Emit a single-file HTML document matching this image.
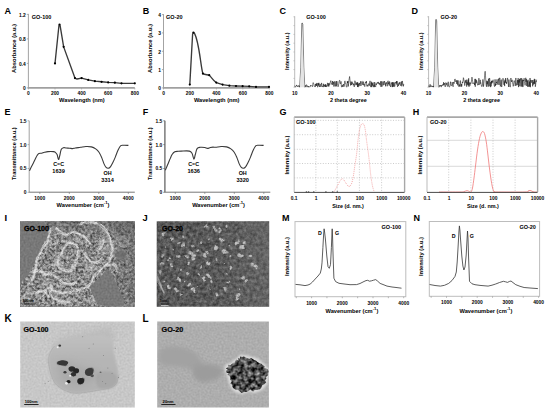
<!DOCTYPE html>
<html><head><meta charset="utf-8"><style>
html,body{margin:0;padding:0;background:#fff;}
svg{display:block;}
text{font-family:"Liberation Sans",sans-serif;font-weight:bold;}
</style></head><body>
<svg width="550" height="412" viewBox="0 0 550 412">
<rect width="550" height="412" fill="#fff"/>
<text x="4.60" y="13.90" font-size="9" text-anchor="start" fill="#000" >A</text>
<text x="142.80" y="13.90" font-size="9" text-anchor="start" fill="#000" >B</text>
<text x="279.40" y="13.90" font-size="9" text-anchor="start" fill="#000" >C</text>
<text x="411.50" y="13.90" font-size="9" text-anchor="start" fill="#000" >D</text>
<text x="4.60" y="115.40" font-size="9" text-anchor="start" fill="#000" >E</text>
<text x="142.80" y="115.40" font-size="9" text-anchor="start" fill="#000" >F</text>
<text x="279.60" y="115.40" font-size="9" text-anchor="start" fill="#000" >G</text>
<text x="412.80" y="115.40" font-size="9" text-anchor="start" fill="#000" >H</text>
<text x="4.60" y="221.00" font-size="9.4" text-anchor="start" fill="#000" >I</text>
<text x="142.60" y="221.00" font-size="9.4" text-anchor="start" fill="#000" >J</text>
<text x="281.90" y="221.00" font-size="9" text-anchor="start" fill="#000" >M</text>
<text x="413.40" y="221.00" font-size="9" text-anchor="start" fill="#000" >N</text>
<text x="4.40" y="322.10" font-size="10" text-anchor="start" fill="#000" >K</text>
<text x="142.50" y="322.10" font-size="10" text-anchor="start" fill="#000" >L</text>
<line x1="28.40" y1="13.90" x2="28.40" y2="88.00" stroke="#999" stroke-width="0.9" />
<line x1="26.80" y1="14.40" x2="28.40" y2="14.40" stroke="#999" stroke-width="0.8" />
<text x="25.80" y="16.80" font-size="4.9" text-anchor="end" fill="#000" >1.2</text>
<line x1="26.80" y1="38.90" x2="28.40" y2="38.90" stroke="#999" stroke-width="0.8" />
<text x="25.80" y="41.30" font-size="4.9" text-anchor="end" fill="#000" >0.8</text>
<line x1="26.80" y1="63.40" x2="28.40" y2="63.40" stroke="#999" stroke-width="0.8" />
<text x="25.80" y="65.80" font-size="4.9" text-anchor="end" fill="#000" >0.4</text>
<line x1="26.80" y1="87.90" x2="28.40" y2="87.90" stroke="#999" stroke-width="0.8" />
<text x="25.80" y="90.30" font-size="4.9" text-anchor="end" fill="#000" >0</text>
<line x1="27.90" y1="87.90" x2="134.80" y2="87.90" stroke="#a0a0a0" stroke-width="1.6" />
<line x1="28.40" y1="88.20" x2="28.40" y2="89.40" stroke="#999" stroke-width="0.8" />
<text x="28.40" y="94.50" font-size="4.9" text-anchor="middle" fill="#000" >0</text>
<line x1="55.00" y1="88.20" x2="55.00" y2="89.40" stroke="#999" stroke-width="0.8" />
<text x="55.00" y="94.50" font-size="4.9" text-anchor="middle" fill="#000" >200</text>
<line x1="81.60" y1="88.20" x2="81.60" y2="89.40" stroke="#999" stroke-width="0.8" />
<text x="81.60" y="94.50" font-size="4.9" text-anchor="middle" fill="#000" >400</text>
<line x1="108.20" y1="88.20" x2="108.20" y2="89.40" stroke="#999" stroke-width="0.8" />
<text x="108.20" y="94.50" font-size="4.9" text-anchor="middle" fill="#000" >600</text>
<line x1="134.80" y1="88.20" x2="134.80" y2="89.40" stroke="#999" stroke-width="0.8" />
<text x="134.80" y="94.50" font-size="4.9" text-anchor="middle" fill="#000" >800</text>
<text x="81.90" y="102.00" font-size="5.7" text-anchor="middle" fill="#000" >Wavelength (nm)</text>
<text x="0" y="0" font-size="5.8" text-anchor="middle" fill="#000" transform="translate(16.03,48.50) rotate(-90)">Absorbance (a.u.)</text>
<text x="31.80" y="19.20" font-size="5.5" text-anchor="start" fill="#000" >GO-100</text>
<path d="M55.00,63.40 L58.92,25.71 Q59.52,23.91 60.12,25.71 L63.64,46.86 L74.95,78.10 L76.94,79.02 L81.60,78.10 L88.25,79.94 L94.90,81.16 L101.55,81.78 L108.20,82.39 L114.85,82.69 L121.50,83.31 L134.80,83.31" fill="none" stroke="#3a3a3a" stroke-width="1.35" stroke-linejoin="round"/>
<circle cx="55.00" cy="63.40" r="1.1" fill="#000"/>
<circle cx="59.52" cy="24.51" r="1.1" fill="#000"/>
<circle cx="63.64" cy="46.86" r="1.1" fill="#000"/>
<circle cx="74.95" cy="78.10" r="1.1" fill="#000"/>
<circle cx="81.60" cy="78.10" r="1.1" fill="#000"/>
<circle cx="88.25" cy="79.94" r="1.1" fill="#000"/>
<circle cx="94.90" cy="81.16" r="1.1" fill="#000"/>
<circle cx="101.55" cy="81.78" r="1.1" fill="#000"/>
<circle cx="108.20" cy="82.39" r="1.1" fill="#000"/>
<circle cx="114.85" cy="82.69" r="1.1" fill="#000"/>
<circle cx="121.50" cy="83.31" r="1.1" fill="#000"/>
<circle cx="134.80" cy="83.31" r="1.1" fill="#000"/>
<line x1="163.50" y1="14.10" x2="163.50" y2="88.00" stroke="#999" stroke-width="0.9" />
<line x1="161.90" y1="14.60" x2="163.50" y2="14.60" stroke="#999" stroke-width="0.8" />
<text x="160.90" y="17.00" font-size="4.9" text-anchor="end" fill="#000" >4</text>
<line x1="161.90" y1="32.92" x2="163.50" y2="32.92" stroke="#999" stroke-width="0.8" />
<text x="160.90" y="35.32" font-size="4.9" text-anchor="end" fill="#000" >3</text>
<line x1="161.90" y1="51.25" x2="163.50" y2="51.25" stroke="#999" stroke-width="0.8" />
<text x="160.90" y="53.65" font-size="4.9" text-anchor="end" fill="#000" >2</text>
<line x1="161.90" y1="69.58" x2="163.50" y2="69.58" stroke="#999" stroke-width="0.8" />
<text x="160.90" y="71.98" font-size="4.9" text-anchor="end" fill="#000" >1</text>
<line x1="161.90" y1="87.90" x2="163.50" y2="87.90" stroke="#999" stroke-width="0.8" />
<text x="160.90" y="90.30" font-size="4.9" text-anchor="end" fill="#000" >0</text>
<line x1="163.00" y1="87.90" x2="269.30" y2="87.90" stroke="#a0a0a0" stroke-width="1.6" />
<line x1="163.50" y1="88.20" x2="163.50" y2="89.40" stroke="#999" stroke-width="0.8" />
<text x="163.50" y="94.50" font-size="4.9" text-anchor="middle" fill="#000" >0</text>
<line x1="189.95" y1="88.20" x2="189.95" y2="89.40" stroke="#999" stroke-width="0.8" />
<text x="189.95" y="94.50" font-size="4.9" text-anchor="middle" fill="#000" >200</text>
<line x1="216.40" y1="88.20" x2="216.40" y2="89.40" stroke="#999" stroke-width="0.8" />
<text x="216.40" y="94.50" font-size="4.9" text-anchor="middle" fill="#000" >400</text>
<line x1="242.85" y1="88.20" x2="242.85" y2="89.40" stroke="#999" stroke-width="0.8" />
<text x="242.85" y="94.50" font-size="4.9" text-anchor="middle" fill="#000" >600</text>
<line x1="269.30" y1="88.20" x2="269.30" y2="89.40" stroke="#999" stroke-width="0.8" />
<text x="269.30" y="94.50" font-size="4.9" text-anchor="middle" fill="#000" >800</text>
<text x="216.70" y="102.00" font-size="5.7" text-anchor="middle" fill="#000" >Wavelength (nm)</text>
<text x="0" y="0" font-size="5.8" text-anchor="middle" fill="#000" transform="translate(152.03,48.50) rotate(-90)">Absorbance (a.u.)</text>
<text x="166.10" y="19.20" font-size="5.5" text-anchor="start" fill="#000" >GO-20</text>
<path d="M189.8,84.6 L192.6,34.2 Q193.4,31.6 194.4,33.2 C196.5,37 198.5,46 200.5,60 C201.5,67 202.2,72 202.9,73.6 C204.5,74.6 206.5,74.6 209.2,75.2 C211,76.5 213,80.5 216.3,82.6 L222.60,84.60 L229.40,85.70 L236.00,86.00 L242.60,86.20 L249.20,86.30 L256.00,86.90 L269.00,86.90" fill="none" stroke="#3a3a3a" stroke-width="1.35" stroke-linejoin="round"/>
<circle cx="189.80" cy="84.60" r="1.1" fill="#000"/>
<circle cx="193.40" cy="32.60" r="1.1" fill="#000"/>
<circle cx="202.90" cy="73.60" r="1.1" fill="#000"/>
<circle cx="209.20" cy="75.20" r="1.1" fill="#000"/>
<circle cx="216.30" cy="82.60" r="1.1" fill="#000"/>
<circle cx="222.60" cy="84.60" r="1.1" fill="#000"/>
<circle cx="229.40" cy="85.70" r="1.1" fill="#000"/>
<circle cx="236.00" cy="86.00" r="1.1" fill="#000"/>
<circle cx="242.60" cy="86.20" r="1.1" fill="#000"/>
<circle cx="249.20" cy="86.30" r="1.1" fill="#000"/>
<circle cx="256.00" cy="86.90" r="1.1" fill="#000"/>
<circle cx="269.00" cy="86.90" r="1.1" fill="#000"/>
<line x1="294.70" y1="16.20" x2="294.70" y2="87.50" stroke="#aaa" stroke-width="0.8" />
<line x1="293.40" y1="16.80" x2="294.70" y2="16.80" stroke="#aaa" stroke-width="0.6" />
<line x1="293.40" y1="25.60" x2="294.70" y2="25.60" stroke="#aaa" stroke-width="0.6" />
<line x1="293.40" y1="34.40" x2="294.70" y2="34.40" stroke="#aaa" stroke-width="0.6" />
<line x1="293.40" y1="43.20" x2="294.70" y2="43.20" stroke="#aaa" stroke-width="0.6" />
<line x1="293.40" y1="52.00" x2="294.70" y2="52.00" stroke="#aaa" stroke-width="0.6" />
<line x1="293.40" y1="60.80" x2="294.70" y2="60.80" stroke="#aaa" stroke-width="0.6" />
<line x1="293.40" y1="69.60" x2="294.70" y2="69.60" stroke="#aaa" stroke-width="0.6" />
<line x1="293.40" y1="78.40" x2="294.70" y2="78.40" stroke="#aaa" stroke-width="0.6" />
<line x1="293.40" y1="87.20" x2="294.70" y2="87.20" stroke="#aaa" stroke-width="0.6" />
<text x="294.70" y="94.60" font-size="4.9" text-anchor="middle" fill="#000" >10</text>
<text x="331.00" y="94.60" font-size="4.9" text-anchor="middle" fill="#000" >20</text>
<text x="367.30" y="94.60" font-size="4.9" text-anchor="middle" fill="#000" >30</text>
<text x="403.60" y="94.60" font-size="4.9" text-anchor="middle" fill="#000" >40</text>
<text x="348.35" y="102.00" font-size="5.45" text-anchor="middle" fill="#000" >2 theta degree</text>
<text x="0" y="0" font-size="5.55" text-anchor="middle" fill="#000" transform="translate(289.14,51.20) rotate(-90)">Intensity (a.u.)</text>
<text x="306.20" y="19.20" font-size="5.5" text-anchor="start" fill="#000" >GO-100</text>
<polyline points="294.70,85.70 295.50,87.20 295.90,86.27 296.23,85.99 296.56,84.93 296.89,86.24 297.22,86.13 297.55,85.91 297.88,86.90 298.21,86.12 298.54,85.80 298.87,85.33 299.20,87.07 299.53,86.64 299.60,87.20 300.80,67.20 301.80,23.40 302.30,22.90 302.80,24.40 303.80,67.20 304.80,87.20 305.06,87.08 305.39,85.28 305.72,85.62 306.05,87.15 306.38,84.76 306.71,84.81 307.04,85.73 307.37,85.84 307.70,86.95 308.03,87.19 308.36,86.07 308.69,87.13 309.02,86.89 309.35,86.78 309.68,87.17 310.01,86.24 310.34,86.30 310.67,85.18 311.00,86.10 311.33,85.77 311.66,86.15 311.99,85.71 312.32,86.26 312.65,86.69 312.98,82.71 313.31,82.72 313.64,83.58 313.97,84.28 314.30,86.14 314.63,86.48 314.96,86.25 315.29,87.04 315.62,83.97 315.95,85.77 316.28,83.55 316.61,85.83 316.94,82.93 317.27,83.54 317.60,87.20 317.93,86.56 318.26,83.20 318.59,85.45 318.92,82.81 319.25,85.78 319.58,87.03 319.91,84.68 320.24,83.91 320.57,86.33 320.90,86.99 321.23,86.06 321.56,82.90 321.89,84.02 322.22,86.89 322.55,86.42 322.88,86.94 323.21,87.07 323.54,83.81 323.87,86.68 324.20,85.02 324.53,85.55 324.86,86.63 325.19,84.15 325.52,86.85 325.85,84.61 326.18,86.89 326.51,85.68 326.84,86.55 327.17,86.33 327.50,82.86 327.83,83.78 328.16,86.18 328.49,83.34 328.82,86.56 329.15,85.79 329.48,83.50 329.81,84.61 330.14,82.76 330.47,81.57 330.80,80.61 331.13,82.59 331.46,83.89 331.79,83.76 332.12,84.78 332.45,81.03 332.78,84.58 333.11,83.95 333.44,81.77 333.77,86.42 334.10,86.57 334.43,81.44 334.76,82.14 335.09,86.05 335.42,86.39 335.75,82.74 336.08,81.18 336.41,86.35 336.74,81.10 337.07,81.64 337.40,83.74 337.73,84.99 338.06,86.82 338.39,85.90 338.72,83.87 339.05,81.57 339.38,80.47 339.71,80.18 340.04,82.95 340.37,84.06 340.70,83.66 341.03,81.36 341.36,86.31 341.69,87.16 342.02,85.94 342.35,84.83 342.68,87.01 343.01,86.46 343.34,85.33 343.67,83.97 344.00,86.68 344.33,85.37 344.66,81.57 344.99,80.86 345.32,83.36 345.65,83.10 345.98,83.88 346.31,86.64 346.64,87.10 346.97,87.16 347.30,81.42 347.63,83.03 347.96,81.00 348.29,86.44 348.62,83.58 348.95,80.28 349.28,78.36 349.61,76.49 349.94,79.85 350.27,82.33 350.60,85.44 350.93,81.50 351.26,81.73 351.59,85.02 351.92,82.35 352.25,81.79 352.58,83.96 352.91,83.59 353.24,85.25 353.57,83.89 353.90,83.70 354.23,86.92 354.56,83.48 354.89,80.75 355.22,81.66 355.55,82.83 355.88,85.21 356.21,82.78 356.54,83.90 356.87,84.87 357.20,81.99 357.53,86.91 357.86,82.66 358.19,87.12 358.52,83.76 358.85,84.60 359.18,86.16 359.51,83.05 359.84,84.49 360.17,83.66 360.50,81.34 360.83,86.02 361.16,84.92 361.49,83.83 361.82,81.46 362.15,81.18 362.48,83.15 362.81,84.94 363.14,82.24 363.47,81.66 363.80,85.23 364.13,83.89 364.46,85.66 364.79,86.66 365.12,84.49 365.45,82.00 365.78,81.90 366.11,82.95 366.44,81.10 366.77,85.89 367.10,86.50 367.43,84.80 367.76,85.90 368.09,86.25 368.42,85.04 368.75,83.58 369.08,84.51 369.41,85.66 369.74,81.98 370.07,80.85 370.40,84.79 370.73,86.95 371.06,87.11 371.39,81.72 371.72,87.08 372.05,82.97 372.38,83.98 372.71,85.70 373.04,82.35 373.37,87.15 373.70,86.66 374.03,84.77 374.36,87.14 374.69,82.05 375.02,86.12 375.35,86.64 375.68,87.06 376.01,83.56 376.34,84.83 376.67,83.55 377.00,83.37 377.33,82.23 377.66,83.15 377.99,83.66 378.32,81.90 378.65,82.93 378.98,84.19 379.31,83.06 379.64,83.66 379.97,85.17 380.30,82.34 380.63,81.45 380.96,86.89 381.29,81.24 381.62,82.87 381.95,86.69 382.28,84.78 382.61,83.58 382.94,81.42 383.27,85.28 383.60,83.99 383.93,81.67 384.26,82.31 384.59,81.15 384.92,84.71 385.25,83.40 385.58,86.30 385.91,82.87 386.24,82.14 386.57,83.47 386.90,82.91 387.23,86.26 387.56,81.50 387.89,80.86 388.22,80.88 388.55,84.21 388.88,82.35 389.21,85.63 389.54,81.42 389.87,81.85 390.20,85.46 390.53,86.91 390.86,84.86 391.19,84.12 391.52,82.53 391.85,84.55 392.18,87.12 392.51,82.21 392.84,86.99 393.17,82.28 393.50,86.48 393.83,85.54 394.16,82.37 394.49,86.64 394.82,86.60 395.15,84.35 395.48,82.86 395.81,81.97 396.14,83.12 396.47,81.14 396.80,84.52 397.13,81.11 397.46,86.90 397.79,86.21 398.12,84.28 398.45,85.82 398.78,82.82 399.11,83.49 399.44,84.31 399.77,81.94 400.10,84.05 400.43,85.69 400.76,85.25 401.09,81.93 401.42,81.50 401.75,86.29 402.08,81.89 402.41,80.96 402.74,84.30 403.07,83.96 403.40,86.33 403.73,84.22 404.06,84.45" fill="none" stroke="#000" stroke-width="0.5" stroke-linejoin="round" />
<path d="M300.00,87.20 L301.00,67.20 L302.20,25.90 L303.50,67.20 L304.40,87.20 Z" fill="#e4e4e4"/>
<line x1="428.60" y1="16.20" x2="428.60" y2="87.50" stroke="#aaa" stroke-width="0.8" />
<line x1="427.30" y1="16.80" x2="428.60" y2="16.80" stroke="#aaa" stroke-width="0.6" />
<line x1="427.30" y1="25.60" x2="428.60" y2="25.60" stroke="#aaa" stroke-width="0.6" />
<line x1="427.30" y1="34.40" x2="428.60" y2="34.40" stroke="#aaa" stroke-width="0.6" />
<line x1="427.30" y1="43.20" x2="428.60" y2="43.20" stroke="#aaa" stroke-width="0.6" />
<line x1="427.30" y1="52.00" x2="428.60" y2="52.00" stroke="#aaa" stroke-width="0.6" />
<line x1="427.30" y1="60.80" x2="428.60" y2="60.80" stroke="#aaa" stroke-width="0.6" />
<line x1="427.30" y1="69.60" x2="428.60" y2="69.60" stroke="#aaa" stroke-width="0.6" />
<line x1="427.30" y1="78.40" x2="428.60" y2="78.40" stroke="#aaa" stroke-width="0.6" />
<line x1="427.30" y1="87.20" x2="428.60" y2="87.20" stroke="#aaa" stroke-width="0.6" />
<text x="428.60" y="94.60" font-size="4.9" text-anchor="middle" fill="#000" >10</text>
<text x="464.47" y="94.60" font-size="4.9" text-anchor="middle" fill="#000" >20</text>
<text x="500.33" y="94.60" font-size="4.9" text-anchor="middle" fill="#000" >30</text>
<text x="536.20" y="94.60" font-size="4.9" text-anchor="middle" fill="#000" >40</text>
<text x="481.60" y="102.00" font-size="5.45" text-anchor="middle" fill="#000" >2 theta degree</text>
<text x="0" y="0" font-size="5.55" text-anchor="middle" fill="#000" transform="translate(423.04,51.20) rotate(-90)">Intensity (a.u.)</text>
<text x="440.50" y="19.20" font-size="5.5" text-anchor="start" fill="#000" >GO-20</text>
<polyline points="428.60,85.70 429.40,87.20 429.80,84.48 430.13,84.39 430.46,84.60 430.79,87.07 431.12,85.64 431.45,86.17 431.78,85.84 432.11,86.97 432.44,86.82 432.77,86.11 433.10,86.75 433.43,86.08 433.50,87.20 434.70,67.20 435.70,19.80 436.20,19.30 436.70,20.80 437.70,67.20 438.70,87.20 438.96,87.17 439.29,87.06 439.62,85.24 439.95,86.18 440.28,85.90 440.61,85.16 440.94,86.37 441.27,87.12 441.60,84.99 441.93,85.65 442.26,85.42 442.59,85.55 442.92,84.31 443.25,85.23 443.58,82.23 443.91,85.19 444.24,83.72 444.57,83.03 444.90,85.55 445.23,86.88 445.56,84.45 445.89,82.57 446.22,83.58 446.55,84.64 446.88,83.17 447.21,86.37 447.54,86.39 447.87,85.49 448.20,81.77 448.53,86.29 448.86,86.73 449.19,86.81 449.52,87.08 449.85,85.80 450.18,83.71 450.51,81.73 450.84,85.44 451.17,85.18 451.50,85.72 451.83,85.61 452.16,82.09 452.49,83.89 452.82,85.91 453.15,86.77 453.48,82.04 453.81,82.66 454.14,83.60 454.47,80.82 454.80,79.16 455.13,78.95 455.46,81.34 455.79,81.82 456.12,80.43 456.45,80.64 456.78,83.97 457.11,80.30 457.44,82.32 457.77,85.34 458.10,80.42 458.43,85.13 458.76,86.30 459.09,86.92 459.42,84.51 459.75,86.28 460.08,80.78 460.41,80.63 460.74,86.17 461.07,86.79 461.40,84.04 461.73,86.44 462.06,83.93 462.39,81.80 462.72,82.91 463.05,81.19 463.38,77.68 463.71,78.70 464.04,81.26 464.37,81.66 464.70,85.62 465.03,84.09 465.36,80.33 465.69,82.63 466.02,82.70 466.35,79.71 466.68,86.61 467.01,81.85 467.34,84.80 467.67,82.60 468.00,79.61 468.33,85.53 468.66,78.27 468.99,86.80 469.32,82.58 469.65,82.78 469.98,85.64 470.31,82.59 470.64,83.50 470.97,83.70 471.30,82.13 471.63,79.90 471.96,77.11 472.29,79.19 472.62,81.38 472.95,83.96 473.28,83.40 473.61,82.81 473.94,82.64 474.27,82.94 474.60,85.11 474.93,78.89 475.26,86.76 475.59,79.14 475.92,79.29 476.25,83.23 476.58,80.27 476.91,81.41 477.24,82.13 477.57,85.16 477.90,84.92 478.23,84.65 478.56,85.07 478.89,78.18 479.22,84.72 479.55,84.30 479.88,83.99 480.21,79.83 480.54,83.43 480.87,82.66 481.20,85.47 481.53,85.28 481.86,86.74 482.19,85.79 482.52,85.40 482.85,79.42 483.18,83.18 483.51,86.60 483.84,83.57 484.17,80.98 484.50,77.17 484.83,73.09 485.16,71.27 485.49,75.34 485.82,80.99 486.15,84.99 486.48,86.73 486.81,80.70 487.14,84.22 487.47,81.34 487.80,85.15 488.13,86.81 488.46,78.70 488.79,81.60 489.12,86.17 489.45,77.98 489.78,78.74 490.11,86.07 490.44,87.13 490.77,82.07 491.10,86.39 491.43,80.77 491.76,83.51 492.09,81.02 492.42,82.50 492.75,80.34 493.08,79.77 493.41,82.15 493.74,82.27 494.07,84.85 494.40,86.43 494.73,86.72 495.06,79.37 495.39,85.88 495.72,83.93 496.05,84.94 496.38,81.98 496.71,82.87 497.04,79.34 497.37,83.83 497.70,84.53 498.03,81.64 498.36,80.63 498.69,78.58 499.02,84.99 499.35,79.03 499.68,77.92 500.01,77.91 500.34,86.46 500.67,84.36 501.00,80.30 501.33,79.66 501.66,87.03 501.99,84.22 502.32,80.48 502.65,80.35 502.98,78.22 503.31,79.19 503.64,82.29 503.97,84.89 504.30,81.43 504.63,86.14 504.96,79.77 505.29,82.44 505.62,78.08 505.95,82.84 506.28,81.94 506.61,83.91 506.94,82.10 507.27,78.65 507.60,77.92 507.93,81.54 508.26,83.89 508.59,86.90 508.92,79.56 509.25,84.26 509.58,84.34 509.91,86.93 510.24,87.06 510.57,84.27 510.90,78.00 511.23,81.02 511.56,81.96 511.89,80.19 512.22,79.90 512.55,82.70 512.88,84.39 513.21,86.35 513.54,85.01 513.87,81.97 514.20,80.57 514.53,82.12 514.86,82.89 515.19,85.95 515.52,84.67 515.85,77.96 516.18,85.36 516.51,85.23 516.84,83.27 517.17,82.74 517.50,80.12 517.83,85.13 518.16,78.14 518.49,87.12 518.82,80.12 519.15,82.50 519.48,78.86 519.81,86.29 520.14,81.23 520.47,78.32 520.80,81.47 521.13,86.58 521.46,78.63 521.79,78.06 522.12,86.59 522.45,79.70 522.78,86.80 523.11,86.79 523.44,80.06 523.77,80.90 524.10,78.21 524.43,81.85 524.76,83.09 525.09,85.33 525.42,82.47 525.75,77.79 526.08,81.69 526.41,79.15 526.74,85.95 527.07,80.74 527.40,80.77 527.73,86.85 528.06,79.78 528.39,86.12 528.72,85.79 529.05,86.91 529.38,81.52 529.71,86.37 530.04,77.99 530.37,87.20 530.70,79.91 531.03,80.47 531.36,82.50 531.69,82.47 532.02,80.04 532.35,81.80 532.68,86.39 533.01,80.05 533.34,84.61 533.67,82.35 534.00,83.08 534.33,78.83 534.66,84.04 534.99,79.41 535.32,86.78 535.65,84.86 535.98,81.44 536.31,82.06 536.64,79.65" fill="none" stroke="#000" stroke-width="0.5" stroke-linejoin="round" />
<path d="M433.90,87.20 L434.90,67.20 L436.10,22.30 L437.40,67.20 L438.30,87.20 Z" fill="#e4e4e4"/>
<line x1="29.20" y1="120.80" x2="29.20" y2="192.30" stroke="#999" stroke-width="0.9" />
<line x1="27.60" y1="120.80" x2="29.20" y2="120.80" stroke="#999" stroke-width="0.8" />
<text x="26.60" y="122.70" font-size="4.9" text-anchor="end" fill="#000" >1.5</text>
<line x1="27.60" y1="144.63" x2="29.20" y2="144.63" stroke="#999" stroke-width="0.8" />
<text x="26.60" y="146.53" font-size="4.9" text-anchor="end" fill="#000" >1.0</text>
<line x1="27.60" y1="168.47" x2="29.20" y2="168.47" stroke="#999" stroke-width="0.8" />
<text x="26.60" y="170.37" font-size="4.9" text-anchor="end" fill="#000" >0.5</text>
<line x1="27.60" y1="192.30" x2="29.20" y2="192.30" stroke="#999" stroke-width="0.8" />
<text x="26.60" y="194.20" font-size="4.9" text-anchor="end" fill="#000" >0</text>
<line x1="29.20" y1="192.20" x2="134.80" y2="192.20" stroke="#777" stroke-width="1.0" />
<line x1="39.80" y1="192.20" x2="39.80" y2="193.80" stroke="#777" stroke-width="0.8" />
<text x="39.80" y="200.20" font-size="4.9" text-anchor="middle" fill="#000" >1000</text>
<line x1="69.30" y1="192.20" x2="69.30" y2="193.80" stroke="#777" stroke-width="0.8" />
<text x="69.30" y="200.20" font-size="4.9" text-anchor="middle" fill="#000" >2000</text>
<line x1="98.80" y1="192.20" x2="98.80" y2="193.80" stroke="#777" stroke-width="0.8" />
<text x="98.80" y="200.20" font-size="4.9" text-anchor="middle" fill="#000" >3000</text>
<line x1="128.30" y1="192.20" x2="128.30" y2="193.80" stroke="#777" stroke-width="0.8" />
<text x="128.30" y="200.20" font-size="4.9" text-anchor="middle" fill="#000" >4000</text>
<text x="83.00" y="206.60" font-size="5.7" text-anchor="middle" fill="#000" >Wavenumber (cm<tspan font-size="4.2" dy="-2.2">-1</tspan><tspan dy="2.2">)</tspan></text>
<text x="0" y="0" font-size="5.6" text-anchor="middle" fill="#000" transform="translate(15.96,153.70) rotate(-90)">Transmittance (a.u.)</text>
<path d="M29.50,170.80 C29.83,170.08 30.83,167.85 31.50,166.50 C32.17,165.15 32.85,163.98 33.50,162.70 C34.15,161.42 34.80,160.00 35.40,158.80 C36.00,157.60 36.52,156.38 37.10,155.50 C37.68,154.62 38.15,153.88 38.90,153.50 C39.65,153.12 40.68,153.40 41.60,153.20 C42.52,153.00 43.33,152.57 44.40,152.30 C45.47,152.03 46.48,151.72 48.00,151.60 C49.52,151.48 52.28,151.48 53.50,151.60 C54.72,151.72 54.70,151.82 55.30,152.30 C55.90,152.78 56.57,153.30 57.10,154.50 C57.63,155.70 58.05,159.33 58.50,159.50 C58.95,159.67 59.35,157.17 59.80,155.50 C60.25,153.83 60.58,150.80 61.20,149.50 C61.82,148.20 62.67,147.95 63.50,147.70 C64.33,147.45 65.15,147.92 66.20,148.00 C67.25,148.08 68.75,148.10 69.80,148.20 C70.85,148.30 71.58,148.63 72.50,148.60 C73.42,148.57 73.97,148.22 75.30,148.00 C76.63,147.78 78.73,147.55 80.50,147.30 C82.27,147.05 84.08,146.57 85.90,146.50 C87.72,146.43 89.77,146.50 91.40,146.90 C93.03,147.30 94.43,148.02 95.70,148.90 C96.97,149.78 98.00,150.75 99.00,152.20 C100.00,153.65 100.88,155.70 101.70,157.60 C102.52,159.50 103.17,161.97 103.90,163.60 C104.63,165.23 105.37,166.62 106.10,167.40 C106.83,168.18 107.58,168.38 108.30,168.30 C109.02,168.22 109.68,167.77 110.40,166.90 C111.12,166.03 111.78,164.73 112.60,163.10 C113.42,161.47 114.38,159.28 115.30,157.10 C116.22,154.92 117.18,151.92 118.10,150.00 C119.02,148.08 119.80,146.38 120.80,145.60 C121.80,144.82 122.83,145.33 124.10,145.30 C125.37,145.27 127.68,145.38 128.40,145.40" fill="none" stroke="#3a3a3a" stroke-width="1.1" stroke-linejoin="round" />
<text x="58.60" y="166.00" font-size="5.4" text-anchor="middle" fill="#000" >C=C</text>
<text x="58.60" y="172.50" font-size="5.6" text-anchor="middle" fill="#000" >1639</text>
<text x="107.60" y="175.40" font-size="5.4" text-anchor="middle" fill="#000" >OH</text>
<text x="107.60" y="182.40" font-size="5.6" text-anchor="middle" fill="#000" >3314</text>
<line x1="164.90" y1="120.80" x2="164.90" y2="192.30" stroke="#666" stroke-width="1.3" />
<line x1="163.30" y1="120.80" x2="164.90" y2="120.80" stroke="#666" stroke-width="0.8" />
<text x="162.30" y="122.70" font-size="4.9" text-anchor="end" fill="#000" >1.5</text>
<line x1="163.30" y1="144.63" x2="164.90" y2="144.63" stroke="#666" stroke-width="0.8" />
<text x="162.30" y="146.53" font-size="4.9" text-anchor="end" fill="#000" >1.0</text>
<line x1="163.30" y1="168.47" x2="164.90" y2="168.47" stroke="#666" stroke-width="0.8" />
<text x="162.30" y="170.37" font-size="4.9" text-anchor="end" fill="#000" >0.5</text>
<line x1="163.30" y1="192.30" x2="164.90" y2="192.30" stroke="#666" stroke-width="0.8" />
<text x="162.30" y="194.20" font-size="4.9" text-anchor="end" fill="#000" >0</text>
<line x1="164.90" y1="192.20" x2="270.30" y2="192.20" stroke="#777" stroke-width="1.0" />
<line x1="175.30" y1="192.20" x2="175.30" y2="193.80" stroke="#777" stroke-width="0.8" />
<text x="175.30" y="200.20" font-size="4.9" text-anchor="middle" fill="#000" >1000</text>
<line x1="204.80" y1="192.20" x2="204.80" y2="193.80" stroke="#777" stroke-width="0.8" />
<text x="204.80" y="200.20" font-size="4.9" text-anchor="middle" fill="#000" >2000</text>
<line x1="234.30" y1="192.20" x2="234.30" y2="193.80" stroke="#777" stroke-width="0.8" />
<text x="234.30" y="200.20" font-size="4.9" text-anchor="middle" fill="#000" >3000</text>
<line x1="263.80" y1="192.20" x2="263.80" y2="193.80" stroke="#777" stroke-width="0.8" />
<text x="263.80" y="200.20" font-size="4.9" text-anchor="middle" fill="#000" >4000</text>
<text x="218.60" y="206.60" font-size="5.7" text-anchor="middle" fill="#000" >Wavenumber (cm<tspan font-size="4.2" dy="-2.2">-1</tspan><tspan dy="2.2">)</tspan></text>
<text x="0" y="0" font-size="5.6" text-anchor="middle" fill="#000" transform="translate(151.66,153.70) rotate(-90)">Transmittance (a.u.)</text>
<path d="M165.30,170.20 C165.57,169.58 166.37,167.75 166.90,166.50 C167.43,165.25 167.93,164.05 168.50,162.70 C169.07,161.35 169.70,159.77 170.30,158.40 C170.90,157.03 171.35,155.60 172.10,154.50 C172.85,153.40 173.82,152.33 174.80,151.80 C175.78,151.27 176.93,151.42 178.00,151.30 C179.07,151.18 179.30,151.13 181.20,151.10 C183.10,151.07 187.58,150.68 189.40,151.10 C191.22,151.52 191.35,152.27 192.10,153.60 C192.85,154.93 193.37,158.95 193.90,159.10 C194.43,159.25 194.77,156.25 195.30,154.50 C195.83,152.75 196.27,149.80 197.10,148.60 C197.93,147.40 199.02,147.48 200.30,147.30 C201.58,147.12 203.60,147.32 204.80,147.50 C206.00,147.68 206.58,148.40 207.50,148.40 C208.42,148.40 209.38,147.72 210.30,147.50 C211.22,147.28 212.10,147.13 213.00,147.10 C213.90,147.07 214.35,147.40 215.70,147.30 C217.05,147.20 219.28,146.57 221.10,146.50 C222.92,146.43 224.97,146.50 226.60,146.90 C228.23,147.30 229.63,148.02 230.90,148.90 C232.17,149.78 233.20,150.75 234.20,152.20 C235.20,153.65 236.08,155.70 236.90,157.60 C237.72,159.50 238.37,161.97 239.10,163.60 C239.83,165.23 240.57,166.62 241.30,167.40 C242.03,168.18 242.78,168.38 243.50,168.30 C244.22,168.22 244.88,167.77 245.60,166.90 C246.32,166.03 246.98,164.73 247.80,163.10 C248.62,161.47 249.58,159.28 250.50,157.10 C251.42,154.92 252.38,151.92 253.30,150.00 C254.22,148.08 255.00,146.38 256.00,145.60 C257.00,144.82 258.03,145.33 259.30,145.30 C260.57,145.27 262.88,145.38 263.60,145.40" fill="none" stroke="#3a3a3a" stroke-width="1.1" stroke-linejoin="round" />
<text x="193.70" y="166.00" font-size="5.4" text-anchor="middle" fill="#000" >C=C</text>
<text x="193.70" y="172.50" font-size="5.6" text-anchor="middle" fill="#000" >1636</text>
<text x="242.70" y="175.40" font-size="5.4" text-anchor="middle" fill="#000" >OH</text>
<text x="242.70" y="182.40" font-size="5.6" text-anchor="middle" fill="#000" >3320</text>
<line x1="294.20" y1="120.40" x2="404.60" y2="120.40" stroke="#aaa" stroke-width="0.6" stroke-dasharray="1,1.6"/>
<line x1="294.20" y1="134.70" x2="404.60" y2="134.70" stroke="#aaa" stroke-width="0.6" stroke-dasharray="1,1.6"/>
<line x1="294.20" y1="149.30" x2="404.60" y2="149.30" stroke="#aaa" stroke-width="0.6" stroke-dasharray="1,1.6"/>
<line x1="294.20" y1="163.50" x2="404.60" y2="163.50" stroke="#aaa" stroke-width="0.6" stroke-dasharray="1,1.6"/>
<line x1="294.20" y1="177.90" x2="404.60" y2="177.90" stroke="#aaa" stroke-width="0.6" stroke-dasharray="1,1.6"/>
<line x1="315.90" y1="117.10" x2="315.90" y2="192.00" stroke="#aaa" stroke-width="0.6" stroke-dasharray="1,1.6"/>
<line x1="337.30" y1="117.10" x2="337.30" y2="192.00" stroke="#aaa" stroke-width="0.6" stroke-dasharray="1,1.6"/>
<line x1="359.40" y1="117.10" x2="359.40" y2="192.00" stroke="#aaa" stroke-width="0.6" stroke-dasharray="1,1.6"/>
<line x1="381.60" y1="117.10" x2="381.60" y2="192.00" stroke="#aaa" stroke-width="0.6" stroke-dasharray="1,1.6"/>
<line x1="294.20" y1="117.10" x2="404.60" y2="117.10" stroke="#a8a8a8" stroke-width="1.6" />
<line x1="404.60" y1="117.10" x2="404.60" y2="192.00" stroke="#a8a8a8" stroke-width="1.4" />
<line x1="294.20" y1="117.10" x2="294.20" y2="192.00" stroke="#bbb" stroke-width="1.0" />
<path d="M334.00,192.00 C334.55,191.00 336.30,187.83 337.30,186.00 C338.30,184.17 339.10,182.22 340.00,181.00 C340.90,179.78 341.82,178.50 342.70,178.70 C343.58,178.90 344.30,180.92 345.30,182.20 C346.30,183.48 347.70,186.07 348.70,186.40 C349.70,186.73 350.55,185.77 351.30,184.20 C352.05,182.63 352.63,179.92 353.20,177.00 C353.77,174.08 354.12,170.65 354.70,166.70 C355.28,162.75 356.15,157.75 356.70,153.30 C357.25,148.85 357.53,143.88 358.00,140.00 C358.47,136.12 359.00,132.50 359.50,130.00 C360.00,127.50 360.48,126.07 361.00,125.00 C361.52,123.93 362.05,123.52 362.60,123.60 C363.15,123.68 363.80,124.10 364.30,125.50 C364.80,126.90 365.23,129.58 365.60,132.00 C365.97,134.42 365.98,136.00 366.50,140.00 C367.02,144.00 368.00,150.22 368.70,156.00 C369.40,161.78 370.07,169.70 370.70,174.70 C371.33,179.70 371.95,183.23 372.50,186.00 C373.05,188.77 373.75,190.42 374.00,191.30" fill="none" stroke="#f08a8a" stroke-width="0.8" stroke-linejoin="round" stroke-dasharray="0.9,1.1"/>
<line x1="294.20" y1="192.40" x2="404.60" y2="192.40" stroke="#333" stroke-width="0.9" />
<circle cx="306.40" cy="192.00" r="0.8" fill="#444"/>
<circle cx="308.60" cy="192.00" r="0.8" fill="#444"/>
<circle cx="313.80" cy="192.00" r="0.8" fill="#444"/>
<circle cx="325.90" cy="192.00" r="0.8" fill="#444"/>
<circle cx="332.70" cy="192.00" r="0.8" fill="#444"/>
<circle cx="337.30" cy="192.00" r="0.8" fill="#444"/>
<text x="294.20" y="199.80" font-size="4.9" text-anchor="middle" fill="#000" >0.1</text>
<text x="316.10" y="199.80" font-size="4.9" text-anchor="middle" fill="#000" >1</text>
<text x="338.00" y="199.80" font-size="4.9" text-anchor="middle" fill="#000" >10</text>
<text x="359.90" y="199.80" font-size="4.9" text-anchor="middle" fill="#000" >100</text>
<text x="381.80" y="199.80" font-size="4.9" text-anchor="middle" fill="#000" >1000</text>
<text x="403.70" y="199.80" font-size="4.9" text-anchor="middle" fill="#000" >10000</text>
<text x="296.00" y="124.10" font-size="5.5" text-anchor="start" fill="#000" >GO-100</text>
<text x="348.00" y="208.40" font-size="5.4" text-anchor="middle" fill="#000" >Size (d. nm.)</text>
<text x="0" y="0" font-size="5.75" text-anchor="middle" fill="#000" transform="translate(289.01,155.00) rotate(-90)">Intensity (a.u.)</text>
<line x1="427.00" y1="140.30" x2="537.60" y2="140.30" stroke="#c8c8c8" stroke-width="0.7" />
<line x1="427.00" y1="166.30" x2="537.60" y2="166.30" stroke="#c8c8c8" stroke-width="0.7" />
<line x1="448.70" y1="117.10" x2="448.70" y2="192.00" stroke="#aaa" stroke-width="0.6" stroke-dasharray="1,1.6"/>
<line x1="470.90" y1="117.10" x2="470.90" y2="192.00" stroke="#aaa" stroke-width="0.6" stroke-dasharray="1,1.6"/>
<line x1="493.00" y1="117.10" x2="493.00" y2="192.00" stroke="#aaa" stroke-width="0.6" stroke-dasharray="1,1.6"/>
<line x1="515.10" y1="117.10" x2="515.10" y2="192.00" stroke="#aaa" stroke-width="0.6" stroke-dasharray="1,1.6"/>
<line x1="427.00" y1="117.10" x2="537.60" y2="117.10" stroke="#a8a8a8" stroke-width="1.6" />
<line x1="537.60" y1="117.10" x2="537.60" y2="192.00" stroke="#a8a8a8" stroke-width="1.4" />
<line x1="427.00" y1="117.10" x2="427.00" y2="192.00" stroke="#bbb" stroke-width="1.0" />
<path d="M439.00,192.00 C442.50,192.00 455.83,192.07 460.00,192.00 C464.17,191.93 462.82,191.83 464.00,191.60 C465.18,191.37 466.18,190.60 467.10,190.60 C468.02,190.60 468.82,191.40 469.50,191.60 C470.18,191.80 470.70,192.40 471.20,191.80 C471.70,191.20 472.03,190.30 472.50,188.00 C472.97,185.70 473.50,181.67 474.00,178.00 C474.50,174.33 474.92,170.67 475.50,166.00 C476.08,161.33 476.83,154.58 477.50,150.00 C478.17,145.42 478.87,141.33 479.50,138.50 C480.13,135.67 480.75,134.15 481.30,133.00 C481.85,131.85 482.27,131.52 482.80,131.60 C483.33,131.68 483.92,131.77 484.50,133.50 C485.08,135.23 485.75,138.58 486.30,142.00 C486.85,145.42 487.32,150.00 487.80,154.00 C488.28,158.00 488.70,162.00 489.20,166.00 C489.70,170.00 490.23,174.33 490.80,178.00 C491.37,181.67 492.00,185.70 492.60,188.00 C493.20,190.30 493.83,191.13 494.40,191.80 C494.97,192.47 490.90,191.97 496.00,192.00 C501.10,192.03 519.67,192.17 525.00,192.00 C530.33,191.83 527.17,191.27 528.00,191.00 C528.83,190.73 529.33,190.37 530.00,190.40 C530.67,190.43 531.33,190.93 532.00,191.20 C532.67,191.47 533.17,191.87 534.00,192.00 C534.83,192.13 536.50,192.00 537.00,192.00" fill="none" stroke="#f07878" stroke-width="0.8" stroke-linejoin="round" />
<line x1="427.00" y1="192.40" x2="537.60" y2="192.40" stroke="#333" stroke-width="0.9" />
<text x="427.00" y="199.80" font-size="4.9" text-anchor="middle" fill="#000" >0.1</text>
<text x="449.10" y="199.80" font-size="4.9" text-anchor="middle" fill="#000" >1</text>
<text x="471.20" y="199.80" font-size="4.9" text-anchor="middle" fill="#000" >10</text>
<text x="493.30" y="199.80" font-size="4.9" text-anchor="middle" fill="#000" >100</text>
<text x="515.40" y="199.80" font-size="4.9" text-anchor="middle" fill="#000" >1000</text>
<text x="537.50" y="199.80" font-size="4.9" text-anchor="middle" fill="#000" >10000</text>
<text x="430.10" y="124.10" font-size="5.5" text-anchor="start" fill="#000" >GO-20</text>
<text x="482.90" y="208.40" font-size="5.4" text-anchor="middle" fill="#000" >Size (d. nm.)</text>
<text x="0" y="0" font-size="5.75" text-anchor="middle" fill="#000" transform="translate(421.81,155.00) rotate(-90)">Intensity (a.u.)</text>
<rect x="295.00" y="221.60" width="110.80" height="75.10" fill="none" stroke="#bdbdbd" stroke-width="1"/>
<line x1="296.25" y1="296.70" x2="296.25" y2="298.20" stroke="#999" stroke-width="0.7" />
<line x1="311.60" y1="296.70" x2="311.60" y2="298.20" stroke="#999" stroke-width="0.7" />
<line x1="326.95" y1="296.70" x2="326.95" y2="298.20" stroke="#999" stroke-width="0.7" />
<line x1="342.30" y1="296.70" x2="342.30" y2="298.20" stroke="#999" stroke-width="0.7" />
<line x1="357.65" y1="296.70" x2="357.65" y2="298.20" stroke="#999" stroke-width="0.7" />
<line x1="373.00" y1="296.70" x2="373.00" y2="298.20" stroke="#999" stroke-width="0.7" />
<line x1="388.35" y1="296.70" x2="388.35" y2="298.20" stroke="#999" stroke-width="0.7" />
<line x1="403.70" y1="296.70" x2="403.70" y2="298.20" stroke="#999" stroke-width="0.7" />
<text x="311.60" y="304.70" font-size="4.9" text-anchor="middle" fill="#000" >1000</text>
<text x="342.30" y="304.70" font-size="4.9" text-anchor="middle" fill="#000" >2000</text>
<text x="373.00" y="304.70" font-size="4.9" text-anchor="middle" fill="#000" >3000</text>
<text x="403.70" y="304.70" font-size="4.9" text-anchor="middle" fill="#000" >4000</text>
<text x="351.90" y="312.60" font-size="5.7" text-anchor="middle" fill="#000" >Wavenumber (cm<tspan font-size="4.2" dy="-2.2">-1</tspan><tspan dy="2.2">)</tspan></text>
<text x="0" y="0" font-size="5.75" text-anchor="middle" fill="#000" transform="translate(289.01,256.50) rotate(-90)">Intensity (a.u.)</text>
<text x="381.60" y="229.20" font-size="5.5" text-anchor="start" fill="#000" >GO-100</text>
<text x="319.80" y="235.30" font-size="5.3" text-anchor="middle" fill="#000" >D</text>
<text x="337.00" y="235.30" font-size="5.3" text-anchor="middle" fill="#000" >G</text>
<polyline points="295.50,284.40 300.00,284.80 305.00,285.60 308.00,285.00 310.10,284.10 312.50,282.00 315.20,279.00 318.00,276.00 320.30,273.10 321.30,269.00 322.00,262.90 322.90,247.50 323.60,235.00 324.10,228.80 324.60,232.00 325.40,239.00 326.80,256.00 328.00,266.60 329.30,268.30 330.50,264.60 331.40,247.50 331.90,235.00 332.20,228.80 332.60,238.00 333.10,256.00 333.90,278.20 335.60,281.60 339.00,283.30 345.00,284.10 350.00,284.70 356.60,284.60 360.00,283.50 364.00,281.50 366.00,280.60 367.70,280.30 369.50,281.20 371.50,280.80 373.50,280.20 375.70,279.60 377.50,281.00 380.10,283.40 383.00,284.50 387.00,286.10 392.00,287.00 397.00,287.60 401.50,288.20" fill="none" stroke="#333" stroke-width="0.8" stroke-linejoin="round" />
<rect x="429.30" y="221.50" width="110.30" height="74.80" fill="none" stroke="#bdbdbd" stroke-width="1"/>
<line x1="431.15" y1="296.30" x2="431.15" y2="297.80" stroke="#999" stroke-width="0.7" />
<line x1="446.50" y1="296.30" x2="446.50" y2="297.80" stroke="#999" stroke-width="0.7" />
<line x1="461.85" y1="296.30" x2="461.85" y2="297.80" stroke="#999" stroke-width="0.7" />
<line x1="477.20" y1="296.30" x2="477.20" y2="297.80" stroke="#999" stroke-width="0.7" />
<line x1="492.55" y1="296.30" x2="492.55" y2="297.80" stroke="#999" stroke-width="0.7" />
<line x1="507.90" y1="296.30" x2="507.90" y2="297.80" stroke="#999" stroke-width="0.7" />
<line x1="523.25" y1="296.30" x2="523.25" y2="297.80" stroke="#999" stroke-width="0.7" />
<line x1="538.60" y1="296.30" x2="538.60" y2="297.80" stroke="#999" stroke-width="0.7" />
<text x="446.50" y="304.30" font-size="4.9" text-anchor="middle" fill="#000" >1000</text>
<text x="477.20" y="304.30" font-size="4.9" text-anchor="middle" fill="#000" >2000</text>
<text x="507.90" y="304.30" font-size="4.9" text-anchor="middle" fill="#000" >3000</text>
<text x="538.60" y="304.30" font-size="4.9" text-anchor="middle" fill="#000" >4000</text>
<text x="485.95" y="312.60" font-size="5.7" text-anchor="middle" fill="#000" >Wavenumber (cm<tspan font-size="4.2" dy="-2.2">-1</tspan><tspan dy="2.2">)</tspan></text>
<text x="0" y="0" font-size="5.75" text-anchor="middle" fill="#000" transform="translate(423.31,256.50) rotate(-90)">Intensity (a.u.)</text>
<text x="519.40" y="229.20" font-size="5.5" text-anchor="start" fill="#000" >GO-20</text>
<text x="453.60" y="238.40" font-size="5.3" text-anchor="middle" fill="#000" >D</text>
<text x="471.70" y="238.40" font-size="5.3" text-anchor="middle" fill="#000" >G</text>
<polyline points="429.60,284.50 435.00,285.50 440.40,286.10 444.50,285.30 448.70,283.40 452.00,280.50 455.00,276.40 456.30,272.00 457.20,262.00 458.20,245.00 458.90,232.00 459.40,225.90 459.90,230.00 460.60,240.00 461.80,256.00 462.90,266.00 463.90,270.00 465.00,267.00 466.20,255.00 467.00,240.00 467.50,231.00 468.00,238.00 468.60,258.00 469.50,281.30 472.00,283.80 475.00,284.70 480.00,285.40 488.10,286.10 492.00,285.20 495.70,284.00 499.50,282.50 503.40,281.30 505.50,281.80 507.50,282.40 509.30,281.50 511.00,281.00 513.00,282.60 515.80,284.70 520.00,286.30 524.10,287.50 530.00,288.00 537.90,288.60" fill="none" stroke="#333" stroke-width="0.8" stroke-linejoin="round" />
<defs>
<filter id="nI" x="20.0" y="221.3" width="114.80000000000001" height="85.5" filterUnits="userSpaceOnUse" color-interpolation-filters="sRGB"><feTurbulence type="fractalNoise" baseFrequency="0.42" numOctaves="2" seed="5"/><feColorMatrix type="matrix" values="0.85 0 0 0 0.08  0.85 0 0 0 0.08  0.85 0 0 0 0.08  0 0 0 0 1"/><feGaussianBlur stdDeviation="0.35"/></filter>
<filter id="nIb" x="20.0" y="221.3" width="114.80000000000001" height="85.5" filterUnits="userSpaceOnUse" color-interpolation-filters="sRGB"><feTurbulence type="fractalNoise" baseFrequency="0.5" numOctaves="2" seed="9"/><feColorMatrix type="matrix" values="0.15 0 0 0 0.395  0.15 0 0 0 0.395  0.15 0 0 0 0.395  0 0 0 0 1"/></filter>
<filter id="nJ" x="156.7" y="221.3" width="113.5" height="85.5" filterUnits="userSpaceOnUse" color-interpolation-filters="sRGB"><feTurbulence type="fractalNoise" baseFrequency="0.3" numOctaves="3" seed="12"/><feColorMatrix type="matrix" values="0.4 0 0 0 0.145  0.4 0 0 0 0.145  0.4 0 0 0 0.145  0 0 0 0 1"/><feGaussianBlur stdDeviation="0.4"/></filter>
<filter id="nK" x="20.2" y="321.3" width="114.6" height="85.8" filterUnits="userSpaceOnUse" color-interpolation-filters="sRGB"><feTurbulence type="fractalNoise" baseFrequency="0.5" numOctaves="2" seed="4"/><feColorMatrix type="matrix" values="0.12 0 0 0 0.72  0.12 0 0 0 0.72  0.12 0 0 0 0.72  0 0 0 0 1"/></filter>
<filter id="nL" x="157.4" y="321.3" width="111.7" height="85.8" filterUnits="userSpaceOnUse" color-interpolation-filters="sRGB"><feTurbulence type="fractalNoise" baseFrequency="0.5" numOctaves="2" seed="6"/><feColorMatrix type="matrix" values="0.12 0 0 0 0.62  0.12 0 0 0 0.62  0.12 0 0 0 0.62  0 0 0 0 1"/></filter>
<filter id="nLc" x="224" y="354" width="47" height="41" filterUnits="userSpaceOnUse" color-interpolation-filters="sRGB"><feTurbulence type="fractalNoise" baseFrequency="0.25" numOctaves="3" seed="8"/><feColorMatrix type="matrix" values="1.15 0 0 0 -0.27  1.15 0 0 0 -0.27  1.15 0 0 0 -0.27  0 0 0 0 1"/><feGaussianBlur stdDeviation="0.45"/></filter>
<filter id="rI" x="20.0" y="221.3" width="114.80000000000001" height="85.5" filterUnits="userSpaceOnUse" color-interpolation-filters="sRGB"><feTurbulence type="turbulence" baseFrequency="0.07" numOctaves="1" seed="21"/><feColorMatrix type="matrix" values="0 0 0 0 0.95  0 0 0 0 0.95  0 0 0 0 0.95  -9 0 0 0 1.05"/></filter>
<filter id="b03" x="-50%" y="-50%" width="200%" height="200%"><feGaussianBlur stdDeviation="0.3"/></filter>
<filter id="b05" x="-50%" y="-50%" width="200%" height="200%"><feGaussianBlur stdDeviation="0.5"/></filter>
<filter id="b08" x="-50%" y="-50%" width="200%" height="200%"><feGaussianBlur stdDeviation="0.8"/></filter>
<filter id="b1" x="-50%" y="-50%" width="200%" height="200%"><feGaussianBlur stdDeviation="1.0"/></filter>
<filter id="b15" x="-50%" y="-50%" width="200%" height="200%"><feGaussianBlur stdDeviation="1.5"/></filter>
<filter id="b2" x="-50%" y="-50%" width="200%" height="200%"><feGaussianBlur stdDeviation="2.2"/></filter>
<filter id="b3" x="-50%" y="-50%" width="200%" height="200%"><feGaussianBlur stdDeviation="3.2"/></filter>
<clipPath id="cI"><rect x="20.0" y="221.3" width="114.80000000000001" height="85.5"/></clipPath>
<clipPath id="cIagg"><path d="M20.0,221.3 H134.8 V306.8 H20.0 Z M19.75,220.75 C23.10,210.48 35.49,220.02 39.86,220.75 C44.23,221.48 44.30,223.23 45.98,225.12 C47.65,227.01 49.84,229.49 49.91,232.11 C49.99,234.74 48.09,237.58 46.42,240.86 C44.74,244.14 41.50,248.51 39.86,251.79 C38.22,255.07 38.04,257.62 36.58,260.53 C35.12,263.44 32.57,266.72 31.11,269.27 C29.66,271.82 29.29,273.94 27.84,275.83 C26.38,277.72 23.72,279.55 22.37,280.64 C21.02,281.73 20.19,292.37 19.75,282.39 C19.31,272.41 16.40,231.02 19.75,220.75 Z M90.57,287.20 C91.01,284.21 94.94,282.46 97.13,280.20 C99.31,277.94 101.93,275.39 103.68,273.64 C105.43,271.90 106.23,269.71 107.62,269.71 C109.00,269.71 110.46,271.17 111.99,273.64 C113.52,276.12 115.34,281.30 116.80,284.57 C118.26,287.85 119.64,289.86 120.73,293.32 C121.83,296.78 126.63,303.34 123.36,305.34 C120.08,307.34 105.87,306.54 101.06,305.34 C96.25,304.14 96.25,301.15 94.50,298.13 C92.75,295.10 90.13,290.18 90.57,287.20 Z" clip-rule="evenodd"/></clipPath>
</defs>
<g clip-path="url(#cI)">
<rect x="20.0" y="221.3" width="114.80000000000001" height="85.5" fill="#777"/>
<rect x="20.0" y="221.3" width="114.80000000000001" height="85.5" filter="url(#nIb)"/>
<g clip-path="url(#cIagg)"><rect x="20.0" y="221.3" width="114.80000000000001" height="85.5" filter="url(#nI)"/>
<rect x="20.0" y="221.3" width="114.80000000000001" height="85.5" filter="url(#rI)" opacity="0.3"/></g>
<linearGradient id="gIt" x1="0" y1="0" x2="0" y2="1"><stop offset="0" stop-color="#505050" stop-opacity="0.45"/><stop offset="1" stop-color="#505050" stop-opacity="0"/></linearGradient>
<g clip-path="url(#cIagg)"><rect x="20.0" y="221.3" width="114.80000000000001" height="20" fill="url(#gIt)"/>
<linearGradient id="gIr" x1="0" y1="0" x2="1" y2="0"><stop offset="0" stop-color="#505050" stop-opacity="0"/><stop offset="1" stop-color="#505050" stop-opacity="0.35"/></linearGradient>
<rect x="100" y="221.3" width="34.80000000000001" height="85.5" fill="url(#gIr)"/></g>
<path d="M115.92,251.79 C116.80,250.84 119.13,250.04 120.73,250.04 C122.34,250.04 124.59,250.69 125.54,251.79 C126.49,252.88 126.85,255.21 126.42,256.60 C125.98,257.98 124.38,259.58 122.92,260.09 C121.46,260.60 118.91,260.38 117.67,259.66 C116.43,258.93 115.78,257.03 115.49,255.72 C115.19,254.41 115.05,252.73 115.92,251.79 Z" fill="#6a6a6a" filter="url(#b08)" opacity="0.8"/>
<path d="M50.79,227.74 C50.24,229.75 49.04,236.12 47.51,239.77 C45.98,243.41 43.17,246.69 41.61,249.60 C40.04,252.52 39.13,254.52 38.11,257.25 C37.09,259.98 36.11,263.26 35.49,265.99 C34.87,268.73 35.12,270.91 34.39,273.64 C33.66,276.38 31.66,280.93 31.11,282.39" fill="none" stroke="#d0d0d0" stroke-width="2.4" stroke-linejoin="round" opacity="0.4" style="filter:blur(0.7px)"/>
<polyline points="49.88,230.18 49.42,230.20 49.38,231.05 48.33,232.44" fill="none" stroke="#f0f0f0" stroke-width="0.6211311379589931" stroke-linejoin="round" opacity="0.7"/>
<polyline points="48.72,234.84 48.55,235.37 48.07,236.99 47.11,237.51 47.40,237.54" fill="none" stroke="#f0f0f0" stroke-width="0.7885335839893772" stroke-linejoin="round" opacity="0.7"/>
<line x1="48.76" y1="236.02" x2="47.88" y2="238.61" stroke="#e8e8e8" stroke-width="0.55" opacity="0.8"/>
<polyline points="48.30,239.30 48.08,239.27 47.02,240.71 47.06,240.72 45.99,241.76" fill="none" stroke="#f0f0f0" stroke-width="0.5263625952978848" stroke-linejoin="round" opacity="0.7"/>
<line x1="46.88" y1="241.11" x2="48.68" y2="241.42" stroke="#e8e8e8" stroke-width="0.55" opacity="0.8"/>
<polyline points="44.44,242.38 44.96,242.89 43.77,244.45 43.37,244.93 42.82,245.00 42.79,245.55 42.95,246.31 42.52,246.88" fill="none" stroke="#f0f0f0" stroke-width="0.7860704024003495" stroke-linejoin="round" opacity="0.7"/>
<polyline points="41.98,249.84 41.47,250.93 41.04,251.72 41.56,252.32 41.23,253.15 40.72,253.40 40.51,254.56 39.59,255.28 39.46,254.98" fill="none" stroke="#f0f0f0" stroke-width="0.7941677078180723" stroke-linejoin="round" opacity="0.7"/>
<polyline points="36.62,256.76 36.38,257.67 36.20,258.84 36.71,258.77 36.78,259.15 35.73,259.84 35.72,260.69 35.48,261.99 35.86,262.43" fill="none" stroke="#f0f0f0" stroke-width="0.7864860421355311" stroke-linejoin="round" opacity="0.7"/>
<polyline points="37.37,263.50 36.13,264.35 36.08,265.67 36.88,265.79 35.76,266.01 35.68,266.84 36.05,268.21 35.53,268.84" fill="none" stroke="#f0f0f0" stroke-width="0.521288625697777" stroke-linejoin="round" opacity="0.7"/>
<line x1="35.49" y1="265.99" x2="36.23" y2="263.25" stroke="#e8e8e8" stroke-width="0.55" opacity="0.8"/>
<polyline points="35.34,269.31 35.24,270.27 34.38,270.60 34.33,270.91 34.56,271.40 34.37,272.84 33.89,273.14" fill="none" stroke="#f0f0f0" stroke-width="0.6977300222729137" stroke-linejoin="round" opacity="0.7"/>
<polyline points="32.91,276.48 32.97,277.73 32.54,278.18 31.67,278.84 31.48,280.00 31.54,280.76" fill="none" stroke="#f0f0f0" stroke-width="0.6401791529353212" stroke-linejoin="round" opacity="0.7"/>
<polyline points="30.63,282.24 31.34,282.56" fill="none" stroke="#f0f0f0" stroke-width="0.7339086790833582" stroke-linejoin="round" opacity="0.7"/>
<polyline points="49.97,227.96 50.88,228.89 50.85,229.57 50.74,229.58" fill="none" stroke="#f0f0f0" stroke-width="0.7401197798853654" stroke-linejoin="round" opacity="0.7"/>
<line x1="50.68" y1="228.14" x2="52.31" y2="227.56" stroke="#e8e8e8" stroke-width="0.55" opacity="0.8"/>
<polyline points="50.88,230.10 50.48,230.50 50.28,231.18 50.62,232.36 50.17,233.45 49.61,233.45 49.12,234.16 50.05,236.10" fill="none" stroke="#f0f0f0" stroke-width="0.7333099156929793" stroke-linejoin="round" opacity="0.7"/>
<polyline points="49.35,239.82 48.39,239.97 48.50,240.48 47.61,241.83 47.20,242.11 47.86,242.35 47.03,243.55" fill="none" stroke="#f0f0f0" stroke-width="0.7365189442974622" stroke-linejoin="round" opacity="0.7"/>
<polyline points="46.07,244.32 45.76,244.69 44.92,245.49 44.19,246.30 44.31,246.45" fill="none" stroke="#f0f0f0" stroke-width="0.7954851728395984" stroke-linejoin="round" opacity="0.7"/>
<line x1="44.98" y1="244.34" x2="46.67" y2="245.12" stroke="#e8e8e8" stroke-width="0.55" opacity="0.8"/>
<polyline points="42.50,247.34 42.29,248.07 42.37,247.96 41.83,248.12" fill="none" stroke="#f0f0f0" stroke-width="0.6568264751292469" stroke-linejoin="round" opacity="0.7"/>
<line x1="42.25" y1="248.49" x2="41.48" y2="251.26" stroke="#e8e8e8" stroke-width="0.55" opacity="0.8"/>
<polyline points="41.50,251.68 41.37,251.80 40.47,252.21 40.49,252.87 39.68,254.41 39.92,254.71 39.51,254.59" fill="none" stroke="#f0f0f0" stroke-width="0.8185637342866885" stroke-linejoin="round" opacity="0.7"/>
<polyline points="38.64,255.40 38.88,255.83 37.70,256.57 38.62,257.01 37.92,258.54 37.61,258.87 37.39,259.22 36.95,260.62" fill="none" stroke="#f0f0f0" stroke-width="0.7492500740528591" stroke-linejoin="round" opacity="0.7"/>
<polyline points="37.23,263.58 36.61,264.10 37.24,264.67 37.16,265.83 36.88,266.42" fill="none" stroke="#f0f0f0" stroke-width="0.764166329127319" stroke-linejoin="round" opacity="0.7"/>
<polyline points="35.30,268.78 35.20,269.35 34.77,270.09 34.36,270.63 34.28,271.40 35.06,271.72 35.17,272.19 34.32,273.17" fill="none" stroke="#f0f0f0" stroke-width="0.6827669771331696" stroke-linejoin="round" opacity="0.7"/>
<polyline points="34.66,275.04 33.85,276.00 33.71,277.30 32.88,277.13 33.21,278.08 32.63,279.29 32.11,279.26 32.74,280.34" fill="none" stroke="#f0f0f0" stroke-width="0.5349126295435074" stroke-linejoin="round" opacity="0.7"/>
<line x1="33.44" y1="276.54" x2="32.60" y2="274.77" stroke="#e8e8e8" stroke-width="0.55" opacity="0.8"/>
<polyline points="32.77,282.94 31.92,283.51 31.58,283.45" fill="none" stroke="#f0f0f0" stroke-width="0.8225161571003181" stroke-linejoin="round" opacity="0.7"/>
<polyline points="49.17,230.66 49.32,231.39 49.02,231.83 49.51,232.74 49.08,233.65" fill="none" stroke="#f0f0f0" stroke-width="0.5866918723399965" stroke-linejoin="round" opacity="0.7"/>
<line x1="49.98" y1="231.19" x2="52.76" y2="230.66" stroke="#e8e8e8" stroke-width="0.55" opacity="0.8"/>
<polyline points="49.13,235.21 48.46,236.12 48.11,237.09 48.28,238.10" fill="none" stroke="#f0f0f0" stroke-width="0.7511045614039844" stroke-linejoin="round" opacity="0.7"/>
<line x1="48.99" y1="235.20" x2="49.07" y2="237.56" stroke="#e8e8e8" stroke-width="0.55" opacity="0.8"/>
<polyline points="48.35,241.17 47.61,241.83 47.52,242.49 47.36,242.54 47.10,243.79 46.39,243.65 45.85,244.33" fill="none" stroke="#f0f0f0" stroke-width="0.5479317935109411" stroke-linejoin="round" opacity="0.7"/>
<line x1="46.53" y1="241.78" x2="43.89" y2="241.97" stroke="#e8e8e8" stroke-width="0.55" opacity="0.8"/>
<polyline points="45.30,245.86 44.71,245.96 44.05,246.71 44.10,247.68 43.50,247.55 43.57,249.11" fill="none" stroke="#f0f0f0" stroke-width="0.5959654342435667" stroke-linejoin="round" opacity="0.7"/>
<polyline points="41.70,248.54 41.88,249.04 41.38,249.35 40.64,249.88 40.74,250.28" fill="none" stroke="#f0f0f0" stroke-width="0.627109853445224" stroke-linejoin="round" opacity="0.7"/>
<polyline points="40.59,252.28 39.79,253.02 39.81,253.66 39.29,253.69 39.06,253.95 38.93,254.69 39.01,255.85" fill="none" stroke="#f0f0f0" stroke-width="0.7657349972852153" stroke-linejoin="round" opacity="0.7"/>
<polyline points="37.85,256.82 37.86,257.53 37.76,258.04 37.56,258.04" fill="none" stroke="#f0f0f0" stroke-width="0.5221442779855909" stroke-linejoin="round" opacity="0.7"/>
<polyline points="37.36,259.91 37.41,259.66 36.38,261.47 36.17,261.93 37.00,261.99 36.50,263.08" fill="none" stroke="#f0f0f0" stroke-width="0.8125496510648065" stroke-linejoin="round" opacity="0.7"/>
<line x1="36.54" y1="261.97" x2="34.93" y2="262.40" stroke="#e8e8e8" stroke-width="0.55" opacity="0.8"/>
<polyline points="35.28,266.53 35.94,268.03 35.78,268.67 35.84,269.04 35.70,269.66 35.99,270.11 35.34,270.68 35.08,271.07 35.70,272.65" fill="none" stroke="#f0f0f0" stroke-width="0.756924455215382" stroke-linejoin="round" opacity="0.7"/>
<polyline points="35.02,273.82 34.46,273.89 34.24,274.77 34.08,275.55 33.64,276.50 32.82,276.60 33.23,277.41 33.12,278.08" fill="none" stroke="#f0f0f0" stroke-width="0.7254987810971052" stroke-linejoin="round" opacity="0.7"/>
<polyline points="31.51,282.72 32.22,283.44" fill="none" stroke="#f0f0f0" stroke-width="0.6235332091355252" stroke-linejoin="round" opacity="0.7"/>
<path d="M68.27,242.61 C69.44,242.97 73.59,243.26 75.27,244.79 C76.94,246.32 78.33,248.80 78.33,251.79 C78.33,254.77 76.29,259.73 75.27,262.72 C74.25,265.70 74.28,268.54 72.21,269.71 C70.13,270.88 65.21,270.69 62.81,269.71 C60.40,268.73 58.15,266.43 57.78,263.81 C57.42,261.19 58.87,257.51 60.62,253.97 C62.37,250.44 67.00,244.50 68.27,242.61" fill="none" stroke="#d0d0d0" stroke-width="2.4" stroke-linejoin="round" opacity="0.4" style="filter:blur(0.7px)"/>
<polyline points="68.25,243.14 68.79,243.55 69.95,243.65 70.12,243.92 70.56,243.62 71.75,243.76 73.07,243.41 73.92,244.68 74.70,243.87 74.56,245.22" fill="none" stroke="#f0f0f0" stroke-width="0.6951524962768887" stroke-linejoin="round" opacity="0.7"/>
<line x1="70.76" y1="243.09" x2="69.63" y2="240.67" stroke="#e8e8e8" stroke-width="0.55" opacity="0.8"/>
<polyline points="74.99,243.97 75.53,244.89 75.57,244.76 76.40,246.09 76.49,246.15 76.92,247.27 77.71,247.85" fill="none" stroke="#f0f0f0" stroke-width="0.5287754794664584" stroke-linejoin="round" opacity="0.7"/>
<polyline points="78.52,250.36 77.60,251.74 77.61,251.84 77.98,252.83 77.87,253.13 77.72,254.24 77.18,254.79 76.82,255.28 77.42,256.43" fill="none" stroke="#f0f0f0" stroke-width="0.8045116215749443" stroke-linejoin="round" opacity="0.7"/>
<polyline points="76.14,259.26 75.67,259.12 75.32,259.55 75.06,261.10 75.26,260.79" fill="none" stroke="#f0f0f0" stroke-width="0.5131065515357829" stroke-linejoin="round" opacity="0.7"/>
<polyline points="75.89,264.86 75.84,265.30 75.77,266.86 74.96,267.70 74.78,267.96 75.15,268.81 74.11,268.93" fill="none" stroke="#f0f0f0" stroke-width="0.8319536949604958" stroke-linejoin="round" opacity="0.7"/>
<line x1="74.35" y1="266.13" x2="72.83" y2="267.20" stroke="#e8e8e8" stroke-width="0.55" opacity="0.8"/>
<polyline points="71.65,270.64 71.34,271.26 70.08,271.11 69.41,271.91 68.23,271.31 67.74,271.99" fill="none" stroke="#f0f0f0" stroke-width="0.7918886113893353" stroke-linejoin="round" opacity="0.7"/>
<polyline points="66.01,271.53 65.02,271.10 64.47,270.97 64.00,271.19 63.50,271.12" fill="none" stroke="#f0f0f0" stroke-width="0.696046361236422" stroke-linejoin="round" opacity="0.7"/>
<line x1="64.81" y1="270.26" x2="62.37" y2="271.06" stroke="#e8e8e8" stroke-width="0.55" opacity="0.8"/>
<polyline points="60.16,268.73 60.00,267.54 58.81,267.21 58.11,267.52" fill="none" stroke="#f0f0f0" stroke-width="0.7027415240177217" stroke-linejoin="round" opacity="0.7"/>
<line x1="60.33" y1="268.16" x2="63.06" y2="267.76" stroke="#e8e8e8" stroke-width="0.55" opacity="0.8"/>
<polyline points="57.62,265.34 58.00,264.78 57.64,264.54 56.79,264.00 57.84,263.23 56.86,261.74 56.98,261.47 58.00,261.28 57.16,260.46 57.60,259.18" fill="none" stroke="#f0f0f0" stroke-width="0.5897331395337999" stroke-linejoin="round" opacity="0.7"/>
<polyline points="60.44,255.48 60.73,254.69 61.07,254.57 61.72,254.10 62.01,253.22 62.03,252.88 62.92,251.31 63.24,250.48 63.36,250.36" fill="none" stroke="#f0f0f0" stroke-width="0.713910596641521" stroke-linejoin="round" opacity="0.7"/>
<polyline points="62.18,250.49 62.02,249.55 63.48,248.79 64.03,248.23 63.83,247.12 64.09,247.20 64.97,246.72" fill="none" stroke="#f0f0f0" stroke-width="0.5222202744625457" stroke-linejoin="round" opacity="0.7"/>
<line x1="64.38" y1="248.02" x2="62.65" y2="249.81" stroke="#e8e8e8" stroke-width="0.55" opacity="0.8"/>
<polyline points="68.16,242.82 68.30,242.67 68.74,241.38 68.33,241.57" fill="none" stroke="#f0f0f0" stroke-width="0.8310286703050229" stroke-linejoin="round" opacity="0.7"/>
<line x1="67.77" y1="243.33" x2="66.99" y2="245.83" stroke="#e8e8e8" stroke-width="0.55" opacity="0.8"/>
<polyline points="68.95,242.15 69.55,242.92 69.48,242.51 70.02,243.02 70.65,242.36 71.55,243.08 72.56,243.64 72.92,242.76 74.17,243.06" fill="none" stroke="#f0f0f0" stroke-width="0.8067413814726341" stroke-linejoin="round" opacity="0.7"/>
<polyline points="75.96,244.60 76.03,245.18 75.85,245.56 76.86,246.72 76.86,247.63 76.88,247.91 76.96,248.68" fill="none" stroke="#f0f0f0" stroke-width="0.6872799638076443" stroke-linejoin="round" opacity="0.7"/>
<polyline points="78.79,251.87 79.49,253.08 78.80,252.96 79.20,254.29" fill="none" stroke="#f0f0f0" stroke-width="0.5202401032413217" stroke-linejoin="round" opacity="0.7"/>
<polyline points="78.55,255.85 77.78,256.22 77.54,257.67 77.38,257.67 77.60,258.69 76.77,259.77 76.26,259.88" fill="none" stroke="#f0f0f0" stroke-width="0.6637673662128578" stroke-linejoin="round" opacity="0.7"/>
<polyline points="76.43,262.75 76.97,263.41 76.23,263.62 75.72,263.93 75.86,265.69" fill="none" stroke="#f0f0f0" stroke-width="0.6674495146566564" stroke-linejoin="round" opacity="0.7"/>
<line x1="75.27" y1="262.72" x2="73.91" y2="262.45" stroke="#e8e8e8" stroke-width="0.55" opacity="0.8"/>
<polyline points="73.40,264.30 73.16,265.03 72.62,265.72 73.11,266.82 73.07,267.40" fill="none" stroke="#f0f0f0" stroke-width="0.5489843351193643" stroke-linejoin="round" opacity="0.7"/>
<polyline points="71.90,269.19 71.15,269.44 70.01,269.72 70.37,269.96 69.18,270.37 68.49,270.90" fill="none" stroke="#f0f0f0" stroke-width="0.555868678181411" stroke-linejoin="round" opacity="0.7"/>
<polyline points="68.72,269.53 68.21,269.11 67.64,269.40 67.13,269.18 65.34,269.88 64.56,269.20 64.21,269.44 63.43,268.49" fill="none" stroke="#f0f0f0" stroke-width="0.7412874972465691" stroke-linejoin="round" opacity="0.7"/>
<polyline points="60.40,269.22 60.17,268.73 59.56,269.20 58.38,268.34 58.53,267.32" fill="none" stroke="#f0f0f0" stroke-width="0.6391435955792847" stroke-linejoin="round" opacity="0.7"/>
<polyline points="58.34,264.08 58.86,264.16 58.00,262.78 57.69,262.71 58.09,262.23 58.43,260.92 57.94,261.12 58.50,260.13 58.29,259.27 58.84,258.37" fill="none" stroke="#f0f0f0" stroke-width="0.5798765966537344" stroke-linejoin="round" opacity="0.7"/>
<line x1="57.73" y1="262.62" x2="55.35" y2="262.24" stroke="#e8e8e8" stroke-width="0.55" opacity="0.8"/>
<polyline points="60.51,255.48 60.55,255.04 60.94,253.72 62.00,253.75 61.34,252.85 62.01,251.84 62.52,251.23 62.57,251.39 62.81,249.93" fill="none" stroke="#f0f0f0" stroke-width="0.7527146317889725" stroke-linejoin="round" opacity="0.7"/>
<polyline points="63.64,248.83 63.48,248.70 63.83,248.06 65.12,247.17" fill="none" stroke="#f0f0f0" stroke-width="0.6283733755832609" stroke-linejoin="round" opacity="0.7"/>
<line x1="63.42" y1="249.41" x2="62.12" y2="249.87" stroke="#e8e8e8" stroke-width="0.55" opacity="0.8"/>
<polyline points="65.69,244.91 65.65,244.16 65.65,244.06 67.05,243.28 67.24,242.73 66.62,242.02 67.01,242.45" fill="none" stroke="#f0f0f0" stroke-width="0.5822708119893021" stroke-linejoin="round" opacity="0.7"/>
<polyline points="69.44,242.96 69.19,243.46 70.51,243.17 71.12,242.97 71.22,243.31 72.85,243.91" fill="none" stroke="#f0f0f0" stroke-width="0.5335273768725928" stroke-linejoin="round" opacity="0.7"/>
<polyline points="74.96,244.13 75.61,243.93 76.80,245.55 76.92,246.06 77.39,246.19 77.03,247.02 78.01,246.94 78.65,247.89" fill="none" stroke="#f0f0f0" stroke-width="0.8036870943162933" stroke-linejoin="round" opacity="0.7"/>
<polyline points="76.99,250.70 77.57,251.15 77.20,251.37 77.85,252.94 77.24,252.56 77.76,253.55 76.92,254.67 76.92,254.63 76.53,255.99" fill="none" stroke="#f0f0f0" stroke-width="0.7168178388872221" stroke-linejoin="round" opacity="0.7"/>
<polyline points="78.21,256.68 78.26,256.46 77.88,258.02 77.38,258.90 76.63,259.65 76.96,260.22 76.48,260.99 76.36,260.70" fill="none" stroke="#f0f0f0" stroke-width="0.573931307276166" stroke-linejoin="round" opacity="0.7"/>
<line x1="76.43" y1="259.46" x2="75.30" y2="260.00" stroke="#e8e8e8" stroke-width="0.55" opacity="0.8"/>
<polyline points="74.99,264.37 74.69,264.46 75.07,265.93 74.06,266.09 73.87,267.16 73.80,268.00 73.17,268.71 72.99,268.65 72.96,268.92" fill="none" stroke="#f0f0f0" stroke-width="0.705422012443398" stroke-linejoin="round" opacity="0.7"/>
<polyline points="72.91,270.73 72.02,271.15 70.75,271.77 70.47,271.54 70.08,271.36" fill="none" stroke="#f0f0f0" stroke-width="0.776103383646203" stroke-linejoin="round" opacity="0.7"/>
<line x1="70.38" y1="270.31" x2="67.86" y2="271.88" stroke="#e8e8e8" stroke-width="0.55" opacity="0.8"/>
<polyline points="66.22,271.48 65.04,271.27 64.05,270.70 64.21,270.64 63.58,271.10 62.84,270.75 62.23,270.46 60.84,269.34 61.31,268.74 60.22,269.06" fill="none" stroke="#f0f0f0" stroke-width="0.7240262804298041" stroke-linejoin="round" opacity="0.7"/>
<line x1="62.81" y1="269.71" x2="65.64" y2="270.63" stroke="#e8e8e8" stroke-width="0.55" opacity="0.8"/>
<polyline points="58.65,264.65 58.04,263.31 57.94,262.38 58.17,262.41 58.18,261.83 58.03,261.01 57.66,260.32" fill="none" stroke="#f0f0f0" stroke-width="0.7055051003483668" stroke-linejoin="round" opacity="0.7"/>
<line x1="57.73" y1="263.23" x2="58.22" y2="262.00" stroke="#e8e8e8" stroke-width="0.55" opacity="0.8"/>
<polyline points="57.90,258.45 58.44,257.15 57.73,256.52 58.94,255.36 59.38,254.71" fill="none" stroke="#f0f0f0" stroke-width="0.7912121066562208" stroke-linejoin="round" opacity="0.7"/>
<polyline points="60.48,254.30 60.65,253.86 61.05,252.98 62.37,251.77 61.78,251.26 62.19,250.80 63.43,250.01 63.50,249.90" fill="none" stroke="#f0f0f0" stroke-width="0.5531101803545109" stroke-linejoin="round" opacity="0.7"/>
<polyline points="64.88,247.34 64.98,246.84 64.91,246.44 65.95,245.79 66.91,245.85 66.82,245.03 66.80,244.81 67.17,243.56" fill="none" stroke="#f0f0f0" stroke-width="0.675245776147374" stroke-linejoin="round" opacity="0.7"/>
<path d="M80.30,223.81 C81.93,223.55 86.67,221.99 90.13,222.28 C93.59,222.57 98.07,223.55 101.06,225.56 C104.05,227.56 106.42,231.39 108.05,234.30 C109.69,237.21 110.17,240.13 110.90,243.04 C111.62,245.96 112.68,248.87 112.43,251.79 C112.17,254.70 110.53,258.27 109.37,260.53 C108.20,262.79 107.18,263.52 105.43,265.34 C103.68,267.16 100.88,269.64 98.87,271.46 C96.87,273.28 94.94,274.08 93.41,276.27 C91.88,278.45 91.52,282.53 89.69,284.57 C87.87,286.61 85.50,287.34 82.48,288.51 C79.46,289.67 74.83,290.84 71.55,291.57 C68.27,292.30 65.91,292.95 62.81,292.88 C59.71,292.81 55.34,292.15 52.97,291.13 C50.60,290.11 49.33,287.49 48.60,286.76" fill="none" stroke="#d0d0d0" stroke-width="2.4" stroke-linejoin="round" opacity="0.4" style="filter:blur(0.7px)"/>
<polyline points="82.66,222.53 83.82,222.42 84.52,221.86 85.21,222.55" fill="none" stroke="#f0f0f0" stroke-width="0.8276156196140105" stroke-linejoin="round" opacity="0.7"/>
<polyline points="88.34,221.54 89.35,220.89 90.36,221.07 91.23,220.88 91.60,221.54 91.72,221.58 92.98,221.49 93.62,221.24" fill="none" stroke="#f0f0f0" stroke-width="0.6874222250354032" stroke-linejoin="round" opacity="0.7"/>
<line x1="90.13" y1="222.28" x2="92.42" y2="220.56" stroke="#e8e8e8" stroke-width="0.55" opacity="0.8"/>
<polyline points="93.98,223.31 93.67,223.82 95.21,223.99 96.28,223.72 95.89,223.63" fill="none" stroke="#f0f0f0" stroke-width="0.735236537291273" stroke-linejoin="round" opacity="0.7"/>
<line x1="95.77" y1="223.28" x2="95.95" y2="221.81" stroke="#e8e8e8" stroke-width="0.55" opacity="0.8"/>
<polyline points="100.29,224.91 100.92,224.93 101.53,224.68 101.97,225.29" fill="none" stroke="#f0f0f0" stroke-width="0.7735025130156219" stroke-linejoin="round" opacity="0.7"/>
<polyline points="102.03,225.37 103.14,226.63 104.16,226.45 104.31,227.80 104.93,227.76 105.29,228.68 105.42,228.80" fill="none" stroke="#f0f0f0" stroke-width="0.5139928666852408" stroke-linejoin="round" opacity="0.7"/>
<polyline points="106.57,232.38 106.84,232.66 108.00,233.56 108.41,234.46 108.41,234.32 108.69,235.42 108.67,235.91" fill="none" stroke="#f0f0f0" stroke-width="0.7731258457069243" stroke-linejoin="round" opacity="0.7"/>
<polyline points="109.96,237.01 110.70,238.62 110.15,239.42 110.69,239.20 110.86,240.62 110.71,241.34 111.43,242.15 111.81,242.70 111.64,242.75" fill="none" stroke="#f0f0f0" stroke-width="0.7025317985673867" stroke-linejoin="round" opacity="0.7"/>
<polyline points="111.28,244.17 111.83,244.29 112.21,246.16 111.92,246.53 112.22,247.25 112.97,248.24 112.80,248.43 112.65,249.59 112.18,250.16 112.83,250.26" fill="none" stroke="#f0f0f0" stroke-width="0.7482730351079414" stroke-linejoin="round" opacity="0.7"/>
<line x1="112.18" y1="248.14" x2="114.40" y2="246.60" stroke="#e8e8e8" stroke-width="0.55" opacity="0.8"/>
<polyline points="112.52,254.87 112.33,255.85 112.40,256.72 111.59,256.27 111.15,256.99 110.96,258.22 110.13,258.31 110.73,259.33 109.78,260.59" fill="none" stroke="#f0f0f0" stroke-width="0.609376342072537" stroke-linejoin="round" opacity="0.7"/>
<line x1="110.82" y1="257.45" x2="112.09" y2="257.95" stroke="#e8e8e8" stroke-width="0.55" opacity="0.8"/>
<polyline points="108.05,262.12 107.44,263.52 107.99,263.18 107.36,264.15" fill="none" stroke="#f0f0f0" stroke-width="0.798143490468294" stroke-linejoin="round" opacity="0.7"/>
<polyline points="105.24,265.13 104.40,266.13 103.69,266.71 103.55,266.99 102.78,267.36 102.05,268.10 102.40,268.30" fill="none" stroke="#f0f0f0" stroke-width="0.7035036197190633" stroke-linejoin="round" opacity="0.7"/>
<polyline points="102.19,268.68 102.13,268.93 100.75,269.87 100.22,270.69 100.29,271.34 99.74,271.48 98.76,271.24" fill="none" stroke="#f0f0f0" stroke-width="0.7266412331237119" stroke-linejoin="round" opacity="0.7"/>
<polyline points="95.92,273.96 95.48,275.14 95.10,275.50 94.77,276.19" fill="none" stroke="#f0f0f0" stroke-width="0.5297604440595373" stroke-linejoin="round" opacity="0.7"/>
<polyline points="94.10,275.51 92.90,276.39 93.38,277.42 92.27,278.05 92.20,278.62" fill="none" stroke="#f0f0f0" stroke-width="0.8257096840613629" stroke-linejoin="round" opacity="0.7"/>
<polyline points="92.37,278.95 91.69,279.64 91.84,280.23 90.97,281.82" fill="none" stroke="#f0f0f0" stroke-width="0.6285042016277667" stroke-linejoin="round" opacity="0.7"/>
<polyline points="90.97,283.60 90.03,284.36 89.60,285.62 89.41,285.46 89.16,285.62 89.27,286.89 88.51,287.47 87.33,287.46 87.51,287.76 86.33,287.95" fill="none" stroke="#f0f0f0" stroke-width="0.7712333314877542" stroke-linejoin="round" opacity="0.7"/>
<line x1="89.18" y1="285.10" x2="87.97" y2="286.42" stroke="#e8e8e8" stroke-width="0.55" opacity="0.8"/>
<polyline points="85.17,287.33 84.25,287.72 82.92,287.60 82.55,288.07" fill="none" stroke="#f0f0f0" stroke-width="0.6948777750831152" stroke-linejoin="round" opacity="0.7"/>
<polyline points="81.33,290.35 80.97,289.80 80.20,289.74 79.33,290.88 78.36,290.39 77.89,290.56 77.43,291.48 76.57,291.63 75.48,291.44" fill="none" stroke="#f0f0f0" stroke-width="0.8180276205950706" stroke-linejoin="round" opacity="0.7"/>
<polyline points="71.95,292.50 71.37,292.54 70.56,292.77 70.15,293.18 69.63,293.40 68.92,293.23" fill="none" stroke="#f0f0f0" stroke-width="0.7724678346273811" stroke-linejoin="round" opacity="0.7"/>
<line x1="71.55" y1="291.57" x2="69.97" y2="292.00" stroke="#e8e8e8" stroke-width="0.55" opacity="0.8"/>
<polyline points="66.54,292.21 66.84,292.62 66.26,292.13 65.00,292.26" fill="none" stroke="#f0f0f0" stroke-width="0.6473905163846883" stroke-linejoin="round" opacity="0.7"/>
<line x1="67.11" y1="292.52" x2="67.32" y2="289.75" stroke="#e8e8e8" stroke-width="0.55" opacity="0.8"/>
<polyline points="64.56,293.22 63.51,293.91 63.33,293.88 62.76,293.55 61.40,293.53 61.38,293.62 60.47,292.95 59.30,293.30 58.41,293.82" fill="none" stroke="#f0f0f0" stroke-width="0.6902291735667048" stroke-linejoin="round" opacity="0.7"/>
<line x1="62.13" y1="292.86" x2="62.72" y2="293.99" stroke="#e8e8e8" stroke-width="0.55" opacity="0.8"/>
<polyline points="57.19,291.61 56.82,291.99 55.49,291.57 55.77,291.37 54.78,291.59 53.34,291.06 53.71,290.94 52.49,290.92 52.45,289.85 50.99,290.30" fill="none" stroke="#f0f0f0" stroke-width="0.5158457796694194" stroke-linejoin="round" opacity="0.7"/>
<polyline points="48.92,288.73 49.13,288.96 48.60,287.70 47.77,287.39 47.85,287.71" fill="none" stroke="#f0f0f0" stroke-width="0.5353730603579707" stroke-linejoin="round" opacity="0.7"/>
<line x1="48.90" y1="287.11" x2="50.25" y2="288.57" stroke="#e8e8e8" stroke-width="0.55" opacity="0.8"/>
<polyline points="79.14,224.06 79.49,224.36 80.44,224.72 81.64,224.53 81.64,224.16 81.96,224.28 82.86,223.26 83.31,223.03" fill="none" stroke="#f0f0f0" stroke-width="0.7788986813348011" stroke-linejoin="round" opacity="0.7"/>
<polyline points="86.06,223.74 87.84,223.05 88.43,223.58 88.54,222.91 90.42,222.70 90.44,223.47 90.71,222.78" fill="none" stroke="#f0f0f0" stroke-width="0.6160406038751537" stroke-linejoin="round" opacity="0.7"/>
<line x1="88.58" y1="222.26" x2="87.41" y2="221.47" stroke="#e8e8e8" stroke-width="0.55" opacity="0.8"/>
<polyline points="92.73,222.81 93.08,222.79 94.74,223.61 94.90,223.73 95.24,223.33" fill="none" stroke="#f0f0f0" stroke-width="0.817446952369324" stroke-linejoin="round" opacity="0.7"/>
<line x1="93.60" y1="222.76" x2="90.75" y2="222.96" stroke="#e8e8e8" stroke-width="0.55" opacity="0.8"/>
<polyline points="95.33,222.72 96.51,223.61 96.91,223.03 97.73,224.07 98.48,224.06" fill="none" stroke="#f0f0f0" stroke-width="0.5864330762391257" stroke-linejoin="round" opacity="0.7"/>
<line x1="97.20" y1="223.72" x2="96.25" y2="222.20" stroke="#e8e8e8" stroke-width="0.55" opacity="0.8"/>
<polyline points="98.98,225.49 99.85,226.29 100.85,226.96 101.64,227.45 101.90,227.39 102.05,228.15 103.32,228.81" fill="none" stroke="#f0f0f0" stroke-width="0.6562757230854114" stroke-linejoin="round" opacity="0.7"/>
<polyline points="104.84,229.76 105.07,230.05 105.34,231.16 105.72,231.29 107.05,231.97 106.66,232.20 107.17,233.41" fill="none" stroke="#f0f0f0" stroke-width="0.7231921720529455" stroke-linejoin="round" opacity="0.7"/>
<polyline points="108.43,234.10 108.86,234.26 109.62,235.48 108.99,235.78 110.15,236.47 110.40,238.01 110.02,237.73" fill="none" stroke="#f0f0f0" stroke-width="0.6867343943293949" stroke-linejoin="round" opacity="0.7"/>
<polyline points="109.96,240.31 110.25,241.84 109.98,241.43 110.54,242.19 110.57,243.82 110.88,244.55 110.61,245.01 111.64,245.64 111.64,246.83 111.56,247.46" fill="none" stroke="#f0f0f0" stroke-width="0.7473560162365869" stroke-linejoin="round" opacity="0.7"/>
<line x1="111.08" y1="243.77" x2="113.72" y2="244.56" stroke="#e8e8e8" stroke-width="0.55" opacity="0.8"/>
<polyline points="113.27,249.58 113.20,250.39 113.72,250.59 112.81,251.95 113.07,252.35 112.61,252.33" fill="none" stroke="#f0f0f0" stroke-width="0.6468880862835696" stroke-linejoin="round" opacity="0.7"/>
<polyline points="111.33,254.95 110.54,255.25 110.50,255.65 109.94,256.22 110.16,256.68 109.41,258.13 109.79,258.32 109.61,259.43 109.01,260.27" fill="none" stroke="#f0f0f0" stroke-width="0.8463166618714659" stroke-linejoin="round" opacity="0.7"/>
<line x1="110.82" y1="257.45" x2="113.20" y2="257.10" stroke="#e8e8e8" stroke-width="0.55" opacity="0.8"/>
<polyline points="107.36,263.23 106.99,263.80 107.21,263.45 106.46,263.99 106.26,264.88 105.22,265.18 104.13,266.11 104.60,266.76" fill="none" stroke="#f0f0f0" stroke-width="0.8409869354708988" stroke-linejoin="round" opacity="0.7"/>
<line x1="106.62" y1="264.14" x2="108.54" y2="264.76" stroke="#e8e8e8" stroke-width="0.55" opacity="0.8"/>
<polyline points="102.59,268.13 102.34,268.78 101.77,268.74 101.01,269.44 100.57,270.24 99.88,270.35 99.07,270.44 98.31,271.21" fill="none" stroke="#f0f0f0" stroke-width="0.7118307976781983" stroke-linejoin="round" opacity="0.7"/>
<polyline points="97.18,271.34 96.31,272.50 96.10,272.22 95.45,273.36 95.04,273.85 93.93,274.63" fill="none" stroke="#f0f0f0" stroke-width="0.6518758692959437" stroke-linejoin="round" opacity="0.7"/>
<polyline points="92.92,278.54 92.45,279.19 91.88,279.18 92.62,280.90 91.32,281.80 91.26,281.62 91.51,283.25 91.37,283.21" fill="none" stroke="#f0f0f0" stroke-width="0.598104384152762" stroke-linejoin="round" opacity="0.7"/>
<polyline points="89.73,285.53 89.89,285.30 88.77,286.39 89.02,286.54 87.53,286.79" fill="none" stroke="#f0f0f0" stroke-width="0.7320510855382587" stroke-linejoin="round" opacity="0.7"/>
<polyline points="85.37,287.77 84.24,288.12 84.25,288.44 82.81,289.13 82.79,289.69" fill="none" stroke="#f0f0f0" stroke-width="0.6197259730514273" stroke-linejoin="round" opacity="0.7"/>
<polyline points="79.95,289.45 79.35,290.05 78.98,290.11 78.13,290.06 77.42,290.85 77.13,291.06" fill="none" stroke="#f0f0f0" stroke-width="0.6649482971131813" stroke-linejoin="round" opacity="0.7"/>
<polyline points="74.20,290.82 72.87,290.79 72.75,291.42 72.58,291.40 71.85,291.89" fill="none" stroke="#f0f0f0" stroke-width="0.7717080842579955" stroke-linejoin="round" opacity="0.7"/>
<polyline points="68.41,291.90 66.82,292.16 66.73,291.68 65.59,292.23 64.90,292.07 64.13,291.51 64.20,292.60" fill="none" stroke="#f0f0f0" stroke-width="0.5678977234382181" stroke-linejoin="round" opacity="0.7"/>
<polyline points="63.24,292.81 62.81,292.79 61.85,293.07 61.34,292.81 60.91,291.97" fill="none" stroke="#f0f0f0" stroke-width="0.6225900306287998" stroke-linejoin="round" opacity="0.7"/>
<polyline points="57.13,291.49 56.76,290.92 55.26,291.12 55.31,290.74 54.87,290.36 53.64,290.42 52.67,290.40 51.97,290.56 51.53,289.82" fill="none" stroke="#f0f0f0" stroke-width="0.7559439030788629" stroke-linejoin="round" opacity="0.7"/>
<polyline points="49.88,290.25 48.36,288.83 48.77,288.97 47.66,288.09 47.68,287.40" fill="none" stroke="#f0f0f0" stroke-width="0.6502416415101804" stroke-linejoin="round" opacity="0.7"/>
<line x1="48.90" y1="287.11" x2="51.23" y2="288.28" stroke="#e8e8e8" stroke-width="0.55" opacity="0.8"/>
<polyline points="80.52,223.61 80.55,223.27 81.03,223.11 81.42,222.40 82.52,222.24 83.71,222.77 83.46,222.47 84.50,222.16 85.94,221.39 86.62,221.63" fill="none" stroke="#f0f0f0" stroke-width="0.8403390427422389" stroke-linejoin="round" opacity="0.7"/>
<polyline points="90.00,221.76 90.47,222.13 90.78,221.55 91.63,222.15 92.42,221.42" fill="none" stroke="#f0f0f0" stroke-width="0.6044225311737709" stroke-linejoin="round" opacity="0.7"/>
<polyline points="93.35,221.45 94.32,221.78 94.26,222.50 95.41,222.62 95.58,222.04 96.66,222.96 96.94,223.27" fill="none" stroke="#f0f0f0" stroke-width="0.7726012877513126" stroke-linejoin="round" opacity="0.7"/>
<line x1="95.05" y1="223.09" x2="97.22" y2="222.15" stroke="#e8e8e8" stroke-width="0.55" opacity="0.8"/>
<polyline points="100.48,223.85 101.28,224.47 101.35,224.03 102.14,224.97 102.84,225.95 103.90,226.04 104.19,226.52 104.91,227.36 104.95,227.70" fill="none" stroke="#f0f0f0" stroke-width="0.8483993435979564" stroke-linejoin="round" opacity="0.7"/>
<polyline points="105.92,229.34 107.01,229.75 107.27,230.11 107.47,231.37 107.37,231.62 108.25,232.77 108.83,233.54 109.35,233.73" fill="none" stroke="#f0f0f0" stroke-width="0.8292039425445115" stroke-linejoin="round" opacity="0.7"/>
<line x1="106.59" y1="231.83" x2="105.39" y2="232.96" stroke="#e8e8e8" stroke-width="0.55" opacity="0.8"/>
<polyline points="109.79,236.25 109.89,236.85 110.06,237.22 110.04,237.43 110.03,238.55 110.84,239.72 110.09,239.70 111.39,240.69" fill="none" stroke="#f0f0f0" stroke-width="0.5297313753828351" stroke-linejoin="round" opacity="0.7"/>
<polyline points="110.40,242.88 110.09,243.85 110.39,243.99 110.73,245.15" fill="none" stroke="#f0f0f0" stroke-width="0.5545221844366949" stroke-linejoin="round" opacity="0.7"/>
<polyline points="112.32,248.47 112.01,250.08 111.75,250.25 112.48,251.44 111.66,251.84 111.41,252.19 111.44,253.72 111.60,254.25 110.98,254.21 110.75,255.86" fill="none" stroke="#f0f0f0" stroke-width="0.7040071037146735" stroke-linejoin="round" opacity="0.7"/>
<polyline points="111.06,257.88 110.61,259.16 110.55,258.92 110.32,259.54 109.97,260.78 109.22,261.66 109.33,261.63 108.86,262.99" fill="none" stroke="#f0f0f0" stroke-width="0.7600918394701729" stroke-linejoin="round" opacity="0.7"/>
<line x1="109.64" y1="259.99" x2="107.32" y2="259.95" stroke="#e8e8e8" stroke-width="0.55" opacity="0.8"/>
<polyline points="107.77,264.15 107.02,264.32 105.84,265.10 105.89,264.95 105.04,265.73" fill="none" stroke="#f0f0f0" stroke-width="0.6635518292417184" stroke-linejoin="round" opacity="0.7"/>
<polyline points="102.09,269.13 101.73,269.34 100.74,269.59 100.44,271.02 100.11,270.95 98.81,271.90" fill="none" stroke="#f0f0f0" stroke-width="0.8433831672582784" stroke-linejoin="round" opacity="0.7"/>
<polyline points="99.08,273.30 98.74,273.76 97.74,274.08 96.66,275.40 96.75,275.80 96.14,275.84 95.89,275.82 95.14,276.35 94.68,277.81" fill="none" stroke="#f0f0f0" stroke-width="0.6887286549499652" stroke-linejoin="round" opacity="0.7"/>
<polyline points="93.83,276.11 93.25,277.49 93.86,277.26 92.86,278.64 93.08,279.37 92.33,279.63 92.53,281.33 92.20,281.85 91.36,282.75" fill="none" stroke="#f0f0f0" stroke-width="0.7518505821149203" stroke-linejoin="round" opacity="0.7"/>
<polyline points="90.50,282.68 90.57,282.89 89.68,283.43 89.39,283.96 89.05,283.95 87.89,284.58 87.36,285.48 87.08,286.14" fill="none" stroke="#f0f0f0" stroke-width="0.7371890222997133" stroke-linejoin="round" opacity="0.7"/>
<line x1="89.18" y1="285.10" x2="89.08" y2="287.24" stroke="#e8e8e8" stroke-width="0.55" opacity="0.8"/>
<polyline points="86.47,287.27 85.46,287.35 84.30,288.60 84.15,288.04 83.40,288.51" fill="none" stroke="#f0f0f0" stroke-width="0.7318031863393046" stroke-linejoin="round" opacity="0.7"/>
<polyline points="80.55,288.45 80.01,288.79 78.88,289.28 79.22,289.16 77.52,289.61 77.59,289.75 76.17,289.73 76.13,290.15" fill="none" stroke="#f0f0f0" stroke-width="0.5955333074479968" stroke-linejoin="round" opacity="0.7"/>
<polyline points="71.71,290.30 71.03,290.71 70.77,291.42 69.34,291.53 69.22,291.09 68.01,291.01" fill="none" stroke="#f0f0f0" stroke-width="0.5251891195259781" stroke-linejoin="round" opacity="0.7"/>
<line x1="70.75" y1="291.75" x2="68.59" y2="290.24" stroke="#e8e8e8" stroke-width="0.55" opacity="0.8"/>
<polyline points="67.26,293.16 65.65,292.67 65.69,293.19 64.22,292.86 63.15,293.39 63.50,292.54" fill="none" stroke="#f0f0f0" stroke-width="0.7415658138516454" stroke-linejoin="round" opacity="0.7"/>
<polyline points="61.40,291.94 59.84,292.52 59.70,292.36 58.73,291.72 57.88,292.48 57.41,291.96 57.15,291.26 55.87,291.58 55.14,291.03" fill="none" stroke="#f0f0f0" stroke-width="0.5009643710368773" stroke-linejoin="round" opacity="0.7"/>
<polyline points="54.27,290.02 53.16,289.81 51.92,288.99 51.28,288.23 50.62,287.77 50.73,287.68" fill="none" stroke="#f0f0f0" stroke-width="0.7423785296833767" stroke-linejoin="round" opacity="0.7"/>
<path d="M105.43,265.34 C106.89,265.27 112.35,264.25 114.17,264.90 C116.00,265.56 116.00,268.54 116.36,269.27" fill="none" stroke="#d0d0d0" stroke-width="2.4" stroke-linejoin="round" opacity="0.4" style="filter:blur(0.7px)"/>
<polyline points="106.28,265.60 107.94,266.23 108.87,265.34 109.48,266.22" fill="none" stroke="#f0f0f0" stroke-width="0.6928513809955712" stroke-linejoin="round" opacity="0.7"/>
<polyline points="113.42,263.59 114.08,263.35 115.05,263.66 115.35,263.81 115.46,265.04 117.03,264.83 116.80,266.41 116.51,266.94 117.81,267.83 117.29,268.37" fill="none" stroke="#f0f0f0" stroke-width="0.8198784036163689" stroke-linejoin="round" opacity="0.7"/>
<line x1="114.94" y1="265.40" x2="113.63" y2="266.94" stroke="#e8e8e8" stroke-width="0.55" opacity="0.8"/>
<polyline points="104.82,264.07 105.83,264.69 106.42,264.36 107.59,264.09 107.84,263.86 109.33,264.62 109.38,263.70 110.21,264.09" fill="none" stroke="#f0f0f0" stroke-width="0.5605616718327293" stroke-linejoin="round" opacity="0.7"/>
<polyline points="111.91,263.91 112.76,264.42 113.43,263.99 114.04,264.12 114.02,265.32 114.35,266.03 115.62,266.62 115.80,267.90" fill="none" stroke="#f0f0f0" stroke-width="0.7120183865178492" stroke-linejoin="round" opacity="0.7"/>
<polyline points="104.35,266.35 105.44,266.80 106.71,266.15 107.12,266.67 108.38,266.51 109.02,265.97 109.01,265.60 110.88,265.33 110.78,265.51" fill="none" stroke="#f0f0f0" stroke-width="0.5496182009805644" stroke-linejoin="round" opacity="0.7"/>
<polyline points="111.69,264.51 113.16,265.18 112.83,265.07 113.64,266.18 114.00,266.84" fill="none" stroke="#f0f0f0" stroke-width="0.5368547240847399" stroke-linejoin="round" opacity="0.7"/>
<polyline points="115.97,269.58 116.60,269.70" fill="none" stroke="#f0f0f0" stroke-width="0.5211843839488874" stroke-linejoin="round" opacity="0.7"/>
<line x1="116.36" y1="269.27" x2="116.44" y2="271.37" stroke="#e8e8e8" stroke-width="0.55" opacity="0.8"/>
<path d="M55.16,227.74 C56.80,228.84 61.90,233.57 64.99,234.30 C68.09,235.03 70.64,231.75 73.74,232.11 C76.83,232.48 80.84,234.66 83.57,236.49 C86.31,238.31 89.04,241.95 90.13,243.04" fill="none" stroke="#d0d0d0" stroke-width="2.4" stroke-linejoin="round" opacity="0.4" style="filter:blur(0.7px)"/>
<polyline points="56.14,227.43 56.59,227.33 56.98,228.54 57.14,227.95 57.65,228.71" fill="none" stroke="#f0f0f0" stroke-width="0.59854660922159" stroke-linejoin="round" opacity="0.7"/>
<polyline points="60.72,231.27 61.30,231.14 62.04,232.11 63.22,232.57 63.90,232.05" fill="none" stroke="#f0f0f0" stroke-width="0.5181878518049178" stroke-linejoin="round" opacity="0.7"/>
<polyline points="66.84,233.84 67.20,234.72 68.19,234.26 69.42,233.47" fill="none" stroke="#f0f0f0" stroke-width="0.7885431526487252" stroke-linejoin="round" opacity="0.7"/>
<line x1="66.50" y1="234.37" x2="64.45" y2="232.67" stroke="#e8e8e8" stroke-width="0.55" opacity="0.8"/>
<polyline points="69.01,233.94 69.61,234.63 70.21,234.22 70.24,233.30 71.47,233.06 71.72,233.00 72.27,232.50 73.11,232.76" fill="none" stroke="#f0f0f0" stroke-width="0.783748739137469" stroke-linejoin="round" opacity="0.7"/>
<polyline points="75.48,232.51 75.68,232.63 77.31,233.43 77.91,233.30 77.82,233.26 79.31,233.79 80.02,235.10 80.02,234.30" fill="none" stroke="#f0f0f0" stroke-width="0.7061788004252962" stroke-linejoin="round" opacity="0.7"/>
<polyline points="82.88,237.44 83.71,237.80 84.94,237.70 85.29,238.26 86.41,239.32 86.04,239.89 87.29,240.01 87.47,240.70 88.39,241.40 88.16,241.65" fill="none" stroke="#f0f0f0" stroke-width="0.6893063337621153" stroke-linejoin="round" opacity="0.7"/>
<line x1="86.05" y1="238.56" x2="86.78" y2="236.99" stroke="#e8e8e8" stroke-width="0.55" opacity="0.8"/>
<polyline points="88.78,243.62 90.17,244.31 90.32,243.59" fill="none" stroke="#f0f0f0" stroke-width="0.5419188478887015" stroke-linejoin="round" opacity="0.7"/>
<line x1="90.13" y1="243.04" x2="91.28" y2="244.94" stroke="#e8e8e8" stroke-width="0.55" opacity="0.8"/>
<polyline points="56.05,228.25 55.53,229.45 56.03,229.62 57.47,229.87 57.55,229.67 58.63,230.64 59.03,230.59 59.48,231.28" fill="none" stroke="#f0f0f0" stroke-width="0.8024067558374011" stroke-linejoin="round" opacity="0.7"/>
<polyline points="58.28,231.95 59.17,232.89 60.44,233.34 61.26,233.57 61.76,234.13 61.91,234.75" fill="none" stroke="#f0f0f0" stroke-width="0.6793371776284534" stroke-linejoin="round" opacity="0.7"/>
<polyline points="63.22,235.08 64.64,235.30 64.88,234.74 65.86,234.94 66.01,235.04 66.58,234.81 67.38,234.21 69.02,233.38 68.84,233.57" fill="none" stroke="#f0f0f0" stroke-width="0.8168749856169478" stroke-linejoin="round" opacity="0.7"/>
<polyline points="72.63,231.73 72.90,231.82 73.40,231.66 74.16,230.90" fill="none" stroke="#f0f0f0" stroke-width="0.50019684616276" stroke-linejoin="round" opacity="0.7"/>
<line x1="72.23" y1="232.20" x2="74.68" y2="230.62" stroke="#e8e8e8" stroke-width="0.55" opacity="0.8"/>
<polyline points="75.70,231.63 75.66,231.84 75.87,231.84 77.62,232.62 78.10,232.79 78.44,232.75 79.07,233.50 79.60,234.15 80.81,233.98" fill="none" stroke="#f0f0f0" stroke-width="0.5358947257876704" stroke-linejoin="round" opacity="0.7"/>
<line x1="77.75" y1="233.29" x2="74.93" y2="233.74" stroke="#e8e8e8" stroke-width="0.55" opacity="0.8"/>
<polyline points="81.86,235.07 83.22,235.66 83.60,236.25 84.31,237.13 83.93,237.02 85.64,237.76 85.18,238.83" fill="none" stroke="#f0f0f0" stroke-width="0.5973787480202074" stroke-linejoin="round" opacity="0.7"/>
<polyline points="87.24,239.99 87.56,240.36 88.34,240.93 88.16,241.17 89.06,241.93 89.57,241.75" fill="none" stroke="#f0f0f0" stroke-width="0.8336991263632803" stroke-linejoin="round" opacity="0.7"/>
<polyline points="56.29,227.40 56.04,228.36 57.26,228.56 57.55,229.18 57.56,228.94 58.61,229.73 59.63,230.16 60.32,230.58 60.56,232.04" fill="none" stroke="#f0f0f0" stroke-width="0.704082651743017" stroke-linejoin="round" opacity="0.7"/>
<line x1="58.17" y1="230.11" x2="60.63" y2="230.66" stroke="#e8e8e8" stroke-width="0.55" opacity="0.8"/>
<polyline points="61.66,233.70 62.49,234.03 62.99,234.26 63.96,234.62 64.46,234.78 64.88,235.12 65.38,235.43 66.98,235.00 66.94,234.81" fill="none" stroke="#f0f0f0" stroke-width="0.7817678525137315" stroke-linejoin="round" opacity="0.7"/>
<polyline points="70.25,233.40 71.37,232.59 72.26,232.24 73.41,232.47 73.88,232.47 74.35,231.88 75.59,232.14" fill="none" stroke="#f0f0f0" stroke-width="0.6524381427790351" stroke-linejoin="round" opacity="0.7"/>
<polyline points="76.72,232.87 76.83,233.81 77.64,233.42 79.23,233.45 79.43,233.66 79.56,235.08 80.43,234.53 81.69,235.53 82.35,235.18" fill="none" stroke="#f0f0f0" stroke-width="0.7195344682155831" stroke-linejoin="round" opacity="0.7"/>
<line x1="78.45" y1="233.59" x2="80.50" y2="234.99" stroke="#e8e8e8" stroke-width="0.55" opacity="0.8"/>
<polyline points="83.12,234.75 84.15,235.27 83.76,236.51 85.03,236.24 85.37,237.27 86.50,238.23" fill="none" stroke="#f0f0f0" stroke-width="0.7599840890942717" stroke-linejoin="round" opacity="0.7"/>
<polyline points="87.34,240.32 88.52,242.00 88.96,242.07 88.72,241.94 89.85,243.10 89.16,243.61 90.52,243.35 90.76,244.05" fill="none" stroke="#f0f0f0" stroke-width="0.547900429987025" stroke-linejoin="round" opacity="0.7"/>
<path d="M42.04,275.83 C43.50,275.47 47.87,272.92 50.79,273.64 C53.70,274.37 56.62,278.38 59.53,280.20 C62.44,282.02 65.36,284.21 68.27,284.57 C71.19,284.94 75.56,282.75 77.02,282.39" fill="none" stroke="#d0d0d0" stroke-width="2.4" stroke-linejoin="round" opacity="0.4" style="filter:blur(0.7px)"/>
<polyline points="44.54,275.58 45.66,275.13 45.71,275.40 47.17,274.03 48.10,274.30 48.12,273.84 48.94,274.23" fill="none" stroke="#f0f0f0" stroke-width="0.5643800424486" stroke-linejoin="round" opacity="0.7"/>
<polyline points="50.63,274.61 52.10,274.19 51.61,274.64 52.45,275.00 53.29,275.21 54.10,275.76 54.94,276.27 55.42,277.34 55.28,277.99 55.65,277.51" fill="none" stroke="#f0f0f0" stroke-width="0.6055206270659808" stroke-linejoin="round" opacity="0.7"/>
<polyline points="59.11,280.48 59.57,280.45 61.12,281.80 61.48,282.40 62.26,281.68 62.33,283.21 63.86,283.31" fill="none" stroke="#f0f0f0" stroke-width="0.6591479991610567" stroke-linejoin="round" opacity="0.7"/>
<polyline points="64.59,281.92 64.76,283.15 65.75,282.69 66.30,283.36 67.09,283.73 67.68,283.50 68.40,283.64 69.55,283.67 69.64,283.81" fill="none" stroke="#f0f0f0" stroke-width="0.562968215478158" stroke-linejoin="round" opacity="0.7"/>
<polyline points="70.62,285.05 71.57,284.98 72.02,283.65 73.47,283.97 74.40,284.05 74.37,283.06 74.99,282.58 76.42,283.55 76.64,282.91" fill="none" stroke="#f0f0f0" stroke-width="0.7880341689451005" stroke-linejoin="round" opacity="0.7"/>
<polyline points="42.28,275.52 42.42,274.66 43.66,274.86 44.56,273.68 45.31,273.59" fill="none" stroke="#f0f0f0" stroke-width="0.6926654776369449" stroke-linejoin="round" opacity="0.7"/>
<line x1="44.31" y1="274.94" x2="45.62" y2="274.55" stroke="#e8e8e8" stroke-width="0.55" opacity="0.8"/>
<polyline points="46.46,275.38 47.16,275.02 48.29,274.09 48.68,273.91 50.17,275.12 49.94,275.02 50.93,275.21 51.62,274.90" fill="none" stroke="#f0f0f0" stroke-width="0.743064222315903" stroke-linejoin="round" opacity="0.7"/>
<polyline points="55.46,275.86 55.22,276.56 56.63,277.33 57.40,278.38 57.92,277.86 58.55,278.28" fill="none" stroke="#f0f0f0" stroke-width="0.665648030682424" stroke-linejoin="round" opacity="0.7"/>
<line x1="56.03" y1="277.32" x2="57.46" y2="278.65" stroke="#e8e8e8" stroke-width="0.55" opacity="0.8"/>
<polyline points="60.14,279.94 60.48,280.16 61.75,280.34 62.15,280.57" fill="none" stroke="#f0f0f0" stroke-width="0.5138715239543917" stroke-linejoin="round" opacity="0.7"/>
<polyline points="61.65,280.99 63.06,282.15 63.19,282.19 64.28,283.10 64.77,283.35 65.27,283.83 65.86,283.21 66.93,283.43 67.27,284.43" fill="none" stroke="#f0f0f0" stroke-width="0.7056348716868484" stroke-linejoin="round" opacity="0.7"/>
<polyline points="69.89,283.38 71.08,283.60 71.44,283.61 72.88,282.58 73.91,282.73 73.59,282.31 75.33,282.28 75.71,282.43 76.64,282.36" fill="none" stroke="#f0f0f0" stroke-width="0.6771936641536086" stroke-linejoin="round" opacity="0.7"/>
<polyline points="45.11,275.32 46.35,274.55 47.14,274.59 47.63,274.64 48.29,273.80 49.38,273.63 50.40,273.41 50.57,273.17 52.04,274.12" fill="none" stroke="#f0f0f0" stroke-width="0.7022372259982411" stroke-linejoin="round" opacity="0.7"/>
<line x1="47.55" y1="273.81" x2="48.91" y2="272.03" stroke="#e8e8e8" stroke-width="0.55" opacity="0.8"/>
<polyline points="52.93,274.69 53.40,275.19 54.01,275.84 54.20,275.99 55.36,275.97 56.42,276.98" fill="none" stroke="#f0f0f0" stroke-width="0.7000987306747621" stroke-linejoin="round" opacity="0.7"/>
<line x1="53.12" y1="274.82" x2="55.97" y2="274.02" stroke="#e8e8e8" stroke-width="0.55" opacity="0.8"/>
<polyline points="57.84,277.73 57.91,278.53 59.31,278.58 60.07,278.81 59.86,279.17 60.33,279.53 61.92,279.76 62.12,280.35 62.52,281.21 63.11,281.05" fill="none" stroke="#f0f0f0" stroke-width="0.5283924042246767" stroke-linejoin="round" opacity="0.7"/>
<polyline points="63.04,282.13 64.53,282.70 65.12,282.82 65.62,282.93 66.60,283.23 67.00,283.58 67.51,283.36 68.49,283.73" fill="none" stroke="#f0f0f0" stroke-width="0.5485193969382638" stroke-linejoin="round" opacity="0.7"/>
<line x1="65.58" y1="283.78" x2="64.39" y2="284.49" stroke="#e8e8e8" stroke-width="0.55" opacity="0.8"/>
<polyline points="71.75,285.02 73.76,285.19 73.69,284.57 74.69,283.93 75.08,284.23 76.25,283.76 77.03,283.16 77.17,283.46 77.43,283.20" fill="none" stroke="#f0f0f0" stroke-width="0.5586981820318846" stroke-linejoin="round" opacity="0.7"/>
<path d="M51.88,284.57 C51.70,286.40 49.51,292.88 50.79,295.50 C52.06,298.13 56.25,299.22 59.53,300.31 C62.81,301.40 68.64,301.77 70.46,302.06" fill="none" stroke="#d0d0d0" stroke-width="2.4" stroke-linejoin="round" opacity="0.4" style="filter:blur(0.7px)"/>
<polyline points="51.73,286.35 51.93,287.73 51.87,287.96 50.68,288.80 51.43,289.66 51.31,291.25 50.31,291.49 50.27,292.18" fill="none" stroke="#f0f0f0" stroke-width="0.6102198486015767" stroke-linejoin="round" opacity="0.7"/>
<polyline points="51.31,294.27 51.53,294.64 51.75,295.01 51.55,295.73 52.30,296.93 52.86,296.53" fill="none" stroke="#f0f0f0" stroke-width="0.5292854503094929" stroke-linejoin="round" opacity="0.7"/>
<line x1="50.79" y1="295.50" x2="52.88" y2="293.52" stroke="#e8e8e8" stroke-width="0.55" opacity="0.8"/>
<polyline points="53.53,298.16 54.16,298.81 54.39,298.66 54.62,298.49 56.34,299.63 56.06,299.71 56.85,299.79" fill="none" stroke="#f0f0f0" stroke-width="0.5255073170808002" stroke-linejoin="round" opacity="0.7"/>
<polyline points="58.21,300.86 58.79,300.54 59.86,300.49 60.86,301.41 60.77,301.30 61.76,301.08 63.24,302.26 63.21,302.43 64.68,302.12 65.06,302.58" fill="none" stroke="#f0f0f0" stroke-width="0.6527016718049987" stroke-linejoin="round" opacity="0.7"/>
<polyline points="65.66,301.40 66.11,301.95 67.83,301.86 68.39,301.21 69.22,301.55 68.93,302.17 69.74,301.86" fill="none" stroke="#f0f0f0" stroke-width="0.5685126351181562" stroke-linejoin="round" opacity="0.7"/>
<polyline points="50.86,284.15 51.41,284.12 50.76,284.77 50.97,285.76" fill="none" stroke="#f0f0f0" stroke-width="0.5274605989228753" stroke-linejoin="round" opacity="0.7"/>
<line x1="51.82" y1="285.00" x2="50.34" y2="287.10" stroke="#e8e8e8" stroke-width="0.55" opacity="0.8"/>
<polyline points="51.85,287.58 51.87,288.31 51.35,289.41 51.40,290.35 50.86,291.05 50.74,291.50 51.18,292.82 50.35,293.56" fill="none" stroke="#f0f0f0" stroke-width="0.6513430453530161" stroke-linejoin="round" opacity="0.7"/>
<line x1="50.87" y1="289.30" x2="53.36" y2="288.68" stroke="#e8e8e8" stroke-width="0.55" opacity="0.8"/>
<polyline points="51.70,294.99 51.76,295.23 51.58,296.49 51.83,296.72 51.62,296.65 53.00,298.20 53.28,297.62" fill="none" stroke="#f0f0f0" stroke-width="0.6941770736644312" stroke-linejoin="round" opacity="0.7"/>
<polyline points="53.10,298.32 53.26,298.34 53.30,298.77 54.81,299.65 55.73,300.23 55.95,300.30 56.63,300.83 57.20,300.88 57.55,300.59" fill="none" stroke="#f0f0f0" stroke-width="0.5696901803356511" stroke-linejoin="round" opacity="0.7"/>
<polyline points="58.57,301.27 58.14,301.54 59.57,301.07 60.10,302.22 60.82,302.01 62.17,302.12 62.03,302.22" fill="none" stroke="#f0f0f0" stroke-width="0.6965414257835281" stroke-linejoin="round" opacity="0.7"/>
<line x1="60.96" y1="300.71" x2="58.93" y2="300.84" stroke="#e8e8e8" stroke-width="0.55" opacity="0.8"/>
<polyline points="67.36,302.36 68.44,302.05 69.76,302.77 70.52,302.56 70.78,302.30 71.00,302.95 71.25,302.33" fill="none" stroke="#f0f0f0" stroke-width="0.5976324164106703" stroke-linejoin="round" opacity="0.7"/>
<polyline points="52.74,285.50 53.01,286.10 51.91,286.96 52.34,287.39 52.80,288.08 52.23,288.57 52.08,289.70" fill="none" stroke="#f0f0f0" stroke-width="0.5421199499093056" stroke-linejoin="round" opacity="0.7"/>
<polyline points="50.23,291.40 49.76,292.42 49.41,292.36 49.66,292.93 49.49,294.18 50.19,294.39" fill="none" stroke="#f0f0f0" stroke-width="0.7787922655438105" stroke-linejoin="round" opacity="0.7"/>
<polyline points="52.32,296.75 52.04,297.37 52.93,298.33 52.83,298.28 54.36,299.32 54.62,299.32 54.66,299.31" fill="none" stroke="#f0f0f0" stroke-width="0.7349260315399233" stroke-linejoin="round" opacity="0.7"/>
<polyline points="54.32,298.32 55.91,299.44 55.95,299.01 57.31,299.44" fill="none" stroke="#f0f0f0" stroke-width="0.7500767883609061" stroke-linejoin="round" opacity="0.7"/>
<polyline points="61.20,301.52 62.79,301.84 63.59,301.64 64.59,302.05 65.46,301.70 65.99,301.83" fill="none" stroke="#f0f0f0" stroke-width="0.801396873091133" stroke-linejoin="round" opacity="0.7"/>
<line x1="62.57" y1="301.04" x2="61.51" y2="298.58" stroke="#e8e8e8" stroke-width="0.55" opacity="0.8"/>
<polyline points="64.66,302.89 65.50,302.77 66.99,303.27 67.53,302.85 67.53,302.93 68.88,302.81 69.05,303.56" fill="none" stroke="#f0f0f0" stroke-width="0.7813243380368404" stroke-linejoin="round" opacity="0.7"/>
<path d="M83.57,251.79 C84.67,253.24 87.95,258.71 90.13,260.53 C92.32,262.35 94.50,263.08 96.69,262.72 C98.87,262.35 102.15,259.07 103.25,258.34" fill="none" stroke="#d0d0d0" stroke-width="2.4" stroke-linejoin="round" opacity="0.4" style="filter:blur(0.7px)"/>
<polyline points="83.93,253.35 84.79,254.38 85.29,255.15 85.74,255.16 85.77,256.46 86.50,256.57 86.61,257.28 86.97,258.10 87.73,259.26" fill="none" stroke="#f0f0f0" stroke-width="0.7827440891432194" stroke-linejoin="round" opacity="0.7"/>
<polyline points="89.73,260.48 90.23,261.03 90.99,261.87 92.55,261.37" fill="none" stroke="#f0f0f0" stroke-width="0.6617981572232343" stroke-linejoin="round" opacity="0.7"/>
<polyline points="94.49,262.60 94.93,263.35 95.85,262.84 96.60,263.48 96.86,262.73 97.16,263.57 98.43,262.94 99.02,262.87 100.04,261.65" fill="none" stroke="#f0f0f0" stroke-width="0.8115035585190733" stroke-linejoin="round" opacity="0.7"/>
<polyline points="100.67,258.80 102.01,257.37 101.76,257.29 102.09,257.82" fill="none" stroke="#f0f0f0" stroke-width="0.7762157631037616" stroke-linejoin="round" opacity="0.7"/>
<polyline points="84.08,254.24 84.76,255.03 84.80,255.64 86.40,256.65 86.70,257.38 86.70,257.59" fill="none" stroke="#f0f0f0" stroke-width="0.6413658072179711" stroke-linejoin="round" opacity="0.7"/>
<polyline points="88.40,258.25 88.99,259.60 88.96,260.16 90.40,260.22 90.00,260.79 90.91,261.33 91.88,261.72 92.61,261.35 93.47,261.89 93.84,262.05" fill="none" stroke="#f0f0f0" stroke-width="0.5857498397369727" stroke-linejoin="round" opacity="0.7"/>
<line x1="90.86" y1="261.10" x2="89.35" y2="262.60" stroke="#e8e8e8" stroke-width="0.55" opacity="0.8"/>
<polyline points="96.55,261.84 96.93,262.20 97.22,261.15 98.12,261.48 98.45,260.28 100.10,260.41 100.83,259.93 101.12,258.67" fill="none" stroke="#f0f0f0" stroke-width="0.534163504921022" stroke-linejoin="round" opacity="0.7"/>
<polyline points="85.11,251.98 85.56,252.59 85.61,253.32 86.35,253.71" fill="none" stroke="#f0f0f0" stroke-width="0.6259948554339365" stroke-linejoin="round" opacity="0.7"/>
<polyline points="86.45,257.01 87.34,257.99 87.75,258.97 88.33,259.09" fill="none" stroke="#f0f0f0" stroke-width="0.6096865388243282" stroke-linejoin="round" opacity="0.7"/>
<polyline points="89.08,259.40 89.69,260.52 89.29,261.12 90.25,261.76 91.78,262.06 91.50,262.74 92.32,263.05" fill="none" stroke="#f0f0f0" stroke-width="0.5292717006501164" stroke-linejoin="round" opacity="0.7"/>
<line x1="90.86" y1="261.10" x2="88.70" y2="261.08" stroke="#e8e8e8" stroke-width="0.55" opacity="0.8"/>
<polyline points="93.49,262.03 94.68,261.99 95.48,262.19 95.74,262.53 96.33,262.13 97.18,261.56 98.50,261.69 98.36,260.51 100.00,260.00 99.67,259.81" fill="none" stroke="#f0f0f0" stroke-width="0.5864180390684544" stroke-linejoin="round" opacity="0.7"/>
<polyline points="103.65,259.40 102.90,259.06" fill="none" stroke="#f0f0f0" stroke-width="0.780556804526973" stroke-linejoin="round" opacity="0.7"/>
<path d="M35.49,293.32 C36.94,292.95 42.04,290.40 44.23,291.13 C46.42,291.86 47.87,296.60 48.60,297.69" fill="none" stroke="#d0d0d0" stroke-width="2.4" stroke-linejoin="round" opacity="0.4" style="filter:blur(0.7px)"/>
<polyline points="35.81,293.68 36.38,292.58 36.81,293.18 38.09,293.09 38.75,292.32 38.82,292.50 39.45,291.29 41.04,291.91 41.77,290.95" fill="none" stroke="#f0f0f0" stroke-width="0.7671051348946261" stroke-linejoin="round" opacity="0.7"/>
<line x1="37.91" y1="292.43" x2="38.55" y2="290.35" stroke="#e8e8e8" stroke-width="0.55" opacity="0.8"/>
<polyline points="44.19,291.74 44.86,291.81 45.34,292.76 46.20,292.20 46.37,293.63 46.25,294.59" fill="none" stroke="#f0f0f0" stroke-width="0.8179033796567983" stroke-linejoin="round" opacity="0.7"/>
<line x1="44.81" y1="291.42" x2="43.86" y2="293.56" stroke="#e8e8e8" stroke-width="0.55" opacity="0.8"/>
<polyline points="47.71,294.64 48.64,295.72 49.00,296.35 48.81,296.62 48.93,297.34" fill="none" stroke="#f0f0f0" stroke-width="0.6779164069698638" stroke-linejoin="round" opacity="0.7"/>
<polyline points="36.63,291.33 36.95,292.12 37.73,291.07 38.11,291.46 39.80,291.07 39.98,290.57" fill="none" stroke="#f0f0f0" stroke-width="0.6270291879733695" stroke-linejoin="round" opacity="0.7"/>
<line x1="38.73" y1="292.12" x2="38.14" y2="294.09" stroke="#e8e8e8" stroke-width="0.55" opacity="0.8"/>
<polyline points="43.29,290.33 43.40,290.44 43.67,290.27 44.79,291.66 44.82,292.09 45.73,292.77 46.07,293.58 46.44,294.61 47.18,294.72" fill="none" stroke="#f0f0f0" stroke-width="0.5125929673049221" stroke-linejoin="round" opacity="0.7"/>
<line x1="45.86" y1="292.47" x2="44.58" y2="294.57" stroke="#e8e8e8" stroke-width="0.55" opacity="0.8"/>
<polyline points="47.92,296.32 47.89,296.97" fill="none" stroke="#f0f0f0" stroke-width="0.8344555522882027" stroke-linejoin="round" opacity="0.7"/>
<polyline points="35.68,292.63 35.64,293.14 36.10,292.69 36.55,292.68 37.14,291.99 39.03,291.59 39.10,292.11 40.39,291.70" fill="none" stroke="#f0f0f0" stroke-width="0.7734785662723118" stroke-linejoin="round" opacity="0.7"/>
<polyline points="43.10,290.60 44.09,289.83 44.22,289.40 45.12,289.94 46.12,290.15 45.68,290.88 46.98,291.33 47.01,291.99" fill="none" stroke="#f0f0f0" stroke-width="0.6723497814060713" stroke-linejoin="round" opacity="0.7"/>
<line x1="44.23" y1="291.13" x2="45.60" y2="289.72" stroke="#e8e8e8" stroke-width="0.55" opacity="0.8"/>
<polyline points="47.59,295.16 48.08,295.62 48.87,296.85 48.58,297.49 48.89,297.29" fill="none" stroke="#f0f0f0" stroke-width="0.6916691040384916" stroke-linejoin="round" opacity="0.7"/>
<path d="M96.69,251.79 C97.42,251.06 99.79,249.42 101.06,247.42 C102.34,245.41 103.79,241.04 104.34,239.77" fill="none" stroke="#d0d0d0" stroke-width="2.4" stroke-linejoin="round" opacity="0.4" style="filter:blur(0.7px)"/>
<polyline points="99.48,249.43 99.60,248.99 99.98,248.15 100.41,248.08 101.02,247.46 102.34,246.04 102.37,245.57 102.86,245.27 103.37,243.78" fill="none" stroke="#f0f0f0" stroke-width="0.5957306659014816" stroke-linejoin="round" opacity="0.7"/>
<polyline points="103.78,240.64 103.64,239.51 104.46,238.84 103.98,239.58" fill="none" stroke="#f0f0f0" stroke-width="0.7859431123239642" stroke-linejoin="round" opacity="0.7"/>
<polyline points="98.49,250.88 99.35,250.09 98.79,250.09 99.96,249.41 100.95,248.89 101.77,247.94 101.81,247.79 102.40,246.47 102.66,245.85" fill="none" stroke="#f0f0f0" stroke-width="0.5793032818986052" stroke-linejoin="round" opacity="0.7"/>
<polyline points="102.61,244.81 102.97,243.04 102.94,242.12 103.88,242.01" fill="none" stroke="#f0f0f0" stroke-width="0.7888522554958728" stroke-linejoin="round" opacity="0.7"/>
<line x1="102.81" y1="243.73" x2="101.96" y2="244.75" stroke="#e8e8e8" stroke-width="0.55" opacity="0.8"/>
<polyline points="102.37,241.79 103.60,241.35 103.46,240.91 103.85,239.62" fill="none" stroke="#f0f0f0" stroke-width="0.5870425619834769" stroke-linejoin="round" opacity="0.7"/>
<polyline points="97.58,250.09 97.40,250.43 98.47,249.38 98.55,249.10 99.86,248.63 99.79,247.45 100.11,247.05 101.19,246.66 100.88,245.63" fill="none" stroke="#f0f0f0" stroke-width="0.8046058448255969" stroke-linejoin="round" opacity="0.7"/>
<polyline points="103.20,244.57 103.01,243.34 103.79,243.11 104.04,242.44" fill="none" stroke="#f0f0f0" stroke-width="0.7317482133682959" stroke-linejoin="round" opacity="0.7"/>
<line x1="103.13" y1="242.91" x2="104.98" y2="242.29" stroke="#e8e8e8" stroke-width="0.55" opacity="0.8"/>
<path d="M31.11,272.55 C32.39,272.22 36.29,270.33 38.77,270.58 C41.24,270.84 44.78,273.50 45.98,274.08" fill="none" stroke="#d0d0d0" stroke-width="2.4" stroke-linejoin="round" opacity="0.4" style="filter:blur(0.7px)"/>
<polyline points="32.92,272.18 33.71,272.81 34.20,272.06 35.48,272.13 36.58,271.58 36.51,271.81 38.21,270.97" fill="none" stroke="#f0f0f0" stroke-width="0.7578189205076696" stroke-linejoin="round" opacity="0.7"/>
<line x1="35.69" y1="270.98" x2="36.33" y2="268.25" stroke="#e8e8e8" stroke-width="0.55" opacity="0.8"/>
<polyline points="40.14,271.74 40.26,271.95 41.86,272.10 41.91,272.28 42.46,272.88 43.78,272.70 44.61,273.65 44.48,273.93 45.59,273.76" fill="none" stroke="#f0f0f0" stroke-width="0.643529596901668" stroke-linejoin="round" opacity="0.7"/>
<polyline points="32.00,270.57 32.71,270.22 34.01,270.20 34.58,269.81 35.68,269.93 36.04,269.39 37.76,269.12" fill="none" stroke="#f0f0f0" stroke-width="0.8344503812621411" stroke-linejoin="round" opacity="0.7"/>
<polyline points="38.73,270.01 39.47,269.58 40.01,270.03 40.90,271.00 41.99,271.10 42.46,271.13 42.63,271.24 44.34,271.85 44.19,272.77" fill="none" stroke="#f0f0f0" stroke-width="0.7128914520715286" stroke-linejoin="round" opacity="0.7"/>
<polyline points="33.78,272.20 34.82,272.00 35.40,271.70 36.72,271.52 37.22,271.57 37.93,271.33" fill="none" stroke="#f0f0f0" stroke-width="0.5678223721807549" stroke-linejoin="round" opacity="0.7"/>
<polyline points="38.69,271.20 39.15,271.54 40.36,271.35 40.41,272.01 42.02,272.11" fill="none" stroke="#f0f0f0" stroke-width="0.8212012894045255" stroke-linejoin="round" opacity="0.7"/>
<polyline points="43.59,272.93 43.47,273.84 44.19,273.73 45.04,273.95 44.71,273.72" fill="none" stroke="#f0f0f0" stroke-width="0.5219780889266243" stroke-linejoin="round" opacity="0.7"/>
<line x1="45.60" y1="273.87" x2="43.54" y2="275.19" stroke="#e8e8e8" stroke-width="0.55" opacity="0.8"/>
</g>
<text x="24.00" y="231.30" font-size="7.0" text-anchor="start" fill="#000" stroke="#000" stroke-width="0.3">GO-100</text>
<text x="22.40" y="301.90" font-size="3.6" text-anchor="start" fill="#111" >100nm</text>
<line x1="24.00" y1="304.00" x2="33.00" y2="304.00" stroke="#222" stroke-width="1.0" />
<clipPath id="cJ"><rect x="156.7" y="221.3" width="112.5" height="85.5"/></clipPath>
<g clip-path="url(#cJ)">
<rect x="156.7" y="221.3" width="112.5" height="85.5" filter="url(#nJ)"/>
<linearGradient id="gJ" x1="0" y1="0" x2="1" y2="0"><stop offset="0.55" stop-color="#808080" stop-opacity="0"/><stop offset="1" stop-color="#808080" stop-opacity="0.35"/></linearGradient>
<rect x="156.7" y="221.3" width="112.5" height="85.5" fill="url(#gJ)"/>
<path d="M163.14,232.65 C163.46,232.47 163.97,232.19 164.28,232.19 C164.59,232.18 164.65,232.51 165.00,232.62 C165.36,232.72 166.43,232.70 166.41,232.82 C166.38,232.93 165.24,233.19 164.87,233.30 C164.50,233.42 164.46,233.48 164.21,233.52 C163.96,233.57 163.68,233.60 163.38,233.56 C163.07,233.51 162.43,233.42 162.39,233.27 C162.35,233.12 162.83,232.83 163.14,232.65 Z" fill="#bababa" filter="url(#b03)"/>
<circle cx="163.89" cy="233.17" r="0.53" fill="#cfcfcf" filter="url(#b03)"/>
<path d="M161.81,235.40 C161.59,234.97 161.80,234.13 161.86,233.72 C161.91,233.30 161.96,233.11 162.14,232.91 C162.32,232.72 162.67,232.40 162.96,232.55 C163.25,232.71 163.63,233.33 163.86,233.86 C164.09,234.38 164.44,235.30 164.34,235.70 C164.23,236.10 163.65,236.31 163.23,236.26 C162.81,236.21 162.04,235.82 161.81,235.40 Z" fill="#aeaeae" filter="url(#b03)"/>
<circle cx="162.27" cy="233.62" r="0.61" fill="#cfcfcf" filter="url(#b03)"/>
<path d="M171.77,238.18 C171.63,238.37 171.11,238.50 170.80,238.68 C170.49,238.86 170.11,239.26 169.93,239.26 C169.76,239.26 169.75,238.87 169.77,238.68 C169.78,238.50 169.92,238.34 170.03,238.16 C170.13,237.97 170.21,237.70 170.39,237.56 C170.58,237.42 170.93,237.33 171.13,237.33 C171.34,237.32 171.52,237.40 171.63,237.54 C171.73,237.68 171.91,237.99 171.77,238.18 Z" fill="#aeaeae" filter="url(#b03)"/>
<circle cx="171.08" cy="238.64" r="0.45" fill="#cfcfcf" filter="url(#b03)"/>
<path d="M173.68,239.07 C173.63,239.48 173.35,239.84 173.09,240.00 C172.84,240.16 172.54,240.09 172.15,240.02 C171.75,239.96 170.79,239.87 170.74,239.60 C170.68,239.33 171.35,238.73 171.79,238.39 C172.23,238.05 173.05,237.42 173.36,237.53 C173.68,237.65 173.72,238.66 173.68,239.07 Z" fill="#bababa" filter="url(#b03)"/>
<circle cx="172.27" cy="239.06" r="0.50" fill="#cfcfcf" filter="url(#b03)"/>
<path d="M172.11,240.62 C171.87,240.73 171.44,240.45 171.29,240.29 C171.13,240.14 171.12,240.00 171.18,239.67 C171.24,239.35 171.43,238.45 171.65,238.34 C171.88,238.23 172.37,238.78 172.55,238.99 C172.73,239.21 172.82,239.34 172.75,239.61 C172.67,239.88 172.36,240.50 172.11,240.62 Z" fill="#aeaeae" filter="url(#b03)"/>
<circle cx="171.57" cy="240.15" r="0.47" fill="#cfcfcf" filter="url(#b03)"/>
<path d="M179.71,243.38 C179.61,243.59 179.01,243.80 178.69,243.93 C178.37,244.07 178.10,244.19 177.81,244.20 C177.52,244.21 177.03,244.16 176.93,243.99 C176.84,243.82 177.12,243.45 177.25,243.18 C177.39,242.92 177.48,242.57 177.73,242.42 C177.97,242.28 178.46,242.27 178.72,242.32 C178.98,242.36 179.12,242.53 179.29,242.71 C179.45,242.89 179.81,243.18 179.71,243.38 Z" fill="#969696" filter="url(#b03)"/>
<circle cx="178.05" cy="243.50" r="0.40" fill="#cfcfcf" filter="url(#b03)"/>
<path d="M180.25,243.03 C180.09,243.18 180.14,243.40 179.95,243.47 C179.77,243.54 179.41,243.51 179.15,243.45 C178.88,243.38 178.49,243.26 178.38,243.09 C178.28,242.92 178.36,242.60 178.52,242.44 C178.68,242.27 179.02,242.13 179.32,242.07 C179.62,242.00 180.05,241.96 180.32,242.05 C180.58,242.13 180.91,242.41 180.90,242.58 C180.89,242.74 180.41,242.88 180.25,243.03 Z" fill="#a2a2a2" filter="url(#b03)"/>
<circle cx="179.71" cy="242.87" r="0.34" fill="#cfcfcf" filter="url(#b03)"/>
<path d="M181.28,245.74 C181.34,245.32 181.45,244.43 181.65,244.21 C181.86,243.98 182.28,244.27 182.51,244.37 C182.73,244.47 182.92,244.55 183.01,244.81 C183.11,245.06 183.19,245.56 183.09,245.91 C182.98,246.26 182.62,246.72 182.39,246.91 C182.17,247.11 181.92,247.09 181.73,247.06 C181.54,247.04 181.32,246.97 181.24,246.75 C181.16,246.53 181.21,246.16 181.28,245.74 Z" fill="#bababa" filter="url(#b03)"/>
<circle cx="182.20" cy="245.36" r="0.61" fill="#cfcfcf" filter="url(#b03)"/>
<path d="M182.51,245.76 C182.10,245.39 182.22,244.47 182.26,243.94 C182.30,243.42 182.35,242.83 182.76,242.60 C183.18,242.36 184.39,242.25 184.75,242.54 C185.11,242.84 184.93,243.77 184.93,244.38 C184.92,244.99 185.12,245.95 184.72,246.18 C184.31,246.41 182.92,246.13 182.51,245.76 Z" fill="#969696" filter="url(#b03)"/>
<circle cx="183.01" cy="244.32" r="0.59" fill="#cfcfcf" filter="url(#b03)"/>
<path d="M183.06,245.37 C182.96,245.08 183.14,244.44 183.22,244.12 C183.30,243.80 183.40,243.50 183.55,243.45 C183.70,243.41 183.89,243.60 184.11,243.86 C184.33,244.12 184.86,244.73 184.87,245.03 C184.88,245.33 184.37,245.52 184.19,245.66 C184.01,245.80 183.96,245.94 183.77,245.89 C183.58,245.84 183.15,245.67 183.06,245.37 Z" fill="#a2a2a2" filter="url(#b03)"/>
<circle cx="184.27" cy="245.01" r="0.54" fill="#cfcfcf" filter="url(#b03)"/>
<path d="M181.71,245.15 C181.51,244.80 181.78,244.25 182.22,244.14 C182.66,244.03 183.89,244.21 184.37,244.50 C184.85,244.79 185.03,245.56 185.09,245.90 C185.16,246.24 185.02,246.47 184.75,246.53 C184.47,246.59 183.93,246.48 183.43,246.25 C182.92,246.02 181.91,245.51 181.71,245.15 Z" fill="#a2a2a2" filter="url(#b03)"/>
<circle cx="183.88" cy="245.47" r="0.64" fill="#cfcfcf" filter="url(#b03)"/>
<path d="M183.92,237.01 C183.94,237.35 184.05,237.81 183.92,237.88 C183.79,237.95 183.35,237.63 183.13,237.44 C182.92,237.24 182.67,236.98 182.62,236.72 C182.56,236.47 182.63,236.07 182.82,235.92 C183.02,235.78 183.62,235.68 183.81,235.86 C183.99,236.04 183.90,236.67 183.92,237.01 Z" fill="#bababa" filter="url(#b03)"/>
<circle cx="183.38" cy="237.18" r="0.37" fill="#cfcfcf" filter="url(#b03)"/>
<path d="M183.57,236.92 C183.49,237.19 183.05,237.33 182.80,237.47 C182.56,237.60 182.17,237.93 182.09,237.74 C182.01,237.55 182.19,236.79 182.31,236.33 C182.44,235.87 182.68,235.07 182.84,234.99 C183.00,234.90 183.14,235.51 183.27,235.83 C183.39,236.16 183.65,236.65 183.57,236.92 Z" fill="#969696" filter="url(#b03)"/>
<circle cx="183.10" cy="236.15" r="0.43" fill="#cfcfcf" filter="url(#b03)"/>
<path d="M193.61,246.38 C193.42,246.24 193.21,246.22 193.05,246.03 C192.90,245.83 192.70,245.40 192.68,245.19 C192.67,244.99 192.81,244.79 192.95,244.79 C193.09,244.79 193.37,245.03 193.53,245.18 C193.69,245.32 193.72,245.45 193.90,245.68 C194.09,245.92 194.61,246.38 194.65,246.58 C194.70,246.77 194.36,246.88 194.19,246.84 C194.02,246.81 193.80,246.52 193.61,246.38 Z" fill="#bababa" filter="url(#b03)"/>
<circle cx="193.82" cy="245.98" r="0.43" fill="#cfcfcf" filter="url(#b03)"/>
<path d="M191.08,246.56 C190.93,246.21 190.65,245.36 190.83,245.12 C191.00,244.87 191.72,245.07 192.15,245.09 C192.58,245.12 193.19,244.98 193.41,245.26 C193.63,245.53 193.60,246.38 193.46,246.71 C193.31,247.05 192.82,247.17 192.53,247.26 C192.24,247.35 191.97,247.37 191.73,247.25 C191.49,247.14 191.23,246.92 191.08,246.56 Z" fill="#969696" filter="url(#b03)"/>
<circle cx="192.33" cy="246.69" r="0.47" fill="#cfcfcf" filter="url(#b03)"/>
<path d="M198.51,249.83 C198.76,249.91 199.05,250.21 199.02,250.48 C198.99,250.75 198.63,251.17 198.33,251.46 C198.04,251.75 197.56,252.16 197.26,252.21 C196.96,252.26 196.72,251.93 196.53,251.77 C196.35,251.61 196.16,251.49 196.14,251.26 C196.12,251.02 196.21,250.57 196.43,250.36 C196.66,250.15 197.15,250.09 197.50,250.00 C197.84,249.91 198.25,249.75 198.51,249.83 Z" fill="#a2a2a2" filter="url(#b03)"/>
<circle cx="197.77" cy="250.72" r="0.46" fill="#cfcfcf" filter="url(#b03)"/>
<path d="M197.76,249.38 C197.98,249.32 198.36,249.39 198.56,249.47 C198.76,249.54 198.90,249.69 198.97,249.84 C199.04,249.98 199.09,250.18 198.98,250.35 C198.87,250.52 198.56,250.81 198.30,250.86 C198.04,250.90 197.62,250.74 197.43,250.63 C197.23,250.53 197.16,250.37 197.12,250.23 C197.09,250.09 197.11,249.94 197.21,249.80 C197.32,249.65 197.53,249.43 197.76,249.38 Z" fill="#aeaeae" filter="url(#b03)"/>
<circle cx="198.30" cy="250.48" r="0.42" fill="#cfcfcf" filter="url(#b03)"/>
<path d="M201.99,243.33 C201.82,243.72 201.38,244.01 201.10,244.10 C200.82,244.20 200.35,244.15 200.31,243.90 C200.28,243.66 200.59,242.98 200.89,242.63 C201.19,242.28 201.93,241.68 202.11,241.80 C202.30,241.92 202.16,242.95 201.99,243.33 Z" fill="#bababa" filter="url(#b03)"/>
<circle cx="201.20" cy="242.92" r="0.44" fill="#cfcfcf" filter="url(#b03)"/>
<path d="M200.11,241.61 C200.25,241.42 200.70,241.60 200.99,241.56 C201.27,241.51 201.63,241.21 201.81,241.35 C201.98,241.48 202.04,242.02 202.02,242.36 C201.99,242.71 201.87,243.22 201.64,243.43 C201.41,243.64 200.87,243.76 200.62,243.64 C200.37,243.51 200.23,243.02 200.15,242.68 C200.06,242.34 199.97,241.79 200.11,241.61 Z" fill="#a2a2a2" filter="url(#b03)"/>
<circle cx="200.85" cy="242.31" r="0.37" fill="#cfcfcf" filter="url(#b03)"/>
<path d="M209.71,239.56 C209.59,239.75 209.43,239.76 209.26,239.91 C209.08,240.05 208.81,240.43 208.64,240.41 C208.48,240.39 208.46,240.00 208.25,239.80 C208.04,239.60 207.39,239.40 207.40,239.22 C207.41,239.04 208.01,238.84 208.30,238.72 C208.58,238.60 208.81,238.52 209.10,238.53 C209.38,238.54 209.91,238.61 210.02,238.78 C210.12,238.95 209.84,239.37 209.71,239.56 Z" fill="#a2a2a2" filter="url(#b03)"/>
<circle cx="208.82" cy="239.82" r="0.37" fill="#cfcfcf" filter="url(#b03)"/>
<path d="M208.56,253.85 C208.31,254.13 207.82,254.23 207.47,254.28 C207.12,254.34 206.55,254.35 206.47,254.17 C206.40,254.00 206.82,253.53 207.04,253.25 C207.25,252.97 207.43,252.60 207.76,252.49 C208.09,252.38 208.87,252.37 209.01,252.59 C209.14,252.82 208.82,253.57 208.56,253.85 Z" fill="#a2a2a2" filter="url(#b03)"/>
<circle cx="207.58" cy="253.27" r="0.46" fill="#cfcfcf" filter="url(#b03)"/>
<path d="M206.63,251.34 C207.02,251.28 207.60,250.69 207.84,250.78 C208.07,250.87 208.12,251.57 208.04,251.89 C207.95,252.21 207.58,252.51 207.34,252.69 C207.10,252.88 206.82,252.96 206.60,252.97 C206.38,252.98 206.28,252.86 206.02,252.76 C205.75,252.65 205.10,252.62 205.00,252.35 C204.91,252.09 205.19,251.35 205.46,251.18 C205.73,251.01 206.23,251.41 206.63,251.34 Z" fill="#aeaeae" filter="url(#b03)"/>
<circle cx="206.68" cy="251.84" r="0.46" fill="#cfcfcf" filter="url(#b03)"/>
<path d="M215.03,228.26 C215.33,228.26 215.59,228.32 215.79,228.49 C215.99,228.66 216.19,228.99 216.22,229.28 C216.26,229.57 216.19,229.97 215.98,230.24 C215.77,230.50 215.26,230.95 214.96,230.87 C214.66,230.79 214.37,230.15 214.21,229.75 C214.04,229.36 213.83,228.75 213.96,228.50 C214.10,228.25 214.73,228.26 215.03,228.26 Z" fill="#bababa" filter="url(#b03)"/>
<circle cx="215.81" cy="229.65" r="0.52" fill="#cfcfcf" filter="url(#b03)"/>
<path d="M217.42,231.76 C217.15,232.17 216.42,232.33 216.01,232.27 C215.60,232.21 215.23,231.84 214.97,231.40 C214.71,230.97 214.27,230.02 214.46,229.64 C214.65,229.26 215.55,229.08 216.08,229.11 C216.62,229.14 217.44,229.38 217.66,229.82 C217.89,230.26 217.70,231.35 217.42,231.76 Z" fill="#969696" filter="url(#b03)"/>
<circle cx="216.19" cy="230.48" r="0.51" fill="#cfcfcf" filter="url(#b03)"/>
<path d="M215.27,227.58 C215.39,228.03 215.28,228.53 214.97,228.57 C214.65,228.60 213.81,228.17 213.40,227.79 C212.98,227.41 212.36,226.61 212.50,226.29 C212.64,225.98 213.77,225.69 214.23,225.90 C214.69,226.12 215.14,227.14 215.27,227.58 Z" fill="#aeaeae" filter="url(#b03)"/>
<circle cx="214.34" cy="227.59" r="0.58" fill="#cfcfcf" filter="url(#b03)"/>
<path d="M214.99,247.43 C214.80,246.96 214.59,246.52 214.67,246.13 C214.75,245.74 215.11,245.06 215.47,245.09 C215.83,245.11 216.39,245.97 216.85,246.25 C217.31,246.52 217.98,246.42 218.23,246.72 C218.49,247.02 218.50,247.69 218.38,248.05 C218.25,248.41 217.92,248.76 217.49,248.91 C217.07,249.06 216.25,249.19 215.84,248.94 C215.42,248.69 215.19,247.89 214.99,247.43 Z" fill="#bababa" filter="url(#b03)"/>
<circle cx="215.88" cy="247.24" r="0.70" fill="#cfcfcf" filter="url(#b03)"/>
<path d="M217.05,246.78 C217.32,246.72 217.91,246.40 218.02,246.59 C218.13,246.79 217.79,247.51 217.72,247.94 C217.65,248.37 217.79,248.77 217.60,249.17 C217.42,249.58 216.93,250.34 216.59,250.38 C216.25,250.43 215.71,249.86 215.56,249.43 C215.41,248.99 215.56,248.19 215.70,247.78 C215.85,247.36 216.19,247.12 216.42,246.95 C216.64,246.78 216.78,246.84 217.05,246.78 Z" fill="#a2a2a2" filter="url(#b03)"/>
<circle cx="216.41" cy="248.03" r="0.66" fill="#cfcfcf" filter="url(#b03)"/>
<path d="M217.01,246.55 C217.26,246.78 217.40,247.69 217.30,248.18 C217.21,248.66 216.90,249.11 216.44,249.44 C215.97,249.76 214.91,250.43 214.51,250.10 C214.10,249.76 213.80,247.98 214.02,247.43 C214.23,246.87 215.29,246.90 215.79,246.76 C216.29,246.61 216.76,246.31 217.01,246.55 Z" fill="#bababa" filter="url(#b03)"/>
<circle cx="215.91" cy="247.84" r="0.70" fill="#cfcfcf" filter="url(#b03)"/>
<path d="M223.54,253.91 C223.08,253.85 222.51,253.04 222.60,252.61 C222.68,252.18 223.63,251.55 224.04,251.33 C224.46,251.11 224.86,251.02 225.08,251.29 C225.30,251.56 225.60,252.53 225.34,252.96 C225.09,253.40 224.00,253.97 223.54,253.91 Z" fill="#aeaeae" filter="url(#b03)"/>
<circle cx="224.04" cy="252.64" r="0.52" fill="#cfcfcf" filter="url(#b03)"/>
<path d="M222.25,249.98 C222.45,249.83 222.95,249.68 223.18,249.97 C223.41,250.26 223.70,251.30 223.64,251.71 C223.59,252.12 223.16,252.32 222.86,252.44 C222.55,252.55 221.96,252.69 221.81,252.42 C221.67,252.15 221.91,251.24 221.98,250.84 C222.05,250.43 222.05,250.12 222.25,249.98 Z" fill="#a2a2a2" filter="url(#b03)"/>
<circle cx="222.14" cy="250.69" r="0.52" fill="#cfcfcf" filter="url(#b03)"/>
<path d="M224.96,249.46 C225.47,249.64 226.30,249.92 226.35,250.22 C226.39,250.52 225.65,251.03 225.22,251.26 C224.79,251.50 224.23,251.74 223.76,251.63 C223.29,251.52 222.48,251.02 222.40,250.61 C222.31,250.19 222.84,249.33 223.27,249.14 C223.70,248.94 224.45,249.28 224.96,249.46 Z" fill="#bababa" filter="url(#b03)"/>
<circle cx="224.83" cy="250.85" r="0.52" fill="#cfcfcf" filter="url(#b03)"/>
<path d="M225.31,251.77 C225.58,251.40 225.82,250.76 226.21,250.73 C226.61,250.69 227.29,251.16 227.69,251.55 C228.09,251.95 228.82,252.74 228.62,253.08 C228.42,253.42 227.14,253.60 226.48,253.58 C225.82,253.56 224.84,253.27 224.65,252.97 C224.45,252.67 225.05,252.15 225.31,251.77 Z" fill="#a2a2a2" filter="url(#b03)"/>
<circle cx="225.72" cy="252.77" r="0.64" fill="#cfcfcf" filter="url(#b03)"/>
<path d="M229.71,245.69 C229.69,245.99 229.58,246.36 229.43,246.49 C229.28,246.62 228.94,246.64 228.81,246.45 C228.68,246.25 228.51,245.60 228.63,245.31 C228.76,245.02 229.37,244.64 229.55,244.70 C229.73,244.77 229.73,245.39 229.71,245.69 Z" fill="#bababa" filter="url(#b03)"/>
<circle cx="229.29" cy="245.51" r="0.34" fill="#cfcfcf" filter="url(#b03)"/>
<path d="M236.22,243.97 C236.15,243.78 236.14,243.69 236.20,243.41 C236.26,243.13 236.33,242.55 236.59,242.30 C236.85,242.05 237.47,241.89 237.78,241.90 C238.10,241.91 238.46,242.07 238.48,242.36 C238.50,242.66 238.20,243.30 237.89,243.66 C237.59,244.03 236.92,244.50 236.65,244.55 C236.37,244.60 236.30,244.15 236.22,243.97 Z" fill="#aeaeae" filter="url(#b03)"/>
<circle cx="236.39" cy="243.70" r="0.51" fill="#cfcfcf" filter="url(#b03)"/>
<path d="M237.80,243.95 C237.34,243.85 236.82,243.50 236.58,243.25 C236.34,243.00 236.32,242.71 236.34,242.44 C236.37,242.17 236.44,241.67 236.74,241.63 C237.04,241.58 237.80,241.98 238.13,242.18 C238.46,242.37 238.53,242.54 238.73,242.82 C238.92,243.10 239.47,243.65 239.32,243.84 C239.16,244.03 238.26,244.05 237.80,243.95 Z" fill="#a2a2a2" filter="url(#b03)"/>
<circle cx="237.74" cy="243.09" r="0.56" fill="#cfcfcf" filter="url(#b03)"/>
<path d="M239.43,241.13 C239.35,241.58 239.28,241.97 239.06,242.26 C238.84,242.55 238.41,242.88 238.12,242.87 C237.83,242.86 237.36,242.50 237.32,242.18 C237.29,241.86 237.76,241.39 237.93,240.96 C238.11,240.53 238.09,239.85 238.36,239.62 C238.63,239.38 239.38,239.30 239.56,239.55 C239.74,239.80 239.51,240.68 239.43,241.13 Z" fill="#a2a2a2" filter="url(#b03)"/>
<circle cx="239.13" cy="241.80" r="0.56" fill="#cfcfcf" filter="url(#b03)"/>
<path d="M236.08,241.77 C236.54,241.64 237.50,241.53 237.67,241.80 C237.84,242.07 237.28,242.99 237.12,243.40 C236.95,243.82 236.96,243.98 236.67,244.28 C236.39,244.57 235.74,245.23 235.42,245.17 C235.10,245.11 234.85,244.35 234.76,243.92 C234.66,243.49 234.64,242.93 234.86,242.57 C235.08,242.21 235.61,241.90 236.08,241.77 Z" fill="#bababa" filter="url(#b03)"/>
<circle cx="236.06" cy="243.10" r="0.64" fill="#cfcfcf" filter="url(#b03)"/>
<path d="M240.70,245.88 C241.15,245.51 242.65,245.18 243.13,245.44 C243.61,245.69 243.73,246.89 243.59,247.39 C243.44,247.90 242.80,248.41 242.27,248.45 C241.75,248.50 240.72,248.08 240.46,247.66 C240.20,247.23 240.26,246.25 240.70,245.88 Z" fill="#bababa" filter="url(#b03)"/>
<circle cx="242.28" cy="247.14" r="0.60" fill="#cfcfcf" filter="url(#b03)"/>
<path d="M241.37,246.17 C241.22,245.93 241.35,245.62 241.47,245.41 C241.59,245.21 241.83,245.00 242.07,244.92 C242.31,244.84 242.53,244.95 242.93,244.92 C243.33,244.89 244.28,244.61 244.48,244.74 C244.67,244.86 244.23,245.36 244.12,245.66 C244.02,245.97 244.14,246.34 243.85,246.54 C243.55,246.75 242.75,246.94 242.34,246.88 C241.93,246.82 241.51,246.41 241.37,246.17 Z" fill="#bababa" filter="url(#b03)"/>
<circle cx="242.81" cy="245.97" r="0.56" fill="#cfcfcf" filter="url(#b03)"/>
<path d="M241.56,245.93 C241.80,246.30 241.56,247.07 241.57,247.57 C241.58,248.07 241.79,248.75 241.62,248.92 C241.46,249.10 240.97,248.73 240.58,248.64 C240.20,248.55 239.48,248.69 239.30,248.38 C239.12,248.06 239.37,247.27 239.51,246.76 C239.65,246.25 239.79,245.46 240.14,245.32 C240.48,245.18 241.32,245.56 241.56,245.93 Z" fill="#aeaeae" filter="url(#b03)"/>
<circle cx="240.32" cy="247.00" r="0.56" fill="#cfcfcf" filter="url(#b03)"/>
<path d="M242.53,248.26 C242.44,248.02 242.43,247.56 242.53,247.34 C242.63,247.11 242.91,246.98 243.13,246.92 C243.35,246.85 243.58,246.79 243.86,246.95 C244.13,247.11 244.77,247.54 244.79,247.89 C244.81,248.24 244.27,248.92 243.99,249.07 C243.70,249.21 243.32,248.90 243.08,248.76 C242.84,248.63 242.62,248.49 242.53,248.26 Z" fill="#bababa" filter="url(#b03)"/>
<circle cx="242.71" cy="248.33" r="0.54" fill="#cfcfcf" filter="url(#b03)"/>
<path d="M244.00,243.02 C244.16,242.93 244.34,242.83 244.61,242.77 C244.88,242.71 245.38,242.60 245.60,242.66 C245.82,242.72 245.99,242.99 245.92,243.13 C245.85,243.27 245.41,243.41 245.18,243.51 C244.96,243.60 244.83,243.65 244.58,243.71 C244.32,243.76 243.82,243.88 243.67,243.82 C243.51,243.76 243.60,243.50 243.65,243.36 C243.71,243.23 243.84,243.12 244.00,243.02 Z" fill="#bababa" filter="url(#b03)"/>
<circle cx="244.96" cy="243.59" r="0.38" fill="#cfcfcf" filter="url(#b03)"/>
<path d="M245.22,242.55 C245.29,242.82 245.47,243.39 245.37,243.51 C245.28,243.64 244.90,243.41 244.67,243.29 C244.43,243.16 244.13,243.00 243.96,242.74 C243.78,242.48 243.64,241.98 243.64,241.73 C243.64,241.47 243.81,241.31 243.95,241.20 C244.09,241.09 244.31,240.96 244.47,241.07 C244.64,241.18 244.84,241.63 244.96,241.88 C245.09,242.13 245.15,242.28 245.22,242.55 Z" fill="#969696" filter="url(#b03)"/>
<circle cx="244.37" cy="241.97" r="0.41" fill="#cfcfcf" filter="url(#b03)"/>
<path d="M244.96,242.89 C244.72,243.09 244.26,243.63 244.15,243.62 C244.04,243.61 244.30,243.04 244.31,242.84 C244.32,242.64 244.13,242.66 244.20,242.43 C244.27,242.20 244.48,241.67 244.73,241.45 C244.98,241.22 245.57,240.98 245.70,241.07 C245.83,241.15 245.51,241.74 245.49,241.96 C245.47,242.18 245.68,242.24 245.59,242.40 C245.50,242.55 245.20,242.68 244.96,242.89 Z" fill="#bababa" filter="url(#b03)"/>
<circle cx="244.56" cy="242.37" r="0.44" fill="#cfcfcf" filter="url(#b03)"/>
<path d="M244.46,243.25 C244.22,243.56 243.78,244.18 243.44,244.18 C243.11,244.18 242.51,243.64 242.46,243.25 C242.40,242.87 242.83,242.12 243.12,241.88 C243.40,241.64 243.87,241.76 244.17,241.83 C244.46,241.89 244.84,242.05 244.89,242.29 C244.94,242.52 244.71,242.93 244.46,243.25 Z" fill="#bababa" filter="url(#b03)"/>
<circle cx="244.32" cy="242.57" r="0.40" fill="#cfcfcf" filter="url(#b03)"/>
<path d="M239.74,256.72 C239.25,256.38 238.63,255.64 238.83,255.27 C239.04,254.91 240.44,254.44 240.99,254.55 C241.53,254.66 241.97,255.47 242.11,255.93 C242.24,256.40 242.20,257.20 241.80,257.33 C241.41,257.46 240.24,257.06 239.74,256.72 Z" fill="#aeaeae" filter="url(#b03)"/>
<circle cx="241.05" cy="255.97" r="0.54" fill="#cfcfcf" filter="url(#b03)"/>
<path d="M239.67,253.24 C240.04,253.34 239.98,253.99 240.19,254.34 C240.41,254.69 241.03,254.92 240.97,255.34 C240.91,255.77 240.28,256.65 239.83,256.89 C239.38,257.13 238.72,256.99 238.28,256.79 C237.85,256.59 237.30,256.20 237.24,255.68 C237.18,255.17 237.53,254.10 237.93,253.69 C238.34,253.28 239.29,253.13 239.67,253.24 Z" fill="#aeaeae" filter="url(#b03)"/>
<circle cx="239.94" cy="254.62" r="0.63" fill="#cfcfcf" filter="url(#b03)"/>
<path d="M243.21,255.10 C243.46,255.34 243.85,255.56 243.80,255.86 C243.76,256.16 243.27,256.81 242.95,256.91 C242.63,257.02 242.20,256.73 241.88,256.50 C241.57,256.27 240.99,255.87 241.06,255.53 C241.12,255.18 241.91,254.50 242.27,254.43 C242.63,254.36 242.95,254.86 243.21,255.10 Z" fill="#bababa" filter="url(#b03)"/>
<circle cx="242.23" cy="255.38" r="0.48" fill="#cfcfcf" filter="url(#b03)"/>
<path d="M257.30,267.30 C257.05,267.51 256.74,267.85 256.34,267.75 C255.93,267.64 255.06,267.01 254.86,266.68 C254.66,266.35 255.07,266.06 255.13,265.77 C255.19,265.47 254.98,265.03 255.23,264.92 C255.48,264.81 256.20,264.87 256.63,265.12 C257.07,265.38 257.75,266.11 257.86,266.47 C257.97,266.83 257.56,267.08 257.30,267.30 Z" fill="#bababa" filter="url(#b03)"/>
<circle cx="255.88" cy="266.88" r="0.62" fill="#cfcfcf" filter="url(#b03)"/>
<path d="M256.80,266.52 C257.26,266.58 257.67,267.32 257.73,267.67 C257.79,268.02 257.46,268.24 257.18,268.62 C256.91,269.00 256.38,269.95 256.08,269.95 C255.78,269.94 255.58,269.03 255.40,268.58 C255.22,268.14 254.75,267.61 254.99,267.26 C255.22,266.92 256.34,266.45 256.80,266.52 Z" fill="#969696" filter="url(#b03)"/>
<circle cx="256.72" cy="268.41" r="0.52" fill="#cfcfcf" filter="url(#b03)"/>
<path d="M256.19,265.24 C256.27,265.54 255.98,265.99 255.79,266.34 C255.60,266.69 255.40,267.21 255.06,267.33 C254.72,267.44 254.05,267.33 253.74,267.03 C253.43,266.72 253.06,265.87 253.18,265.51 C253.31,265.15 254.11,265.04 254.47,264.88 C254.83,264.72 255.04,264.49 255.33,264.55 C255.62,264.61 256.12,264.95 256.19,265.24 Z" fill="#bababa" filter="url(#b03)"/>
<circle cx="255.30" cy="266.30" r="0.58" fill="#cfcfcf" filter="url(#b03)"/>
<path d="M253.79,263.64 C253.98,264.07 253.49,264.75 253.37,265.13 C253.25,265.50 253.25,265.60 253.07,265.87 C252.89,266.14 252.61,266.74 252.29,266.75 C251.96,266.75 251.40,266.25 251.12,265.91 C250.84,265.57 250.72,265.19 250.61,264.69 C250.49,264.18 250.14,263.24 250.40,262.88 C250.66,262.52 251.62,262.41 252.19,262.54 C252.75,262.66 253.59,263.20 253.79,263.64 Z" fill="#969696" filter="url(#b03)"/>
<circle cx="252.89" cy="264.81" r="0.70" fill="#cfcfcf" filter="url(#b03)"/>
<path d="M252.81,265.21 C252.30,265.44 251.21,265.69 250.97,265.50 C250.72,265.30 251.15,264.42 251.35,264.03 C251.56,263.65 251.80,263.37 252.19,263.17 C252.58,262.98 253.40,262.72 253.70,262.87 C254.00,263.03 254.14,263.71 253.99,264.10 C253.84,264.49 253.31,264.97 252.81,265.21 Z" fill="#a2a2a2" filter="url(#b03)"/>
<circle cx="252.19" cy="263.79" r="0.71" fill="#cfcfcf" filter="url(#b03)"/>
<path d="M162.85,256.66 C162.61,256.73 162.18,256.64 162.10,256.44 C162.02,256.24 162.11,255.66 162.37,255.46 C162.63,255.26 163.47,255.17 163.65,255.26 C163.84,255.35 163.63,255.78 163.49,256.01 C163.36,256.25 163.08,256.59 162.85,256.66 Z" fill="#a2a2a2" filter="url(#b03)"/>
<circle cx="162.77" cy="256.26" r="0.34" fill="#cfcfcf" filter="url(#b03)"/>
<path d="M162.41,255.81 C162.32,255.75 162.49,255.56 162.49,255.41 C162.50,255.26 162.30,255.05 162.43,254.92 C162.57,254.80 163.01,254.75 163.31,254.67 C163.62,254.59 164.09,254.39 164.27,254.43 C164.46,254.48 164.53,254.77 164.43,254.94 C164.32,255.11 163.88,255.31 163.65,255.45 C163.42,255.59 163.25,255.71 163.05,255.77 C162.84,255.83 162.50,255.87 162.41,255.81 Z" fill="#bababa" filter="url(#b03)"/>
<circle cx="162.94" cy="254.96" r="0.36" fill="#cfcfcf" filter="url(#b03)"/>
<path d="M161.79,256.42 C161.69,256.25 161.79,255.98 161.78,255.67 C161.77,255.36 161.60,254.84 161.73,254.58 C161.85,254.32 162.34,254.09 162.51,254.12 C162.68,254.14 162.67,254.51 162.77,254.74 C162.86,254.98 163.14,255.20 163.08,255.51 C163.01,255.83 162.58,256.49 162.37,256.64 C162.16,256.79 161.89,256.58 161.79,256.42 Z" fill="#969696" filter="url(#b03)"/>
<circle cx="161.91" cy="255.12" r="0.41" fill="#cfcfcf" filter="url(#b03)"/>
<path d="M162.11,256.27 C162.29,256.37 162.50,256.68 162.63,256.91 C162.77,257.15 162.95,257.50 162.90,257.66 C162.85,257.82 162.56,257.90 162.32,257.87 C162.08,257.83 161.67,257.64 161.48,257.45 C161.29,257.26 161.35,257.01 161.19,256.73 C161.03,256.46 160.45,255.86 160.52,255.78 C160.58,255.71 161.31,256.21 161.57,256.29 C161.84,256.37 161.94,256.16 162.11,256.27 Z" fill="#a2a2a2" filter="url(#b03)"/>
<circle cx="162.15" cy="256.37" r="0.40" fill="#cfcfcf" filter="url(#b03)"/>
<path d="M167.41,259.47 C167.65,259.18 168.20,258.69 168.44,258.68 C168.67,258.67 168.72,259.14 168.81,259.43 C168.91,259.71 169.19,260.11 169.00,260.38 C168.81,260.65 168.00,261.04 167.67,261.05 C167.34,261.06 167.06,260.69 167.02,260.43 C166.98,260.17 167.17,259.77 167.41,259.47 Z" fill="#969696" filter="url(#b03)"/>
<circle cx="168.14" cy="260.23" r="0.42" fill="#cfcfcf" filter="url(#b03)"/>
<path d="M168.42,257.84 C168.48,257.74 168.85,257.78 169.05,257.75 C169.25,257.71 169.41,257.57 169.63,257.62 C169.85,257.67 170.11,257.86 170.36,258.06 C170.62,258.27 171.17,258.70 171.14,258.85 C171.11,259.01 170.46,259.03 170.17,259.00 C169.88,258.97 169.64,258.77 169.40,258.67 C169.16,258.57 168.88,258.54 168.72,258.40 C168.55,258.26 168.37,257.95 168.42,257.84 Z" fill="#bababa" filter="url(#b03)"/>
<circle cx="169.42" cy="258.00" r="0.45" fill="#cfcfcf" filter="url(#b03)"/>
<path d="M171.93,267.11 C171.50,267.05 170.90,266.74 170.80,266.48 C170.71,266.21 171.10,265.67 171.37,265.51 C171.63,265.35 172.08,265.29 172.42,265.51 C172.75,265.73 173.46,266.56 173.38,266.83 C173.30,267.09 172.36,267.16 171.93,267.11 Z" fill="#bababa" filter="url(#b03)"/>
<circle cx="171.95" cy="266.50" r="0.45" fill="#cfcfcf" filter="url(#b03)"/>
<path d="M172.22,263.18 C172.67,263.39 172.64,264.14 172.48,264.60 C172.32,265.05 171.68,265.85 171.27,265.92 C170.87,265.99 170.29,265.47 170.05,265.03 C169.81,264.59 169.46,263.60 169.82,263.29 C170.18,262.98 171.78,262.96 172.22,263.18 Z" fill="#969696" filter="url(#b03)"/>
<circle cx="170.55" cy="264.79" r="0.63" fill="#cfcfcf" filter="url(#b03)"/>
<path d="M177.65,256.28 C177.59,256.14 177.47,255.78 177.63,255.65 C177.78,255.52 178.26,255.53 178.57,255.51 C178.87,255.49 179.44,255.40 179.45,255.53 C179.46,255.65 178.88,256.07 178.63,256.23 C178.38,256.40 178.14,256.50 177.97,256.51 C177.81,256.52 177.70,256.42 177.65,256.28 Z" fill="#a2a2a2" filter="url(#b03)"/>
<circle cx="178.15" cy="255.64" r="0.37" fill="#cfcfcf" filter="url(#b03)"/>
<path d="M177.31,257.24 C177.15,257.28 176.95,257.24 176.79,257.16 C176.64,257.08 176.53,256.94 176.38,256.76 C176.23,256.58 175.93,256.30 175.90,256.07 C175.87,255.83 176.00,255.46 176.20,255.32 C176.39,255.18 176.81,255.09 177.06,255.22 C177.32,255.34 177.61,255.79 177.73,256.07 C177.84,256.35 177.83,256.70 177.77,256.89 C177.70,257.09 177.48,257.20 177.31,257.24 Z" fill="#969696" filter="url(#b03)"/>
<circle cx="176.60" cy="256.86" r="0.39" fill="#cfcfcf" filter="url(#b03)"/>
<path d="M180.15,255.35 C180.36,255.57 180.54,255.98 180.59,256.26 C180.64,256.53 180.58,256.82 180.47,256.98 C180.36,257.15 180.16,257.25 179.93,257.25 C179.70,257.26 179.33,257.22 179.10,257.01 C178.87,256.80 178.57,256.25 178.56,256.00 C178.55,255.74 178.90,255.66 179.03,255.48 C179.16,255.31 179.17,254.95 179.36,254.93 C179.55,254.91 179.95,255.13 180.15,255.35 Z" fill="#a2a2a2" filter="url(#b03)"/>
<circle cx="179.57" cy="256.00" r="0.44" fill="#cfcfcf" filter="url(#b03)"/>
<path d="M179.68,256.35 C179.92,256.59 179.85,257.18 179.62,257.40 C179.40,257.61 178.72,257.72 178.34,257.62 C177.95,257.51 177.35,257.07 177.33,256.79 C177.31,256.51 177.83,256.02 178.22,255.95 C178.62,255.87 179.45,256.11 179.68,256.35 Z" fill="#bababa" filter="url(#b03)"/>
<circle cx="178.47" cy="257.12" r="0.38" fill="#cfcfcf" filter="url(#b03)"/>
<path d="M187.98,264.97 C187.71,265.05 187.31,264.73 187.25,264.53 C187.19,264.34 187.49,264.02 187.60,263.78 C187.71,263.55 187.68,263.29 187.89,263.12 C188.09,262.94 188.59,262.73 188.83,262.72 C189.07,262.71 189.16,262.94 189.33,263.07 C189.50,263.20 189.93,263.34 189.85,263.50 C189.77,263.66 189.16,263.79 188.85,264.04 C188.54,264.28 188.25,264.88 187.98,264.97 Z" fill="#a2a2a2" filter="url(#b03)"/>
<circle cx="188.30" cy="263.35" r="0.45" fill="#cfcfcf" filter="url(#b03)"/>
<path d="M187.98,262.94 C187.81,262.65 187.40,262.13 187.65,261.96 C187.90,261.79 189.11,261.74 189.49,261.92 C189.87,262.10 190.06,262.77 189.92,263.06 C189.78,263.35 188.98,263.70 188.66,263.68 C188.34,263.66 188.15,263.22 187.98,262.94 Z" fill="#bababa" filter="url(#b03)"/>
<circle cx="188.84" cy="262.79" r="0.39" fill="#cfcfcf" filter="url(#b03)"/>
<path d="M188.04,264.14 C188.47,264.05 189.24,263.98 189.46,264.16 C189.69,264.35 189.56,265.08 189.39,265.26 C189.21,265.44 188.82,265.34 188.40,265.25 C187.99,265.15 186.95,264.87 186.89,264.69 C186.83,264.50 187.61,264.22 188.04,264.14 Z" fill="#a2a2a2" filter="url(#b03)"/>
<circle cx="188.63" cy="264.46" r="0.42" fill="#cfcfcf" filter="url(#b03)"/>
<path d="M191.65,258.00 C191.91,257.52 193.06,257.40 193.66,257.40 C194.26,257.41 195.07,257.62 195.23,258.06 C195.38,258.49 195.12,259.63 194.60,260.01 C194.07,260.39 192.59,260.65 192.10,260.32 C191.60,259.98 191.39,258.49 191.65,258.00 Z" fill="#bababa" filter="url(#b03)"/>
<circle cx="193.46" cy="258.69" r="0.62" fill="#cfcfcf" filter="url(#b03)"/>
<path d="M194.63,257.21 C194.72,257.35 194.02,257.65 193.79,257.89 C193.57,258.13 193.58,258.57 193.28,258.65 C192.99,258.72 192.34,258.47 192.03,258.32 C191.71,258.17 191.37,257.95 191.38,257.74 C191.39,257.54 191.77,257.22 192.08,257.11 C192.39,257.00 192.82,257.06 193.24,257.08 C193.67,257.10 194.54,257.07 194.63,257.21 Z" fill="#a2a2a2" filter="url(#b03)"/>
<circle cx="192.84" cy="257.17" r="0.48" fill="#cfcfcf" filter="url(#b03)"/>
<path d="M193.04,257.88 C192.91,258.15 192.74,258.39 192.52,258.52 C192.30,258.65 191.92,258.82 191.73,258.65 C191.54,258.49 191.37,257.87 191.41,257.54 C191.44,257.22 191.78,256.92 191.94,256.69 C192.10,256.46 192.16,256.27 192.35,256.15 C192.54,256.02 192.90,255.79 193.06,255.92 C193.22,256.05 193.32,256.61 193.32,256.94 C193.32,257.26 193.17,257.62 193.04,257.88 Z" fill="#969696" filter="url(#b03)"/>
<circle cx="192.18" cy="257.46" r="0.47" fill="#cfcfcf" filter="url(#b03)"/>
<path d="M200.63,267.29 C200.85,266.86 201.33,266.18 201.58,266.13 C201.84,266.09 202.21,266.70 202.19,267.04 C202.16,267.38 201.75,267.87 201.43,268.15 C201.11,268.43 200.40,268.88 200.27,268.74 C200.13,268.59 200.41,267.72 200.63,267.29 Z" fill="#bababa" filter="url(#b03)"/>
<circle cx="200.90" cy="267.18" r="0.46" fill="#cfcfcf" filter="url(#b03)"/>
<path d="M201.76,265.21 C201.87,265.41 201.73,266.08 201.60,266.50 C201.47,266.91 201.14,267.68 201.00,267.69 C200.86,267.69 200.76,266.95 200.75,266.55 C200.75,266.15 200.79,265.51 200.96,265.29 C201.13,265.06 201.65,265.00 201.76,265.21 Z" fill="#aeaeae" filter="url(#b03)"/>
<circle cx="201.05" cy="266.38" r="0.39" fill="#cfcfcf" filter="url(#b03)"/>
<path d="M209.54,264.56 C209.20,264.71 208.83,264.40 208.39,264.39 C207.95,264.38 206.97,264.65 206.90,264.49 C206.83,264.33 207.63,263.75 207.98,263.41 C208.33,263.07 208.60,262.63 209.00,262.48 C209.40,262.33 210.16,262.34 210.39,262.51 C210.63,262.68 210.54,263.16 210.40,263.50 C210.26,263.85 209.87,264.41 209.54,264.56 Z" fill="#bababa" filter="url(#b03)"/>
<circle cx="208.95" cy="263.40" r="0.54" fill="#cfcfcf" filter="url(#b03)"/>
<path d="M208.37,262.74 C208.35,263.23 208.21,263.85 207.98,264.23 C207.75,264.60 207.27,265.03 207.00,264.99 C206.73,264.96 206.53,264.33 206.37,264.02 C206.20,263.71 206.00,263.44 206.01,263.12 C206.01,262.80 206.23,262.37 206.40,262.09 C206.58,261.81 206.78,261.59 207.06,261.45 C207.34,261.32 207.87,261.06 208.09,261.27 C208.30,261.49 208.38,262.24 208.37,262.74 Z" fill="#bababa" filter="url(#b03)"/>
<circle cx="207.45" cy="262.47" r="0.58" fill="#cfcfcf" filter="url(#b03)"/>
<path d="M209.72,264.62 C209.55,264.93 209.18,265.41 208.87,265.49 C208.57,265.56 208.01,265.26 207.89,265.10 C207.77,264.93 207.81,264.74 208.14,264.49 C208.48,264.24 209.63,263.59 209.89,263.61 C210.15,263.63 209.89,264.31 209.72,264.62 Z" fill="#bababa" filter="url(#b03)"/>
<circle cx="208.92" cy="264.33" r="0.56" fill="#cfcfcf" filter="url(#b03)"/>
<path d="M217.32,260.74 C217.18,261.00 216.63,260.82 216.37,260.78 C216.11,260.75 215.80,260.78 215.75,260.53 C215.70,260.29 215.88,259.68 216.05,259.31 C216.23,258.94 216.59,258.32 216.79,258.31 C216.99,258.29 217.17,258.80 217.26,259.21 C217.34,259.61 217.47,260.48 217.32,260.74 Z" fill="#aeaeae" filter="url(#b03)"/>
<circle cx="216.47" cy="259.81" r="0.50" fill="#cfcfcf" filter="url(#b03)"/>
<path d="M216.63,258.51 C216.74,258.79 216.85,258.95 216.87,259.22 C216.88,259.48 216.86,259.88 216.72,260.09 C216.59,260.30 216.27,260.61 216.06,260.48 C215.85,260.36 215.50,259.69 215.46,259.34 C215.42,258.98 215.71,258.67 215.83,258.36 C215.95,258.06 216.05,257.49 216.19,257.51 C216.32,257.54 216.52,258.22 216.63,258.51 Z" fill="#969696" filter="url(#b03)"/>
<circle cx="216.68" cy="258.94" r="0.43" fill="#cfcfcf" filter="url(#b03)"/>
<path d="M224.65,262.71 C224.82,262.83 225.00,263.56 224.91,263.83 C224.83,264.09 224.43,264.24 224.16,264.31 C223.90,264.38 223.38,264.46 223.33,264.26 C223.29,264.07 223.67,263.40 223.89,263.14 C224.11,262.88 224.48,262.60 224.65,262.71 Z" fill="#969696" filter="url(#b03)"/>
<circle cx="224.36" cy="263.62" r="0.37" fill="#cfcfcf" filter="url(#b03)"/>
<path d="M230.15,265.77 C230.40,265.62 231.24,265.79 231.44,266.17 C231.64,266.55 231.44,267.52 231.36,268.03 C231.28,268.54 231.24,269.12 230.97,269.23 C230.70,269.35 229.93,269.06 229.76,268.71 C229.60,268.35 229.90,267.59 229.97,267.10 C230.03,266.62 229.91,265.93 230.15,265.77 Z" fill="#bababa" filter="url(#b03)"/>
<circle cx="231.03" cy="268.13" r="0.59" fill="#cfcfcf" filter="url(#b03)"/>
<path d="M230.80,269.58 C230.58,269.72 230.31,270.21 230.14,270.08 C229.97,269.94 229.76,269.21 229.79,268.75 C229.81,268.30 230.09,267.61 230.29,267.34 C230.48,267.07 230.79,267.02 230.96,267.12 C231.13,267.23 231.20,267.61 231.29,267.97 C231.38,268.33 231.60,269.00 231.52,269.27 C231.43,269.54 231.03,269.45 230.80,269.58 Z" fill="#bababa" filter="url(#b03)"/>
<circle cx="230.46" cy="268.58" r="0.53" fill="#cfcfcf" filter="url(#b03)"/>
<path d="M229.72,266.79 C229.58,266.37 229.55,265.87 229.76,265.82 C229.96,265.77 230.45,266.19 230.94,266.51 C231.44,266.82 232.58,267.38 232.75,267.71 C232.92,268.05 232.33,268.41 231.97,268.51 C231.62,268.62 231.00,268.63 230.62,268.34 C230.25,268.05 229.86,267.21 229.72,266.79 Z" fill="#a2a2a2" filter="url(#b03)"/>
<circle cx="231.21" cy="267.11" r="0.67" fill="#cfcfcf" filter="url(#b03)"/>
<path d="M227.61,274.23 C227.59,274.41 227.18,274.44 226.92,274.40 C226.66,274.35 226.16,274.15 226.04,273.98 C225.92,273.81 226.03,273.47 226.20,273.36 C226.37,273.25 226.81,273.15 227.05,273.30 C227.28,273.44 227.63,274.05 227.61,274.23 Z" fill="#bababa" filter="url(#b03)"/>
<circle cx="227.03" cy="274.16" r="0.34" fill="#cfcfcf" filter="url(#b03)"/>
<path d="M244.83,276.61 C244.99,277.13 244.75,278.44 244.47,278.85 C244.20,279.27 243.49,279.22 243.18,279.11 C242.86,279.01 242.77,278.63 242.61,278.22 C242.45,277.80 242.08,277.03 242.23,276.62 C242.38,276.21 243.08,275.76 243.51,275.75 C243.94,275.75 244.67,276.09 244.83,276.61 Z" fill="#a2a2a2" filter="url(#b03)"/>
<circle cx="243.74" cy="278.00" r="0.59" fill="#cfcfcf" filter="url(#b03)"/>
<path d="M244.66,279.26 C244.45,279.37 244.06,278.86 243.68,278.66 C243.30,278.47 242.54,278.47 242.39,278.08 C242.24,277.69 242.48,276.55 242.77,276.32 C243.07,276.09 243.80,276.58 244.16,276.70 C244.51,276.83 244.78,276.83 244.91,277.05 C245.04,277.26 244.98,277.63 244.94,278.00 C244.89,278.37 244.87,279.15 244.66,279.26 Z" fill="#a2a2a2" filter="url(#b03)"/>
<circle cx="243.55" cy="277.22" r="0.53" fill="#cfcfcf" filter="url(#b03)"/>
<path d="M244.13,278.53 C244.32,278.77 244.50,279.16 244.30,279.32 C244.11,279.49 243.49,279.63 242.96,279.54 C242.43,279.44 241.52,279.06 241.10,278.74 C240.68,278.42 240.34,277.87 240.43,277.62 C240.52,277.37 241.20,277.20 241.66,277.24 C242.11,277.29 242.75,277.67 243.16,277.88 C243.57,278.10 243.94,278.29 244.13,278.53 Z" fill="#a2a2a2" filter="url(#b03)"/>
<circle cx="242.40" cy="278.07" r="0.62" fill="#cfcfcf" filter="url(#b03)"/>
<path d="M246.51,280.24 C246.66,280.26 246.42,280.83 246.49,281.01 C246.57,281.18 247.02,281.11 246.97,281.31 C246.92,281.51 246.48,281.96 246.20,282.18 C245.92,282.40 245.49,282.64 245.32,282.63 C245.15,282.62 245.24,282.27 245.16,282.12 C245.08,281.97 244.78,281.94 244.84,281.74 C244.91,281.53 245.28,281.16 245.55,280.91 C245.83,280.66 246.35,280.23 246.51,280.24 Z" fill="#bababa" filter="url(#b03)"/>
<circle cx="245.78" cy="281.63" r="0.48" fill="#cfcfcf" filter="url(#b03)"/>
<path d="M246.48,279.34 C246.81,279.29 247.10,279.16 247.39,279.29 C247.67,279.42 248.14,279.84 248.19,280.13 C248.23,280.43 247.92,280.95 247.67,281.08 C247.42,281.21 246.98,281.00 246.67,280.93 C246.35,280.85 245.99,280.84 245.79,280.62 C245.58,280.39 245.32,279.79 245.43,279.58 C245.55,279.36 246.15,279.38 246.48,279.34 Z" fill="#a2a2a2" filter="url(#b03)"/>
<circle cx="246.77" cy="279.94" r="0.39" fill="#cfcfcf" filter="url(#b03)"/>
<path d="M245.90,281.54 C245.43,281.63 244.39,281.92 244.27,281.80 C244.16,281.68 244.87,281.06 245.19,280.83 C245.52,280.60 245.94,280.48 246.25,280.44 C246.55,280.41 246.89,280.48 247.03,280.62 C247.17,280.76 247.26,281.12 247.07,281.27 C246.88,281.43 246.36,281.45 245.90,281.54 Z" fill="#aeaeae" filter="url(#b03)"/>
<circle cx="245.60" cy="280.51" r="0.51" fill="#cfcfcf" filter="url(#b03)"/>
<path d="M178.18,278.55 C178.65,278.39 179.16,277.97 179.49,277.97 C179.81,277.97 180.21,278.29 180.14,278.54 C180.07,278.78 179.48,279.20 179.07,279.44 C178.66,279.68 178.13,279.93 177.70,280.00 C177.26,280.06 176.65,280.03 176.47,279.84 C176.30,279.66 176.37,279.13 176.65,278.91 C176.93,278.69 177.71,278.70 178.18,278.55 Z" fill="#a2a2a2" filter="url(#b03)"/>
<circle cx="177.72" cy="278.52" r="0.49" fill="#cfcfcf" filter="url(#b03)"/>
<path d="M180.06,281.97 C179.73,282.04 179.31,281.37 179.07,281.08 C178.82,280.80 178.66,280.59 178.58,280.25 C178.50,279.91 178.47,279.32 178.60,279.03 C178.74,278.75 179.04,278.62 179.39,278.54 C179.73,278.47 180.40,278.22 180.67,278.56 C180.94,278.91 181.11,280.07 181.01,280.64 C180.91,281.20 180.38,281.89 180.06,281.97 Z" fill="#bababa" filter="url(#b03)"/>
<circle cx="179.56" cy="279.81" r="0.59" fill="#cfcfcf" filter="url(#b03)"/>
<path d="M178.54,278.58 C178.30,278.95 177.89,279.44 177.66,279.32 C177.43,279.20 177.16,278.31 177.16,277.84 C177.15,277.37 177.44,276.70 177.62,276.50 C177.81,276.30 178.00,276.53 178.26,276.63 C178.51,276.73 179.09,276.75 179.14,277.08 C179.19,277.40 178.79,278.20 178.54,278.58 Z" fill="#a2a2a2" filter="url(#b03)"/>
<circle cx="178.62" cy="277.88" r="0.51" fill="#cfcfcf" filter="url(#b03)"/>
<path d="M183.77,282.53 C183.64,282.46 183.89,281.88 183.95,281.67 C184.01,281.45 184.03,281.39 184.13,281.23 C184.23,281.07 184.38,280.74 184.54,280.70 C184.70,280.67 184.95,280.91 185.08,281.03 C185.21,281.15 185.28,281.26 185.30,281.40 C185.32,281.54 185.32,281.74 185.22,281.86 C185.12,281.98 184.96,282.02 184.72,282.13 C184.47,282.24 183.90,282.61 183.77,282.53 Z" fill="#bababa" filter="url(#b03)"/>
<circle cx="184.28" cy="281.74" r="0.35" fill="#cfcfcf" filter="url(#b03)"/>
<path d="M191.04,283.89 C191.00,284.21 190.86,284.76 190.46,285.00 C190.05,285.24 189.00,285.43 188.61,285.32 C188.22,285.21 188.02,284.65 188.12,284.33 C188.21,284.00 188.76,283.58 189.19,283.36 C189.62,283.15 190.39,282.95 190.70,283.04 C191.01,283.12 191.08,283.56 191.04,283.89 Z" fill="#bababa" filter="url(#b03)"/>
<circle cx="189.32" cy="284.36" r="0.51" fill="#cfcfcf" filter="url(#b03)"/>
<path d="M189.58,284.99 C189.49,285.54 189.28,286.08 189.00,286.23 C188.73,286.39 188.06,286.25 187.93,285.91 C187.81,285.57 187.99,284.68 188.26,284.19 C188.52,283.69 189.32,282.82 189.54,282.95 C189.76,283.09 189.67,284.44 189.58,284.99 Z" fill="#aeaeae" filter="url(#b03)"/>
<circle cx="188.68" cy="285.43" r="0.54" fill="#cfcfcf" filter="url(#b03)"/>
<path d="M187.73,285.24 C187.97,285.19 188.43,285.12 188.78,285.20 C189.14,285.28 189.82,285.57 189.87,285.74 C189.93,285.92 189.43,286.16 189.12,286.23 C188.80,286.31 188.38,286.23 187.99,286.19 C187.59,286.14 186.85,286.07 186.74,285.96 C186.64,285.84 187.19,285.62 187.36,285.50 C187.53,285.38 187.50,285.29 187.73,285.24 Z" fill="#bababa" filter="url(#b03)"/>
<circle cx="188.23" cy="285.60" r="0.45" fill="#cfcfcf" filter="url(#b03)"/>
<path d="M192.34,289.69 C192.14,289.24 192.45,288.75 192.55,288.42 C192.65,288.10 192.69,287.84 192.96,287.74 C193.23,287.65 193.78,287.55 194.16,287.86 C194.53,288.17 195.18,289.23 195.21,289.61 C195.23,289.99 194.56,289.90 194.32,290.15 C194.07,290.40 194.07,291.20 193.74,291.12 C193.41,291.04 192.54,290.14 192.34,289.69 Z" fill="#aeaeae" filter="url(#b03)"/>
<circle cx="193.52" cy="289.12" r="0.59" fill="#cfcfcf" filter="url(#b03)"/>
<path d="M193.83,289.16 C193.94,289.43 193.42,289.54 193.21,289.77 C193.00,290.01 193.02,290.59 192.59,290.58 C192.16,290.58 190.88,290.05 190.63,289.75 C190.38,289.46 191.02,289.10 191.10,288.83 C191.18,288.56 190.88,288.24 191.12,288.12 C191.37,288.00 192.10,287.95 192.56,288.12 C193.01,288.29 193.72,288.88 193.83,289.16 Z" fill="#aeaeae" filter="url(#b03)"/>
<circle cx="191.55" cy="288.92" r="0.61" fill="#cfcfcf" filter="url(#b03)"/>
<path d="M194.99,291.16 C195.06,291.63 195.31,291.92 195.29,292.24 C195.27,292.57 195.12,293.03 194.88,293.09 C194.65,293.16 194.17,292.96 193.88,292.63 C193.59,292.31 193.19,291.54 193.15,291.15 C193.10,290.77 193.47,290.56 193.60,290.32 C193.73,290.09 193.72,289.91 193.93,289.75 C194.14,289.60 194.70,289.15 194.88,289.38 C195.05,289.61 194.92,290.68 194.99,291.16 Z" fill="#bababa" filter="url(#b03)"/>
<circle cx="194.69" cy="290.44" r="0.65" fill="#cfcfcf" filter="url(#b03)"/>
<path d="M193.82,287.06 C194.20,287.39 194.74,289.31 194.57,289.87 C194.41,290.43 193.29,290.48 192.83,290.43 C192.36,290.37 191.88,289.96 191.79,289.54 C191.70,289.11 191.95,288.31 192.29,287.90 C192.63,287.49 193.44,286.73 193.82,287.06 Z" fill="#a2a2a2" filter="url(#b03)"/>
<circle cx="192.32" cy="288.54" r="0.70" fill="#cfcfcf" filter="url(#b03)"/>
<path d="M198.27,286.86 C198.13,286.96 197.49,286.96 197.24,286.93 C197.00,286.89 196.81,286.77 196.80,286.68 C196.79,286.59 196.99,286.44 197.19,286.39 C197.40,286.33 197.85,286.27 198.03,286.35 C198.21,286.43 198.40,286.77 198.27,286.86 Z" fill="#aeaeae" filter="url(#b03)"/>
<circle cx="197.68" cy="286.56" r="0.29" fill="#cfcfcf" filter="url(#b03)"/>
<path d="M209.59,275.98 C209.75,276.28 209.73,276.57 209.73,276.91 C209.74,277.24 209.84,277.88 209.62,278.00 C209.40,278.12 208.74,277.92 208.42,277.64 C208.10,277.37 207.82,276.80 207.67,276.35 C207.52,275.90 207.36,275.15 207.54,274.94 C207.72,274.74 208.40,274.93 208.74,275.11 C209.08,275.28 209.42,275.68 209.59,275.98 Z" fill="#aeaeae" filter="url(#b03)"/>
<circle cx="209.13" cy="276.75" r="0.52" fill="#cfcfcf" filter="url(#b03)"/>
<path d="M209.42,275.68 C209.34,276.13 208.57,276.72 208.06,276.66 C207.54,276.61 206.62,275.81 206.36,275.34 C206.09,274.88 206.10,274.09 206.46,273.85 C206.82,273.62 208.01,273.64 208.51,273.94 C209.00,274.25 209.50,275.22 209.42,275.68 Z" fill="#bababa" filter="url(#b03)"/>
<circle cx="207.17" cy="274.84" r="0.50" fill="#cfcfcf" filter="url(#b03)"/>
<path d="M211.50,277.83 C211.59,278.37 211.72,279.39 211.49,279.50 C211.26,279.62 210.34,278.89 210.10,278.53 C209.85,278.17 209.88,277.71 210.03,277.34 C210.17,276.96 210.72,276.18 210.96,276.27 C211.21,276.35 211.41,277.29 211.50,277.83 Z" fill="#a2a2a2" filter="url(#b03)"/>
<circle cx="210.80" cy="277.78" r="0.49" fill="#cfcfcf" filter="url(#b03)"/>
<path d="M210.01,275.79 C210.29,276.24 210.76,277.36 210.62,277.58 C210.49,277.80 209.66,277.41 209.19,277.13 C208.73,276.84 207.88,276.26 207.84,275.88 C207.79,275.51 208.56,274.89 208.92,274.87 C209.29,274.86 209.73,275.34 210.01,275.79 Z" fill="#aeaeae" filter="url(#b03)"/>
<circle cx="208.86" cy="275.65" r="0.54" fill="#cfcfcf" filter="url(#b03)"/>
<path d="M210.85,282.36 C210.58,282.07 210.51,281.57 210.62,281.21 C210.73,280.85 211.21,280.20 211.51,280.20 C211.80,280.20 212.28,280.73 212.40,281.19 C212.52,281.66 212.51,282.79 212.25,282.98 C211.99,283.18 211.12,282.66 210.85,282.36 Z" fill="#bababa" filter="url(#b03)"/>
<circle cx="211.23" cy="281.35" r="0.44" fill="#cfcfcf" filter="url(#b03)"/>
<path d="M211.04,283.44 C210.89,283.32 210.75,282.94 210.64,282.68 C210.53,282.41 210.34,282.07 210.35,281.84 C210.36,281.61 210.54,281.23 210.70,281.29 C210.86,281.34 211.10,281.88 211.29,282.15 C211.48,282.43 211.82,282.72 211.86,282.92 C211.89,283.13 211.64,283.28 211.50,283.37 C211.37,283.45 211.18,283.56 211.04,283.44 Z" fill="#969696" filter="url(#b03)"/>
<circle cx="211.29" cy="282.43" r="0.39" fill="#cfcfcf" filter="url(#b03)"/>
<path d="M211.53,279.80 C211.63,279.91 211.46,280.52 211.47,280.83 C211.48,281.15 211.67,281.58 211.59,281.68 C211.50,281.79 211.17,281.54 210.99,281.45 C210.81,281.36 210.60,281.32 210.52,281.15 C210.45,280.99 210.47,280.62 210.53,280.46 C210.59,280.29 210.71,280.27 210.88,280.16 C211.04,280.05 211.43,279.68 211.53,279.80 Z" fill="#bababa" filter="url(#b03)"/>
<circle cx="210.81" cy="281.11" r="0.34" fill="#cfcfcf" filter="url(#b03)"/>
<path d="M216.21,295.29 C216.05,295.13 215.95,294.79 215.89,294.48 C215.83,294.17 215.74,293.71 215.84,293.43 C215.95,293.14 216.26,292.82 216.53,292.78 C216.79,292.75 217.31,292.93 217.43,293.23 C217.56,293.53 217.39,294.22 217.30,294.59 C217.20,294.95 217.07,295.30 216.89,295.41 C216.71,295.53 216.38,295.44 216.21,295.29 Z" fill="#aeaeae" filter="url(#b03)"/>
<circle cx="216.88" cy="294.00" r="0.43" fill="#cfcfcf" filter="url(#b03)"/>
<path d="M216.02,292.78 C216.32,292.79 216.88,292.86 217.04,293.16 C217.21,293.46 217.26,294.29 217.01,294.56 C216.76,294.82 215.83,294.98 215.55,294.74 C215.26,294.50 215.21,293.44 215.29,293.11 C215.37,292.78 215.73,292.77 216.02,292.78 Z" fill="#969696" filter="url(#b03)"/>
<circle cx="216.46" cy="293.07" r="0.43" fill="#cfcfcf" filter="url(#b03)"/>
<path d="M215.88,295.28 C215.94,294.93 216.25,294.44 216.62,294.28 C216.99,294.11 217.78,293.99 218.11,294.30 C218.43,294.60 218.74,295.74 218.58,296.10 C218.43,296.47 217.56,296.45 217.17,296.49 C216.79,296.54 216.48,296.59 216.27,296.39 C216.05,296.18 215.82,295.64 215.88,295.28 Z" fill="#bababa" filter="url(#b03)"/>
<circle cx="216.78" cy="295.35" r="0.54" fill="#cfcfcf" filter="url(#b03)"/>
<path d="M225.61,288.15 C225.79,288.53 226.34,289.09 226.13,289.27 C225.93,289.45 224.90,289.42 224.38,289.23 C223.87,289.03 223.33,288.42 223.05,288.09 C222.77,287.77 222.61,287.45 222.69,287.28 C222.76,287.11 223.12,287.12 223.51,287.08 C223.91,287.03 224.69,286.82 225.04,287.00 C225.39,287.18 225.43,287.77 225.61,288.15 Z" fill="#969696" filter="url(#b03)"/>
<circle cx="224.85" cy="287.99" r="0.67" fill="#cfcfcf" filter="url(#b03)"/>
<path d="M226.69,288.32 C226.82,288.88 226.73,289.54 226.49,290.13 C226.24,290.72 225.57,291.83 225.20,291.86 C224.83,291.88 224.39,290.85 224.25,290.28 C224.12,289.70 224.13,288.97 224.38,288.39 C224.63,287.80 225.36,286.80 225.75,286.79 C226.14,286.78 226.57,287.77 226.69,288.32 Z" fill="#a2a2a2" filter="url(#b03)"/>
<circle cx="224.81" cy="289.05" r="0.63" fill="#cfcfcf" filter="url(#b03)"/>
<path d="M239.55,288.50 C239.71,288.51 239.97,288.61 240.10,288.75 C240.23,288.89 240.37,289.20 240.34,289.36 C240.31,289.51 240.05,289.60 239.89,289.70 C239.74,289.81 239.55,290.01 239.42,289.97 C239.29,289.93 239.22,289.61 239.11,289.45 C239.01,289.30 238.80,289.17 238.80,289.04 C238.80,288.92 238.99,288.79 239.11,288.70 C239.24,288.61 239.38,288.50 239.55,288.50 Z" fill="#bababa" filter="url(#b03)"/>
<circle cx="239.36" cy="288.98" r="0.29" fill="#cfcfcf" filter="url(#b03)"/>
<path d="M237.36,296.61 C236.97,296.51 236.37,296.17 236.38,295.78 C236.40,295.39 236.98,294.52 237.44,294.29 C237.90,294.07 238.75,294.23 239.15,294.41 C239.54,294.59 239.88,295.05 239.81,295.37 C239.74,295.70 239.11,296.15 238.70,296.36 C238.30,296.57 237.74,296.71 237.36,296.61 Z" fill="#bababa" filter="url(#b03)"/>
<circle cx="238.38" cy="295.89" r="0.58" fill="#cfcfcf" filter="url(#b03)"/>
<path d="M238.16,295.92 C237.83,295.96 237.43,296.05 237.19,295.87 C236.96,295.69 236.87,295.22 236.75,294.84 C236.62,294.47 236.24,293.68 236.43,293.61 C236.62,293.54 237.41,294.08 237.88,294.42 C238.34,294.76 239.16,295.40 239.21,295.65 C239.26,295.90 238.50,295.88 238.16,295.92 Z" fill="#a2a2a2" filter="url(#b03)"/>
<circle cx="237.52" cy="295.57" r="0.55" fill="#cfcfcf" filter="url(#b03)"/>
<path d="M235.78,296.54 C235.50,296.27 235.47,295.70 235.61,295.36 C235.76,295.03 236.21,294.73 236.66,294.53 C237.11,294.32 237.80,294.02 238.31,294.11 C238.82,294.21 239.59,294.68 239.72,295.10 C239.86,295.52 239.54,296.32 239.13,296.63 C238.72,296.95 237.82,296.99 237.26,296.97 C236.70,296.96 236.05,296.81 235.78,296.54 Z" fill="#a2a2a2" filter="url(#b03)"/>
<circle cx="237.33" cy="295.63" r="0.60" fill="#cfcfcf" filter="url(#b03)"/>
<path d="M238.50,295.13 C238.07,294.80 237.18,293.70 237.32,293.37 C237.46,293.04 238.77,293.00 239.34,293.17 C239.91,293.33 240.65,293.98 240.74,294.35 C240.84,294.71 240.27,295.22 239.90,295.35 C239.52,295.48 238.93,295.46 238.50,295.13 Z" fill="#aeaeae" filter="url(#b03)"/>
<circle cx="239.57" cy="294.11" r="0.54" fill="#cfcfcf" filter="url(#b03)"/>
<path d="M238.10,299.17 C238.03,299.56 237.55,299.72 237.23,299.69 C236.91,299.65 236.37,299.39 236.15,298.98 C235.94,298.57 235.87,297.64 235.95,297.21 C236.03,296.78 236.34,296.39 236.62,296.41 C236.90,296.43 237.39,296.88 237.64,297.34 C237.88,297.80 238.16,298.78 238.10,299.17 Z" fill="#bababa" filter="url(#b03)"/>
<circle cx="237.01" cy="298.23" r="0.53" fill="#cfcfcf" filter="url(#b03)"/>
<path d="M237.23,298.27 C237.71,298.02 238.14,297.76 238.45,297.83 C238.76,297.91 239.27,298.30 239.10,298.71 C238.92,299.12 237.96,299.97 237.41,300.29 C236.86,300.61 236.10,300.78 235.80,300.63 C235.49,300.48 235.33,299.76 235.57,299.37 C235.81,298.97 236.75,298.53 237.23,298.27 Z" fill="#a2a2a2" filter="url(#b03)"/>
<circle cx="237.29" cy="299.42" r="0.60" fill="#cfcfcf" filter="url(#b03)"/>
<path d="M181.94,294.67 C181.96,294.90 181.42,295.14 181.11,295.13 C180.79,295.12 180.25,294.93 180.03,294.62 C179.82,294.30 179.66,293.39 179.81,293.24 C179.97,293.09 180.62,293.50 180.97,293.74 C181.33,293.98 181.92,294.44 181.94,294.67 Z" fill="#aeaeae" filter="url(#b03)"/>
<circle cx="181.18" cy="294.29" r="0.40" fill="#cfcfcf" filter="url(#b03)"/>
<path d="M183.12,294.72 C183.19,294.86 182.71,295.04 182.50,295.09 C182.29,295.14 182.09,295.09 181.86,295.00 C181.63,294.92 181.21,294.75 181.11,294.60 C181.02,294.45 181.12,294.15 181.28,294.10 C181.44,294.04 181.76,294.15 182.07,294.25 C182.38,294.36 183.05,294.58 183.12,294.72 Z" fill="#aeaeae" filter="url(#b03)"/>
<circle cx="182.03" cy="294.47" r="0.34" fill="#cfcfcf" filter="url(#b03)"/>
<path d="M180.24,296.30 C180.14,296.23 180.12,295.98 180.05,295.80 C179.98,295.62 179.82,295.50 179.81,295.23 C179.80,294.95 179.85,294.32 179.97,294.14 C180.10,293.96 180.37,294.07 180.55,294.12 C180.72,294.18 180.91,294.25 181.00,294.48 C181.09,294.71 181.13,295.20 181.07,295.49 C181.02,295.78 180.81,296.08 180.67,296.22 C180.53,296.35 180.35,296.37 180.24,296.30 Z" fill="#969696" filter="url(#b03)"/>
<circle cx="180.76" cy="294.94" r="0.38" fill="#cfcfcf" filter="url(#b03)"/>
<path d="M175.29,287.18 C175.75,287.09 176.23,287.57 176.58,288.00 C176.93,288.43 177.47,289.24 177.39,289.74 C177.31,290.25 176.50,290.94 176.10,291.02 C175.70,291.09 175.36,290.59 174.98,290.18 C174.61,289.77 173.80,289.06 173.85,288.56 C173.91,288.06 174.84,287.28 175.29,287.18 Z" fill="#aeaeae" filter="url(#b03)"/>
<circle cx="175.19" cy="288.85" r="0.68" fill="#cfcfcf" filter="url(#b03)"/>
<path d="M177.19,289.98 C177.79,290.01 178.96,289.96 179.19,290.28 C179.41,290.59 178.84,291.50 178.56,291.85 C178.27,292.19 177.87,292.22 177.47,292.33 C177.07,292.45 176.46,292.68 176.17,292.52 C175.88,292.37 175.84,291.82 175.74,291.41 C175.65,291.01 175.37,290.34 175.61,290.10 C175.86,289.86 176.60,289.95 177.19,289.98 Z" fill="#969696" filter="url(#b03)"/>
<circle cx="176.87" cy="291.15" r="0.70" fill="#cfcfcf" filter="url(#b03)"/>
<path d="M167.15,287.00 C166.96,286.55 166.85,286.02 167.18,285.62 C167.50,285.23 168.75,284.37 169.11,284.60 C169.48,284.83 169.48,286.39 169.35,287.00 C169.22,287.62 168.70,288.29 168.33,288.29 C167.96,288.29 167.34,287.44 167.15,287.00 Z" fill="#bababa" filter="url(#b03)"/>
<circle cx="167.70" cy="286.04" r="0.62" fill="#cfcfcf" filter="url(#b03)"/>
<path d="M168.54,289.12 C168.15,288.96 167.35,288.18 167.42,287.88 C167.48,287.57 168.46,287.42 168.93,287.27 C169.41,287.12 169.95,286.81 170.26,286.97 C170.57,287.14 170.87,287.96 170.78,288.27 C170.69,288.58 170.11,288.70 169.73,288.84 C169.36,288.98 168.93,289.28 168.54,289.12 Z" fill="#aeaeae" filter="url(#b03)"/>
<circle cx="169.81" cy="288.43" r="0.48" fill="#cfcfcf" filter="url(#b03)"/>
<path d="M163.97,281.16 C164.19,281.07 164.47,280.83 164.73,280.84 C164.99,280.85 165.48,281.07 165.51,281.21 C165.54,281.35 165.07,281.56 164.90,281.68 C164.74,281.81 164.70,281.92 164.54,281.96 C164.39,282.00 164.18,281.94 163.96,281.92 C163.74,281.89 163.30,281.88 163.21,281.79 C163.12,281.69 163.28,281.45 163.41,281.34 C163.54,281.24 163.75,281.24 163.97,281.16 Z" fill="#bababa" filter="url(#b03)"/>
<circle cx="164.21" cy="281.89" r="0.35" fill="#cfcfcf" filter="url(#b03)"/>
<path d="M160.02,272.11 C159.58,272.03 158.62,271.64 158.44,271.33 C158.26,271.02 158.54,270.37 158.93,270.25 C159.31,270.13 160.30,270.44 160.76,270.62 C161.22,270.79 161.65,271.12 161.70,271.32 C161.75,271.52 161.37,271.69 161.09,271.82 C160.81,271.95 160.46,272.19 160.02,272.11 Z" fill="#969696" filter="url(#b03)"/>
<circle cx="160.53" cy="271.15" r="0.53" fill="#cfcfcf" filter="url(#b03)"/>
<path d="M159.59,271.56 C159.74,271.52 160.05,271.77 160.22,271.98 C160.39,272.19 160.52,272.54 160.62,272.82 C160.72,273.10 160.80,273.37 160.82,273.66 C160.84,273.96 160.88,274.47 160.75,274.60 C160.61,274.73 160.23,274.67 160.01,274.44 C159.80,274.22 159.58,273.61 159.46,273.24 C159.34,272.86 159.28,272.47 159.30,272.19 C159.32,271.91 159.43,271.59 159.59,271.56 Z" fill="#a2a2a2" filter="url(#b03)"/>
<circle cx="160.01" cy="272.73" r="0.47" fill="#cfcfcf" filter="url(#b03)"/>
<path d="M161.43,270.96 C161.62,271.25 161.43,271.97 161.37,272.47 C161.32,272.96 161.33,273.81 161.10,273.92 C160.86,274.02 160.23,273.38 159.95,273.10 C159.67,272.82 159.48,272.51 159.43,272.23 C159.39,271.96 159.57,271.70 159.69,271.45 C159.82,271.20 159.91,270.81 160.20,270.73 C160.49,270.65 161.23,270.67 161.43,270.96 Z" fill="#969696" filter="url(#b03)"/>
<circle cx="160.19" cy="271.96" r="0.51" fill="#cfcfcf" filter="url(#b03)"/>
<path d="M207.41,224.47 C207.48,224.74 207.07,225.25 206.98,225.58 C206.90,225.91 207.04,226.22 206.90,226.45 C206.76,226.67 206.32,227.01 206.13,226.92 C205.95,226.82 205.97,226.17 205.80,225.86 C205.64,225.56 205.14,225.33 205.15,225.11 C205.16,224.89 205.62,224.72 205.84,224.53 C206.07,224.34 206.25,223.97 206.51,223.96 C206.77,223.95 207.33,224.20 207.41,224.47 Z" fill="#969696" filter="url(#b03)"/>
<circle cx="206.32" cy="225.15" r="0.44" fill="#cfcfcf" filter="url(#b03)"/>
<path d="M207.39,227.22 C207.06,227.46 206.54,227.82 206.36,227.75 C206.19,227.69 206.31,227.14 206.34,226.85 C206.37,226.56 206.36,226.13 206.53,225.99 C206.71,225.86 207.08,225.99 207.39,226.05 C207.69,226.10 208.33,226.14 208.33,226.34 C208.33,226.53 207.71,226.99 207.39,227.22 Z" fill="#aeaeae" filter="url(#b03)"/>
<circle cx="206.81" cy="226.52" r="0.39" fill="#cfcfcf" filter="url(#b03)"/>
<path d="M204.28,227.63 C204.02,227.68 203.58,227.49 203.54,227.28 C203.50,227.08 203.82,226.60 204.02,226.39 C204.21,226.18 204.44,226.22 204.71,226.02 C204.97,225.83 205.38,225.23 205.59,225.21 C205.80,225.18 205.96,225.63 205.99,225.86 C206.02,226.09 205.93,226.41 205.78,226.60 C205.63,226.80 205.34,226.83 205.09,227.00 C204.84,227.17 204.54,227.59 204.28,227.63 Z" fill="#aeaeae" filter="url(#b03)"/>
<circle cx="205.01" cy="226.25" r="0.40" fill="#cfcfcf" filter="url(#b03)"/>
<path d="M214.14,225.87 C214.49,225.76 215.08,225.57 215.19,225.69 C215.30,225.81 214.93,226.29 214.79,226.59 C214.66,226.88 214.61,227.29 214.36,227.46 C214.12,227.64 213.51,227.71 213.33,227.64 C213.14,227.56 213.30,227.23 213.26,227.01 C213.22,226.80 212.95,226.53 213.10,226.34 C213.25,226.15 213.79,225.98 214.14,225.87 Z" fill="#a2a2a2" filter="url(#b03)"/>
<circle cx="214.31" cy="226.43" r="0.40" fill="#cfcfcf" filter="url(#b03)"/>
<path d="M213.85,226.91 C214.29,226.76 215.14,226.67 215.32,226.84 C215.51,227.01 215.03,227.61 214.96,227.90 C214.88,228.19 215.02,228.43 214.85,228.57 C214.67,228.72 214.26,228.74 213.90,228.77 C213.54,228.79 212.91,228.92 212.70,228.74 C212.50,228.57 212.49,228.03 212.68,227.72 C212.88,227.42 213.41,227.05 213.85,226.91 Z" fill="#969696" filter="url(#b03)"/>
<circle cx="213.84" cy="227.77" r="0.47" fill="#cfcfcf" filter="url(#b03)"/>
<path d="M227.38,226.56 C227.36,226.84 227.23,227.05 227.14,227.19 C227.05,227.33 226.95,227.36 226.83,227.41 C226.71,227.46 226.59,227.58 226.41,227.49 C226.23,227.40 225.81,227.15 225.75,226.87 C225.69,226.59 225.93,226.15 226.05,225.83 C226.18,225.51 226.31,225.00 226.50,224.95 C226.70,224.89 227.06,225.24 227.21,225.51 C227.35,225.78 227.39,226.28 227.38,226.56 Z" fill="#aeaeae" filter="url(#b03)"/>
<circle cx="226.75" cy="226.59" r="0.42" fill="#cfcfcf" filter="url(#b03)"/>
<path d="M227.30,224.88 C227.28,225.01 226.90,225.34 226.74,225.56 C226.58,225.78 226.50,226.09 226.35,226.20 C226.20,226.32 225.96,226.30 225.83,226.25 C225.70,226.21 225.54,226.09 225.57,225.94 C225.61,225.79 225.91,225.52 226.05,225.36 C226.18,225.20 226.26,225.09 226.39,225.00 C226.52,224.90 226.68,224.80 226.83,224.78 C226.98,224.76 227.32,224.75 227.30,224.88 Z" fill="#bababa" filter="url(#b03)"/>
<circle cx="226.42" cy="225.13" r="0.34" fill="#cfcfcf" filter="url(#b03)"/>
<path d="M226.85,225.68 C227.08,225.73 227.13,226.01 227.21,226.24 C227.28,226.48 227.46,226.85 227.31,227.09 C227.16,227.33 226.58,227.69 226.29,227.69 C226.00,227.69 225.63,227.40 225.55,227.11 C225.47,226.82 225.60,226.20 225.82,225.96 C226.03,225.73 226.61,225.63 226.85,225.68 Z" fill="#aeaeae" filter="url(#b03)"/>
<circle cx="226.39" cy="226.57" r="0.34" fill="#cfcfcf" filter="url(#b03)"/>
<path d="M220.01,229.78 C220.30,229.48 220.73,228.82 220.97,228.83 C221.21,228.83 221.36,229.44 221.43,229.82 C221.50,230.20 221.58,230.74 221.40,231.09 C221.22,231.44 220.64,231.85 220.35,231.91 C220.05,231.97 219.82,231.66 219.63,231.45 C219.44,231.24 219.14,230.92 219.20,230.64 C219.26,230.36 219.71,230.08 220.01,229.78 Z" fill="#969696" filter="url(#b03)"/>
<circle cx="220.92" cy="230.57" r="0.57" fill="#cfcfcf" filter="url(#b03)"/>
<path d="M218.95,233.32 C218.68,233.28 218.53,232.89 218.46,232.67 C218.38,232.44 218.42,232.21 218.50,231.95 C218.58,231.69 218.66,231.35 218.96,231.10 C219.25,230.84 219.93,230.34 220.26,230.41 C220.59,230.49 220.97,231.13 220.95,231.55 C220.92,231.98 220.45,232.65 220.12,232.94 C219.79,233.24 219.23,233.37 218.95,233.32 Z" fill="#a2a2a2" filter="url(#b03)"/>
<circle cx="219.35" cy="231.89" r="0.51" fill="#cfcfcf" filter="url(#b03)"/>
<path d="M219.19,227.49 C219.47,227.46 220.03,227.50 220.35,227.73 C220.66,227.96 220.92,228.50 221.09,228.87 C221.26,229.25 221.49,229.77 221.37,229.98 C221.25,230.20 220.71,230.27 220.36,230.15 C220.01,230.04 219.58,229.57 219.29,229.29 C219.00,229.02 218.71,228.75 218.61,228.51 C218.52,228.28 218.62,228.05 218.71,227.88 C218.81,227.71 218.92,227.52 219.19,227.49 Z" fill="#969696" filter="url(#b03)"/>
<circle cx="219.28" cy="228.25" r="0.63" fill="#cfcfcf" filter="url(#b03)"/>
<path d="M192.83,254.19 C192.62,254.26 192.41,254.35 192.10,254.30 C191.78,254.24 191.22,254.13 190.93,253.87 C190.65,253.61 190.24,252.92 190.37,252.73 C190.51,252.53 191.35,252.82 191.73,252.70 C192.11,252.59 192.35,251.96 192.64,252.03 C192.93,252.10 193.33,252.82 193.45,253.13 C193.57,253.43 193.46,253.70 193.36,253.88 C193.26,254.06 193.04,254.12 192.83,254.19 Z" fill="#aeaeae" filter="url(#b03)"/>
<circle cx="192.26" cy="253.94" r="0.53" fill="#cfcfcf" filter="url(#b03)"/>
<path d="M193.43,254.77 C193.78,255.33 194.26,256.33 194.08,256.78 C193.89,257.22 192.80,257.68 192.31,257.45 C191.83,257.21 191.24,256.04 191.17,255.37 C191.11,254.70 191.57,253.54 191.95,253.44 C192.32,253.34 193.07,254.21 193.43,254.77 Z" fill="#a2a2a2" filter="url(#b03)"/>
<circle cx="193.06" cy="254.97" r="0.60" fill="#cfcfcf" filter="url(#b03)"/>
<path d="M193.49,255.96 C193.05,255.73 192.84,255.47 192.79,255.27 C192.75,255.06 192.97,254.89 193.23,254.72 C193.49,254.56 193.91,254.25 194.35,254.27 C194.79,254.30 195.58,254.63 195.85,254.87 C196.12,255.10 196.04,255.37 195.97,255.67 C195.90,255.97 195.83,256.59 195.42,256.64 C195.01,256.69 193.92,256.19 193.49,255.96 Z" fill="#bababa" filter="url(#b03)"/>
<circle cx="194.17" cy="255.93" r="0.68" fill="#cfcfcf" filter="url(#b03)"/>
<path d="M188.31,254.03 C188.13,253.46 188.57,251.73 189.01,251.23 C189.44,250.73 190.41,250.84 190.92,251.04 C191.43,251.25 191.93,251.82 192.05,252.45 C192.18,253.07 192.00,254.43 191.67,254.80 C191.34,255.16 190.63,254.79 190.07,254.66 C189.51,254.53 188.48,254.60 188.31,254.03 Z" fill="#a2a2a2" filter="url(#b03)"/>
<circle cx="190.34" cy="253.22" r="0.70" fill="#cfcfcf" filter="url(#b03)"/>
<path d="M199.31,273.39 C199.51,273.59 199.60,273.98 199.45,274.23 C199.30,274.47 198.78,274.87 198.41,274.84 C198.05,274.81 197.31,274.34 197.28,274.04 C197.25,273.74 197.89,273.17 198.23,273.06 C198.57,272.95 199.10,273.20 199.31,273.39 Z" fill="#a2a2a2" filter="url(#b03)"/>
<circle cx="198.76" cy="274.15" r="0.37" fill="#cfcfcf" filter="url(#b03)"/>
<path d="M199.40,275.75 C199.16,275.68 198.74,275.30 198.54,275.01 C198.34,274.71 198.17,274.22 198.18,273.97 C198.19,273.73 198.40,273.61 198.59,273.54 C198.77,273.47 199.11,273.38 199.30,273.55 C199.49,273.71 199.62,274.23 199.73,274.55 C199.84,274.86 200.02,275.23 199.97,275.43 C199.91,275.63 199.64,275.82 199.40,275.75 Z" fill="#aeaeae" filter="url(#b03)"/>
<circle cx="199.46" cy="274.42" r="0.38" fill="#cfcfcf" filter="url(#b03)"/>
<path d="M204.49,280.63 C204.19,280.96 203.30,281.24 203.02,281.05 C202.75,280.85 202.86,279.92 202.84,279.47 C202.81,279.01 202.71,278.59 202.87,278.31 C203.02,278.03 203.44,277.90 203.78,277.79 C204.12,277.67 204.72,277.43 204.89,277.63 C205.05,277.84 204.83,278.52 204.77,279.02 C204.70,279.51 204.78,280.29 204.49,280.63 Z" fill="#969696" filter="url(#b03)"/>
<circle cx="203.51" cy="279.54" r="0.53" fill="#cfcfcf" filter="url(#b03)"/>
<path d="M204.02,281.77 C203.81,281.76 203.62,281.56 203.52,281.43 C203.41,281.29 203.39,281.18 203.38,280.96 C203.38,280.74 203.24,280.29 203.49,280.08 C203.74,279.88 204.49,279.70 204.88,279.74 C205.27,279.78 205.71,280.07 205.81,280.30 C205.91,280.53 205.67,280.91 205.50,281.11 C205.32,281.31 205.01,281.39 204.76,281.50 C204.52,281.62 204.23,281.78 204.02,281.77 Z" fill="#a2a2a2" filter="url(#b03)"/>
<circle cx="204.94" cy="280.55" r="0.55" fill="#cfcfcf" filter="url(#b03)"/>
<path d="M204.37,276.49 C204.65,276.49 204.79,276.97 205.06,277.15 C205.34,277.34 206.08,277.45 206.03,277.60 C205.98,277.74 205.10,277.81 204.78,278.04 C204.45,278.27 204.36,278.91 204.07,278.98 C203.77,279.05 203.26,278.67 203.01,278.47 C202.75,278.27 202.48,278.00 202.54,277.78 C202.59,277.56 203.05,277.35 203.35,277.14 C203.66,276.93 204.08,276.49 204.37,276.49 Z" fill="#bababa" filter="url(#b03)"/>
<circle cx="204.10" cy="277.12" r="0.51" fill="#cfcfcf" filter="url(#b03)"/>
<path d="M202.49,277.68 C202.71,277.30 203.25,276.55 203.50,276.52 C203.76,276.49 204.10,277.12 204.02,277.50 C203.94,277.88 203.34,278.59 203.05,278.80 C202.75,279.02 202.33,278.97 202.23,278.78 C202.14,278.59 202.28,278.05 202.49,277.68 Z" fill="#bababa" filter="url(#b03)"/>
<circle cx="202.97" cy="278.30" r="0.59" fill="#cfcfcf" filter="url(#b03)"/>
<path d="M188.00,273.74 C188.01,274.12 188.07,274.36 187.94,274.64 C187.80,274.92 187.42,275.44 187.20,275.40 C186.97,275.36 186.78,274.74 186.57,274.41 C186.35,274.08 185.91,273.76 185.91,273.42 C185.92,273.08 186.27,272.53 186.59,272.36 C186.91,272.18 187.61,272.13 187.84,272.36 C188.08,272.59 187.98,273.36 188.00,273.74 Z" fill="#aeaeae" filter="url(#b03)"/>
<circle cx="187.01" cy="273.46" r="0.43" fill="#cfcfcf" filter="url(#b03)"/>
<path d="M188.41,274.85 C188.19,274.93 187.95,274.77 187.84,274.62 C187.72,274.48 187.69,274.24 187.71,273.99 C187.74,273.74 187.83,273.32 188.00,273.10 C188.17,272.88 188.55,272.72 188.76,272.67 C188.97,272.62 189.13,272.70 189.25,272.80 C189.36,272.90 189.45,273.06 189.44,273.29 C189.43,273.51 189.36,273.87 189.19,274.13 C189.02,274.39 188.64,274.77 188.41,274.85 Z" fill="#a2a2a2" filter="url(#b03)"/>
<circle cx="188.60" cy="273.47" r="0.37" fill="#cfcfcf" filter="url(#b03)"/>
<path d="M186.40,274.16 C186.17,274.09 185.85,273.86 185.86,273.61 C185.88,273.37 186.28,272.89 186.49,272.67 C186.70,272.46 186.90,272.40 187.13,272.33 C187.36,272.26 187.74,272.11 187.86,272.24 C187.97,272.37 187.92,272.82 187.81,273.12 C187.71,273.42 187.47,273.86 187.24,274.04 C187.00,274.21 186.63,274.23 186.40,274.16 Z" fill="#a2a2a2" filter="url(#b03)"/>
<circle cx="187.23" cy="272.85" r="0.39" fill="#cfcfcf" filter="url(#b03)"/>
<path d="M180.21,269.18 C180.34,268.95 180.75,268.66 181.03,268.69 C181.32,268.72 181.78,269.03 181.91,269.35 C182.04,269.66 181.96,270.32 181.81,270.59 C181.66,270.85 181.26,270.89 181.01,270.94 C180.76,270.99 180.44,271.03 180.31,270.88 C180.18,270.74 180.26,270.36 180.25,270.08 C180.23,269.79 180.08,269.41 180.21,269.18 Z" fill="#aeaeae" filter="url(#b03)"/>
<circle cx="180.77" cy="269.94" r="0.38" fill="#cfcfcf" filter="url(#b03)"/>
<path d="M173.47,249.08 C173.61,249.22 173.95,249.70 173.87,249.96 C173.79,250.21 173.23,250.56 173.00,250.59 C172.77,250.61 172.46,250.36 172.47,250.11 C172.47,249.87 172.86,249.27 173.02,249.10 C173.19,248.93 173.33,248.94 173.47,249.08 Z" fill="#aeaeae" filter="url(#b03)"/>
<circle cx="173.08" cy="249.36" r="0.39" fill="#cfcfcf" filter="url(#b03)"/>
<path d="M165.84,246.84 C165.87,247.02 166.01,247.20 165.95,247.41 C165.88,247.63 165.57,248.12 165.44,248.14 C165.32,248.16 165.30,247.71 165.21,247.55 C165.11,247.39 164.88,247.36 164.90,247.18 C164.91,246.99 165.15,246.59 165.30,246.45 C165.45,246.30 165.69,246.26 165.78,246.32 C165.86,246.39 165.81,246.66 165.84,246.84 Z" fill="#969696" filter="url(#b03)"/>
<circle cx="165.81" cy="246.92" r="0.31" fill="#cfcfcf" filter="url(#b03)"/>
<path d="M160.79,263.48 C160.69,263.28 160.66,262.89 160.78,262.75 C160.89,262.61 161.29,262.55 161.48,262.66 C161.68,262.76 161.76,263.19 161.96,263.40 C162.16,263.60 162.62,263.71 162.70,263.89 C162.79,264.07 162.61,264.38 162.46,264.46 C162.31,264.55 162.01,264.47 161.82,264.39 C161.64,264.30 161.55,264.13 161.37,263.98 C161.20,263.83 160.89,263.69 160.79,263.48 Z" fill="#bababa" filter="url(#b03)"/>
<circle cx="161.91" cy="263.72" r="0.35" fill="#cfcfcf" filter="url(#b03)"/>
<path d="M162.51,263.88 C162.16,263.70 162.09,263.62 161.93,263.36 C161.77,263.10 161.35,262.47 161.54,262.31 C161.72,262.14 162.63,262.22 163.06,262.37 C163.48,262.53 163.92,262.88 164.09,263.22 C164.26,263.57 164.32,264.33 164.05,264.44 C163.79,264.55 162.86,264.06 162.51,263.88 Z" fill="#a2a2a2" filter="url(#b03)"/>
<circle cx="162.97" cy="263.41" r="0.46" fill="#cfcfcf" filter="url(#b03)"/>
<path d="M160.17,263.11 C160.31,263.02 160.52,262.75 160.61,262.88 C160.71,263.00 160.67,263.57 160.74,263.85 C160.81,264.12 161.03,264.37 161.03,264.53 C161.02,264.69 160.81,264.74 160.70,264.79 C160.58,264.84 160.45,264.92 160.32,264.83 C160.20,264.74 160.01,264.49 159.93,264.25 C159.84,264.01 159.75,263.57 159.79,263.38 C159.83,263.19 160.04,263.19 160.17,263.11 Z" fill="#aeaeae" filter="url(#b03)"/>
<circle cx="160.24" cy="263.65" r="0.34" fill="#cfcfcf" filter="url(#b03)"/>
<path d="M161.11,263.31 C161.10,263.08 160.80,262.88 160.93,262.69 C161.06,262.49 161.57,262.23 161.87,262.15 C162.18,262.06 162.66,262.04 162.76,262.19 C162.86,262.34 162.60,262.74 162.47,263.04 C162.34,263.33 162.25,263.78 162.00,263.95 C161.75,264.12 161.12,264.19 160.98,264.08 C160.83,263.97 161.11,263.54 161.11,263.31 Z" fill="#969696" filter="url(#b03)"/>
<circle cx="161.39" cy="262.85" r="0.37" fill="#cfcfcf" filter="url(#b03)"/>
<path d="M185.80,257.23 C185.50,257.04 185.57,256.52 185.28,256.19 C184.98,255.86 184.03,255.40 184.03,255.25 C184.04,255.11 184.98,255.35 185.31,255.31 C185.64,255.27 185.67,254.97 186.02,255.03 C186.36,255.08 187.05,255.34 187.37,255.64 C187.69,255.95 188.01,256.56 187.95,256.85 C187.90,257.13 187.40,257.27 187.04,257.34 C186.69,257.40 186.09,257.42 185.80,257.23 Z" fill="#a2a2a2" filter="url(#b03)"/>
<circle cx="185.86" cy="256.55" r="0.54" fill="#cfcfcf" filter="url(#b03)"/>
<path d="M188.33,257.02 C188.18,257.21 187.84,257.31 187.62,257.38 C187.41,257.45 187.23,257.49 187.04,257.44 C186.84,257.39 186.47,257.29 186.46,257.07 C186.45,256.84 186.78,256.29 186.99,256.09 C187.21,255.88 187.47,255.98 187.76,255.83 C188.05,255.68 188.63,255.11 188.76,255.18 C188.89,255.25 188.59,255.95 188.52,256.25 C188.45,256.56 188.48,256.84 188.33,257.02 Z" fill="#969696" filter="url(#b03)"/>
<circle cx="188.06" cy="256.22" r="0.45" fill="#cfcfcf" filter="url(#b03)"/>
<path d="M188.03,255.90 C188.46,256.10 189.12,256.96 189.16,257.39 C189.19,257.83 188.72,258.41 188.24,258.52 C187.76,258.63 186.55,258.44 186.28,258.05 C186.01,257.66 186.32,256.55 186.61,256.19 C186.90,255.83 187.61,255.70 188.03,255.90 Z" fill="#969696" filter="url(#b03)"/>
<circle cx="187.39" cy="257.42" r="0.53" fill="#cfcfcf" filter="url(#b03)"/>
<path d="M220.22,239.63 C220.38,239.22 221.09,239.06 221.48,239.13 C221.86,239.19 222.33,239.60 222.54,240.02 C222.76,240.43 222.91,241.14 222.79,241.60 C222.67,242.06 222.22,242.78 221.84,242.78 C221.45,242.78 220.75,242.12 220.48,241.59 C220.21,241.07 220.05,240.04 220.22,239.63 Z" fill="#a2a2a2" filter="url(#b03)"/>
<circle cx="221.55" cy="240.44" r="0.52" fill="#cfcfcf" filter="url(#b03)"/>
<path d="M222.89,241.35 C222.68,241.33 222.73,240.96 222.83,240.66 C222.93,240.35 223.20,239.71 223.48,239.54 C223.76,239.36 224.39,239.39 224.50,239.59 C224.60,239.80 224.37,240.46 224.11,240.75 C223.84,241.05 223.11,241.37 222.89,241.35 Z" fill="#bababa" filter="url(#b03)"/>
<circle cx="223.99" cy="240.71" r="0.50" fill="#cfcfcf" filter="url(#b03)"/>
<path d="M219.23,239.47 C219.08,239.10 218.66,238.55 218.88,238.26 C219.09,237.96 220.18,237.56 220.53,237.69 C220.89,237.81 220.97,238.67 221.01,239.01 C221.04,239.35 220.95,239.49 220.74,239.74 C220.54,239.98 220.03,240.52 219.78,240.48 C219.53,240.43 219.38,239.84 219.23,239.47 Z" fill="#bababa" filter="url(#b03)"/>
<circle cx="220.65" cy="239.16" r="0.49" fill="#cfcfcf" filter="url(#b03)"/>
<path d="M221.71,240.57 C221.52,240.42 221.34,239.85 221.26,239.50 C221.18,239.16 221.15,238.78 221.23,238.52 C221.31,238.26 221.54,237.92 221.73,237.95 C221.92,237.99 222.19,238.49 222.38,238.72 C222.57,238.94 222.72,239.01 222.87,239.30 C223.01,239.59 223.34,240.29 223.26,240.47 C223.19,240.65 222.68,240.37 222.42,240.39 C222.16,240.41 221.91,240.72 221.71,240.57 Z" fill="#a2a2a2" filter="url(#b03)"/>
<circle cx="222.39" cy="239.60" r="0.54" fill="#cfcfcf" filter="url(#b03)"/>
<path d="M229.25,256.20 C229.24,255.97 229.57,255.67 229.77,255.46 C229.98,255.25 230.26,254.94 230.49,254.92 C230.73,254.90 231.05,255.17 231.19,255.34 C231.34,255.50 231.35,255.72 231.36,255.91 C231.37,256.11 231.37,256.37 231.24,256.51 C231.12,256.64 230.84,256.69 230.61,256.74 C230.37,256.79 230.07,256.89 229.84,256.80 C229.62,256.71 229.26,256.42 229.25,256.20 Z" fill="#bababa" filter="url(#b03)"/>
<circle cx="230.50" cy="256.15" r="0.33" fill="#cfcfcf" filter="url(#b03)"/>
<path d="M203.79,254.91 C204.19,254.93 204.74,255.56 204.87,255.85 C205.00,256.14 204.83,256.58 204.56,256.68 C204.29,256.77 203.59,256.58 203.25,256.42 C202.90,256.26 202.38,255.98 202.47,255.73 C202.56,255.48 203.39,254.89 203.79,254.91 Z" fill="#a2a2a2" filter="url(#b03)"/>
<circle cx="204.12" cy="255.82" r="0.50" fill="#cfcfcf" filter="url(#b03)"/>
<path d="M205.35,253.14 C205.78,253.48 206.60,254.54 206.55,254.87 C206.50,255.21 205.43,255.14 205.05,255.15 C204.66,255.16 204.54,255.15 204.23,254.93 C203.93,254.72 203.26,254.20 203.21,253.85 C203.16,253.51 203.60,252.98 203.96,252.86 C204.32,252.74 204.92,252.81 205.35,253.14 Z" fill="#969696" filter="url(#b03)"/>
<circle cx="204.38" cy="253.72" r="0.57" fill="#cfcfcf" filter="url(#b03)"/>
<path d="M204.57,257.27 C204.03,257.04 203.44,256.27 203.37,255.84 C203.30,255.40 203.70,254.68 204.16,254.67 C204.62,254.67 205.70,255.39 206.11,255.82 C206.52,256.25 206.87,257.01 206.62,257.26 C206.36,257.50 205.11,257.51 204.57,257.27 Z" fill="#bababa" filter="url(#b03)"/>
<circle cx="205.42" cy="255.60" r="0.56" fill="#cfcfcf" filter="url(#b03)"/>
<path d="M203.92,256.32 C203.57,256.18 203.09,255.78 203.07,255.43 C203.04,255.09 203.48,254.60 203.78,254.26 C204.07,253.92 204.42,253.49 204.83,253.40 C205.25,253.31 206.13,253.43 206.27,253.72 C206.41,254.02 205.86,254.75 205.68,255.18 C205.49,255.61 205.46,256.10 205.17,256.29 C204.88,256.48 204.28,256.46 203.92,256.32 Z" fill="#aeaeae" filter="url(#b03)"/>
<circle cx="204.13" cy="254.59" r="0.60" fill="#cfcfcf" filter="url(#b03)"/>
<path d="M210.80,289.16 C210.93,289.31 211.02,289.58 210.92,289.68 C210.82,289.79 210.45,289.88 210.19,289.80 C209.92,289.73 209.48,289.42 209.32,289.22 C209.16,289.01 209.08,288.64 209.22,288.57 C209.35,288.50 209.87,288.70 210.13,288.79 C210.40,288.89 210.67,289.01 210.80,289.16 Z" fill="#969696" filter="url(#b03)"/>
<circle cx="210.06" cy="289.49" r="0.31" fill="#cfcfcf" filter="url(#b03)"/>
<path d="M230.24,281.32 C230.44,281.56 230.53,282.15 230.45,282.36 C230.38,282.57 230.06,282.60 229.79,282.58 C229.51,282.57 229.02,282.48 228.82,282.27 C228.62,282.06 228.68,281.62 228.60,281.32 C228.51,281.01 228.23,280.49 228.34,280.42 C228.45,280.36 228.92,280.77 229.24,280.92 C229.56,281.07 230.04,281.08 230.24,281.32 Z" fill="#a2a2a2" filter="url(#b03)"/>
<circle cx="229.45" cy="281.23" r="0.41" fill="#cfcfcf" filter="url(#b03)"/>
<path d="M228.13,283.17 C227.89,283.18 227.67,283.25 227.40,283.18 C227.13,283.10 226.66,282.94 226.49,282.72 C226.32,282.51 226.20,282.08 226.38,281.91 C226.55,281.74 227.20,281.66 227.53,281.71 C227.87,281.76 228.08,282.07 228.40,282.22 C228.72,282.36 229.39,282.46 229.46,282.61 C229.54,282.76 229.07,283.02 228.84,283.11 C228.62,283.21 228.38,283.16 228.13,283.17 Z" fill="#bababa" filter="url(#b03)"/>
<circle cx="228.17" cy="282.93" r="0.45" fill="#cfcfcf" filter="url(#b03)"/>
<path d="M248.81,255.08 C249.04,254.99 249.51,255.30 249.89,255.32 C250.28,255.35 250.91,255.12 251.10,255.26 C251.30,255.39 251.20,255.89 251.08,256.14 C250.96,256.39 250.67,256.61 250.39,256.76 C250.11,256.92 249.72,257.09 249.39,257.08 C249.06,257.07 248.55,256.91 248.41,256.71 C248.27,256.52 248.48,256.19 248.55,255.92 C248.61,255.65 248.59,255.18 248.81,255.08 Z" fill="#a2a2a2" filter="url(#b03)"/>
<circle cx="249.87" cy="255.75" r="0.44" fill="#cfcfcf" filter="url(#b03)"/>
<path d="M249.68,256.36 C249.44,256.03 249.24,255.36 249.49,255.10 C249.74,254.83 250.71,254.62 251.16,254.75 C251.60,254.88 252.04,255.56 252.15,255.87 C252.26,256.18 252.01,256.41 251.80,256.61 C251.59,256.82 251.26,257.15 250.90,257.10 C250.55,257.06 249.91,256.69 249.68,256.36 Z" fill="#bababa" filter="url(#b03)"/>
<circle cx="250.80" cy="256.03" r="0.52" fill="#cfcfcf" filter="url(#b03)"/>
<path d="M155.70,274.00 C156.28,275.00 158.20,277.83 159.20,280.00 C160.20,282.17 160.87,285.00 161.70,287.00 C162.53,289.00 163.78,291.17 164.20,292.00" fill="none" stroke="#d0d0d0" stroke-width="0.5" stroke-linejoin="round" opacity="0.8"/>
<path d="M155.70,276.00 C156.28,276.92 158.20,279.53 159.20,281.50 C160.20,283.47 160.87,285.95 161.70,287.80 C162.53,289.65 163.78,291.80 164.20,292.60" fill="none" stroke="#d0d0d0" stroke-width="0.5" stroke-linejoin="round" opacity="0.8"/>
<path d="M155.70,278.00 C156.28,278.83 158.20,281.23 159.20,283.00 C160.20,284.77 160.87,286.90 161.70,288.60 C162.53,290.30 163.78,292.43 164.20,293.20" fill="none" stroke="#d0d0d0" stroke-width="0.5" stroke-linejoin="round" opacity="0.8"/>
<path d="M155.70,280.00 C156.28,280.75 158.20,282.93 159.20,284.50 C160.20,286.07 160.87,287.85 161.70,289.40 C162.53,290.95 163.78,293.07 164.20,293.80" fill="none" stroke="#d0d0d0" stroke-width="0.5" stroke-linejoin="round" opacity="0.8"/>
</g>
<text x="162.00" y="231.30" font-size="7.0" text-anchor="start" fill="#000" stroke="#000" stroke-width="0.3">GO-20</text>
<text x="159.80" y="301.90" font-size="3.6" text-anchor="start" fill="#111" >1um</text>
<line x1="161.00" y1="304.00" x2="168.50" y2="304.00" stroke="#222" stroke-width="1.0" />
<line x1="161.00" y1="305.60" x2="168.50" y2="305.60" stroke="#ddd" stroke-width="0.8" />
<clipPath id="cK"><rect x="20.2" y="321.5" width="114.60000000000001" height="86.0"/></clipPath>
<g clip-path="url(#cK)">
<rect x="20.2" y="321.5" width="114.60000000000001" height="86.0" filter="url(#nK)"/>
<path d="M53.47,346.10 C52.78,344.54 58.35,340.60 61.84,338.78 C65.33,336.97 70.21,336.27 74.39,335.23 C78.58,334.18 82.41,333.48 86.95,332.51 C91.48,331.53 98.10,330.24 101.59,329.37 C105.08,328.50 105.95,326.75 107.87,327.28 C109.78,327.80 112.40,330.07 113.10,332.51 C113.79,334.95 114.32,340.00 112.05,341.92 C109.78,343.84 104.38,343.32 99.50,344.01 C94.62,344.71 88.34,345.41 82.76,346.10 C77.18,346.80 70.91,348.20 66.03,348.20 C61.14,348.20 54.17,347.67 53.47,346.10 Z" fill="#bababa" filter="url(#b3)" opacity="0.9"/>
<linearGradient id="gKb" x1="0" y1="0" x2="0" y2="1"><stop offset="0" stop-color="#c0c0c0"/><stop offset="0.35" stop-color="#b6b6b6"/><stop offset="1" stop-color="#b2b2b2"/></linearGradient>
<path d="M48.24,359.70 C48.24,357.79 48.77,357.09 49.29,355.52 C49.81,353.95 50.51,351.86 51.38,350.29 C52.25,348.72 52.78,347.50 54.52,346.10 C56.26,344.71 58.88,343.14 61.84,341.92 C64.80,340.70 68.81,339.55 72.30,338.78 C75.79,338.02 79.27,337.77 82.76,337.32 C86.25,336.86 89.74,336.34 93.22,336.06 C96.71,335.78 100.54,334.84 103.68,335.64 C106.82,336.45 110.31,337.74 112.05,340.87 C113.79,344.01 113.27,350.11 114.14,354.47 C115.01,358.83 116.58,363.54 117.28,367.03 C117.98,370.51 118.50,372.60 118.33,375.39 C118.15,378.18 117.63,381.67 116.23,383.76 C114.84,385.85 112.75,386.90 109.96,387.95 C107.17,388.99 103.33,389.34 99.50,390.04 C95.66,390.74 91.13,391.61 86.95,392.13 C82.76,392.65 78.23,393.52 74.39,393.18 C70.56,392.83 67.07,391.61 63.93,390.04 C60.79,388.47 57.66,386.20 55.56,383.76 C53.47,381.32 52.43,378.18 51.38,375.39 C50.33,372.60 49.81,369.64 49.29,367.03 C48.77,364.41 48.24,361.62 48.24,359.70 Z" fill="url(#gKb)" filter="url(#b08)"/>
<path d="M54.52,346.10 C54.00,346.80 52.25,348.72 51.38,350.29 C50.51,351.86 49.81,353.95 49.29,355.52 C48.77,357.09 48.24,357.79 48.24,359.70 C48.24,361.62 48.77,364.41 49.29,367.03 C49.81,369.64 50.33,372.60 51.38,375.39 C52.43,378.18 53.47,381.32 55.56,383.76 C57.66,386.20 60.79,388.47 63.93,390.04 C67.07,391.61 70.56,392.83 74.39,393.18 C78.23,393.52 82.76,392.65 86.95,392.13 C91.13,391.61 95.66,390.74 99.50,390.04 C103.33,389.34 107.17,388.99 109.96,387.95 C112.75,386.90 114.84,385.85 116.23,383.76 C117.63,381.67 117.98,376.79 118.33,375.39" fill="none" stroke="#a2a2a2" stroke-width="0.9" stroke-linejoin="round" opacity="0.55" style="filter:blur(0.4px)"/>
<path d="M97.41,373.30 C99.32,371.21 104.90,371.03 107.87,371.21 C110.83,371.38 113.62,372.78 115.19,374.35 C116.76,375.92 117.45,378.71 117.28,380.62 C117.11,382.54 115.71,384.56 114.14,385.85 C112.57,387.14 110.13,387.95 107.87,388.36 C105.60,388.78 102.46,389.13 100.54,388.36 C98.63,387.60 96.88,386.27 96.36,383.76 C95.84,381.25 95.49,375.39 97.41,373.30 Z" fill="#a9a9a9" filter="url(#b08)"/>
<path d="M57.66,362.84 C59.05,360.40 63.93,360.23 68.12,360.75 C72.30,361.27 78.23,364.58 82.76,365.98 C87.29,367.37 92.87,367.37 95.31,369.12 C97.75,370.86 98.80,374.00 97.41,376.44 C96.01,378.88 90.43,382.19 86.95,383.76 C83.46,385.33 79.97,385.85 76.49,385.85 C73.00,385.85 68.81,385.50 66.03,383.76 C63.24,382.02 61.14,378.88 59.75,375.39 C58.35,371.91 56.26,365.28 57.66,362.84 Z" fill="#9a9a9a" filter="url(#b3)" opacity="0.35"/>
<ellipse cx="62.89" cy="362.84" rx="5.35" ry="2.55" fill="#363636" style="filter:blur(0.55px)"/>
<ellipse cx="63.51" cy="363.42" rx="3.78" ry="1.80" fill="#363636" transform="rotate(27 63.51 363.42)" style="filter:blur(0.55px)"/>
<ellipse cx="60.51" cy="362.76" rx="3.78" ry="1.80" fill="#363636" transform="rotate(-9 60.51 362.76)" style="filter:blur(0.55px)"/>
<ellipse cx="71.88" cy="368.70" rx="3.40" ry="2.55" fill="#2c2c2c" style="filter:blur(0.45px)"/>
<ellipse cx="72.36" cy="369.66" rx="2.40" ry="1.80" fill="#2c2c2c" transform="rotate(-26 72.36 369.66)" style="filter:blur(0.45px)"/>
<ellipse cx="71.47" cy="369.58" rx="2.40" ry="1.80" fill="#2c2c2c" transform="rotate(8 71.47 369.58)" style="filter:blur(0.45px)"/>
<ellipse cx="76.07" cy="370.79" rx="2.98" ry="2.55" fill="#262626" style="filter:blur(0.45px)"/>
<ellipse cx="76.19" cy="370.97" rx="2.10" ry="1.80" fill="#262626" transform="rotate(-39 76.19 370.97)" style="filter:blur(0.45px)"/>
<ellipse cx="76.71" cy="370.57" rx="2.10" ry="1.80" fill="#262626" transform="rotate(-17 76.71 370.57)" style="filter:blur(0.45px)"/>
<ellipse cx="73.35" cy="374.35" rx="2.55" ry="2.04" fill="#303030" style="filter:blur(0.45px)"/>
<ellipse cx="74.35" cy="374.86" rx="1.80" ry="1.44" fill="#303030" transform="rotate(-20 74.35 374.86)" style="filter:blur(0.45px)"/>
<ellipse cx="73.98" cy="373.53" rx="1.80" ry="1.44" fill="#303030" transform="rotate(39 73.98 373.53)" style="filter:blur(0.45px)"/>
<ellipse cx="89.04" cy="372.26" rx="4.08" ry="3.74" fill="#3c3c3c" style="filter:blur(0.6px)"/>
<ellipse cx="89.49" cy="370.94" rx="2.88" ry="2.64" fill="#3c3c3c" transform="rotate(-40 89.49 370.94)" style="filter:blur(0.6px)"/>
<ellipse cx="90.85" cy="370.51" rx="2.88" ry="2.64" fill="#3c3c3c" transform="rotate(-13 90.85 370.51)" style="filter:blur(0.6px)"/>
<ellipse cx="80.67" cy="381.04" rx="3.40" ry="3.06" fill="#242424" style="filter:blur(0.45px)"/>
<ellipse cx="82.14" cy="380.08" rx="2.40" ry="2.16" fill="#242424" transform="rotate(-19 82.14 380.08)" style="filter:blur(0.45px)"/>
<ellipse cx="80.00" cy="382.37" rx="2.40" ry="2.16" fill="#242424" transform="rotate(29 80.00 382.37)" style="filter:blur(0.45px)"/>
<ellipse cx="68.54" cy="381.67" rx="2.04" ry="1.70" fill="#1c1c1c" style="filter:blur(0.4px)"/>
<ellipse cx="64.98" cy="372.26" rx="1.53" ry="1.36" fill="#3a3a3a" style="filter:blur(0.4px)"/>
<ellipse cx="59.75" cy="345.69" rx="1.36" ry="1.10" fill="#3c3c3c" style="filter:blur(0.4px)"/>
<ellipse cx="100.54" cy="372.26" rx="0.94" ry="0.85" fill="#666" style="filter:blur(0.4px)"/>
<ellipse cx="92.18" cy="375.81" rx="1.70" ry="1.36" fill="#505050" style="filter:blur(0.5px)"/>
<circle cx="66.44" cy="383.34" r="1.4" fill="#eaeaea" style="filter:blur(0.5px)"/>
<circle cx="57.66" cy="347.15" r="1.0" fill="#eaeaea" style="filter:blur(0.5px)"/>
<circle cx="70.21" cy="375.81" r="1.0" fill="#eaeaea" style="filter:blur(0.5px)"/>
<circle cx="82.76" cy="336.69" r="0.45" fill="#666"/>
<circle cx="89.04" cy="348.20" r="0.45" fill="#666"/>
<circle cx="107.87" cy="368.07" r="0.45" fill="#666"/>
<circle cx="112.05" cy="373.30" r="0.45" fill="#666"/>
<circle cx="118.33" cy="377.49" r="0.45" fill="#666"/>
<circle cx="48.24" cy="381.67" r="0.45" fill="#666"/>
<circle cx="102.64" cy="381.67" r="0.45" fill="#666"/>
<circle cx="105.77" cy="383.76" r="0.45" fill="#666"/>
<circle cx="93.22" cy="344.01" r="0.45" fill="#666"/>
<circle cx="115.19" cy="348.20" r="0.45" fill="#666"/>
<circle cx="103.68" cy="355.52" r="0.45" fill="#666"/>
<circle cx="45.10" cy="383.76" r="0.45" fill="#666"/>
</g>
<text x="23.60" y="331.60" font-size="7.0" text-anchor="start" fill="#000" stroke="#000" stroke-width="0.2">GO-100</text>
<text x="24.80" y="402.60" font-size="4.0" text-anchor="start" fill="#000" >100nm</text>
<line x1="24.20" y1="404.50" x2="38.60" y2="404.50" stroke="#111" stroke-width="0.9" />
<clipPath id="cL"><rect x="157.2" y="321.5" width="111.69999999999999" height="86.0"/></clipPath>
<g clip-path="url(#cL)">
<rect x="157.2" y="321.5" width="111.69999999999999" height="86.0" filter="url(#nL)"/>
<path d="M159.47,351.52 C161.03,349.21 164.68,347.27 168.41,346.60 C172.13,345.93 177.72,346.68 181.82,347.50 C185.91,348.32 190.01,349.73 192.99,351.52 C195.97,353.31 198.13,355.99 199.69,358.22 C201.26,360.46 203.12,362.99 202.37,364.93 C201.63,366.86 198.28,369.40 195.22,369.84 C192.17,370.29 187.77,368.20 184.05,367.61 C180.33,367.01 176.23,366.64 172.88,366.27 C169.53,365.90 166.25,366.34 163.94,365.37 C161.63,364.41 159.77,362.77 159.02,360.46 C158.28,358.15 157.91,353.83 159.47,351.52 Z" fill="#a2a2a2" filter="url(#b2)"/>
<path d="M192.99,367.61 C194.18,365.19 198.50,364.26 201.93,363.81 C205.35,363.36 210.12,364.15 213.55,364.93 C216.97,365.71 221.37,366.57 222.49,368.50 C223.60,370.44 222.19,374.46 220.25,376.55 C218.31,378.63 213.92,380.09 210.87,381.02 C207.81,381.95 204.61,382.58 201.93,382.13 C199.25,381.69 196.27,380.76 194.78,378.34 C193.29,375.91 191.80,370.03 192.99,367.61 Z" fill="#9c9c9c" filter="url(#b2)"/>
<path d="M224.46,367.79 C224.75,366.56 225.55,364.97 226.65,364.11 C227.74,363.25 229.80,363.42 231.02,362.64 C232.23,361.85 232.96,360.14 233.93,359.40 C234.90,358.67 235.88,358.91 236.85,358.23 C237.82,357.54 238.30,355.82 239.76,355.29 C241.22,354.75 243.65,354.75 245.59,354.99 C247.53,355.24 249.48,356.22 251.42,356.76 C253.36,357.30 255.31,357.25 257.25,358.23 C259.19,359.21 261.38,361.17 263.08,362.64 C264.78,364.11 266.28,365.58 267.45,367.05 C268.62,368.52 269.83,369.75 270.07,371.46 C270.32,373.18 269.34,375.38 268.91,377.34 C268.47,379.30 268.42,381.27 267.45,383.23 C266.48,385.19 265.02,387.52 263.08,389.11 C261.13,390.70 258.22,392.30 255.79,392.79 C253.36,393.28 250.93,391.88 248.51,392.05 C246.08,392.22 243.65,393.94 241.22,393.81 C238.79,393.69 235.75,392.59 233.93,391.31 C232.11,390.04 231.26,388.01 230.29,386.17 C229.32,384.33 228.71,382.25 228.10,380.29 C227.50,378.32 227.18,375.87 226.65,374.40 C226.11,372.93 225.26,372.56 224.90,371.46 C224.53,370.36 224.17,369.01 224.46,367.79 Z" fill="#dadada" filter="url(#b1)"/>
<clipPath id="cLc"><path d="M225.9,368.3 L227.6,367.5 L228.5,366.5 L227.9,364.8 L230.7,365.2 L231.3,364.3 L232.4,363.8 L233.2,362.7 L234.9,362.5 L235.0,360.7 L236.1,360.6 L236.5,359.5 L238.5,360.8 L238.2,358.0 L239.9,358.8 L240.2,356.5 L242.2,357.1 L243.8,356.3 L245.8,357.7 L247.5,357.9 L249.2,359.0 L251.2,357.9 L252.8,358.9 L254.3,360.1 L256.0,360.5 L257.5,362.0 L259.3,363.0 L261.7,363.8 L262.8,365.2 L264.7,366.3 L264.7,368.1 L267.2,368.9 L268.3,370.2 L268.6,371.7 L268.2,373.5 L268.1,375.3 L266.0,376.9 L266.4,378.8 L265.1,380.3 L266.2,382.6 L264.4,384.2 L262.2,385.3 L261.5,387.6 L259.9,389.3 L257.3,389.9 L254.6,390.1 L253.1,391.7 L250.4,389.4 L248.5,391.1 L246.1,391.9 L243.9,391.9 L241.5,392.9 L239.6,391.2 L237.8,389.8 L235.2,389.6 L233.7,388.5 L232.5,387.0 L232.1,384.8 L230.3,383.7 L231.6,381.0 L229.9,379.7 L230.5,377.7 L229.4,376.1 L227.4,374.4 L228.9,373.6 L226.3,372.5 L226.0,371.6 L226.4,370.6 L227.7,369.8 Z"/></clipPath>
<g clip-path="url(#cLc)" style="filter:blur(0.35px)"><rect x="224" y="354" width="47" height="41" filter="url(#nLc)"/></g>
</g>
<text x="161.60" y="331.60" font-size="7.2" text-anchor="start" fill="#000" stroke="#000" stroke-width="0.2">GO-20</text>
<text x="162.60" y="402.80" font-size="4.2" text-anchor="start" fill="#000" >20nm</text>
<line x1="161.30" y1="404.50" x2="175.50" y2="404.50" stroke="#111" stroke-width="0.9" />
</svg></body></html>
